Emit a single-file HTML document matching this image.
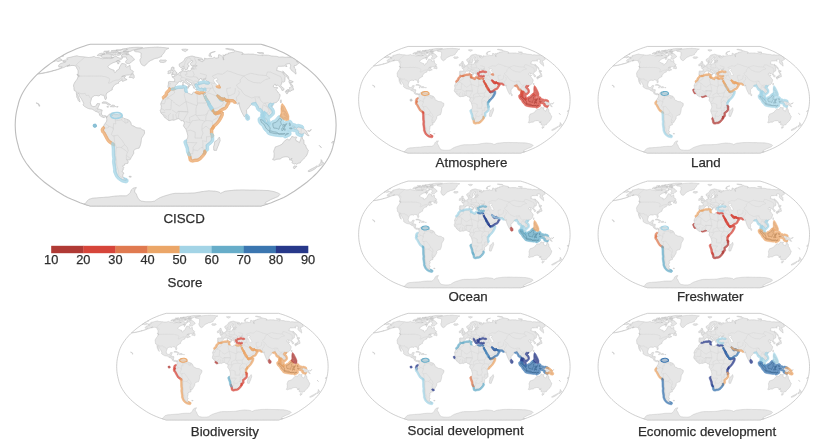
<!DOCTYPE html>
<html><head><meta charset="utf-8"><style>
html,body{margin:0;padding:0;background:#fff;}
body{width:820px;height:448px;overflow:hidden;position:relative;}
svg{position:absolute;left:0;top:0;filter:blur(0.3px);}
.lb{font-family:"Liberation Sans",sans-serif;font-size:13.3px;fill:#2e2e2e;stroke:#2e2e2e;stroke-width:0.25px;}
.tk{font-family:"Liberation Sans",sans-serif;font-size:12.8px;fill:#2e2e2e;stroke:#2e2e2e;stroke-width:0.25px;}
</style></head><body>
<svg width="820" height="448" viewBox="0 0 820 448">
<defs>
<g id="base">
<path d="M90.3,206.0 87.3,205.1 83.8,204.0 80.0,202.7 76.0,201.1 71.7,199.3 67.6,197.4 63.9,195.4 60.3,193.3 57.0,191.2 53.8,189.0 50.6,186.8 47.5,184.5 44.5,182.2 41.7,179.8 38.9,177.4 36.4,175.0 34.0,172.6 31.8,170.1 29.7,167.7 27.8,165.2 26.0,162.7 24.4,160.2 22.9,157.7 21.6,155.2 20.5,152.7 19.5,150.2 18.7,147.7 18.1,145.2 17.4,142.6 16.8,140.1 16.3,137.6 15.9,135.1 15.6,132.6 15.4,130.1 15.3,127.6 15.2,125.1 15.3,122.6 15.4,120.1 15.6,117.6 15.9,115.1 16.3,112.6 16.8,110.1 17.4,107.6 18.1,105.0 18.7,102.5 19.5,100.0 20.5,97.5 21.6,95.0 22.9,92.5 24.4,90.0 26.0,87.5 27.8,85.0 29.7,82.5 31.8,80.1 34.0,77.6 36.4,75.2 38.9,72.8 41.7,70.4 44.5,68.0 47.5,65.7 50.6,63.4 53.8,61.2 57.0,59.0 60.3,56.9 63.9,54.8 67.6,52.8 71.7,50.9 76.0,49.1 80.0,47.5 83.8,46.2 87.3,45.1 90.3,44.2 261.0,44.2 264.0,45.1 267.5,46.2 271.3,47.5 275.3,49.1 279.6,50.9 283.7,52.8 287.4,54.8 291.0,56.9 294.3,59.0 297.5,61.2 300.7,63.4 303.8,65.7 306.8,68.0 309.6,70.4 312.4,72.8 314.9,75.2 317.3,77.6 319.5,80.1 321.6,82.5 323.5,85.0 325.3,87.5 326.9,90.0 328.4,92.5 329.7,95.0 330.8,97.5 331.8,100.0 332.6,102.5 333.2,105.0 333.9,107.6 334.5,110.1 335.0,112.6 335.4,115.1 335.7,117.6 335.9,120.1 336.0,122.6 336.1,125.1 336.0,127.6 335.9,130.1 335.7,132.6 335.4,135.1 335.0,137.6 334.5,140.1 333.9,142.6 333.2,145.2 332.6,147.7 331.8,150.2 330.8,152.7 329.7,155.2 328.4,157.7 326.9,160.2 325.3,162.7 323.5,165.2 321.6,167.7 319.5,170.1 317.3,172.6 314.9,175.0 312.4,177.4 309.6,179.8 306.8,182.2 303.8,184.5 300.7,186.8 297.5,189.0 294.3,191.2 291.0,193.3 287.4,195.4 283.7,197.4 279.6,199.3 275.3,201.1 271.3,202.7 267.5,204.0 264.0,205.1 261.0,206.0Z" fill="#fff" stroke="#bdbdbd" stroke-width="1.1"/>
<path d="M113.5,57.2 112.7,57.3 111.9,57.3 111.1,57.4 110.9,58.1 111.7,58.1 112.6,58.2ZM118.3,51.6 117.3,51.6 116.4,51.7 115.5,51.7 114.6,51.8 114.3,52.5 115.2,52.5 116.0,52.5 116.9,52.5ZM120.2,52.5 119.4,52.6 118.7,52.6 117.9,52.7 117.6,53.2 118.6,53.2 119.5,53.2ZM109.3,50.9 108.3,51.0 107.3,51.1 106.3,51.2 105.3,51.2 104.4,51.3 103.5,52.1 104.5,52.0 105.4,52.0 106.4,52.0 107.3,51.9ZM117.2,50.2 116.2,50.3 115.3,50.3 114.3,50.4 113.4,50.4 112.5,50.5 111.5,50.6 111.1,51.3 111.9,51.3 112.7,51.2 113.6,51.2 114.4,51.1 115.3,51.1 116.1,51.0ZM122.0,49.5 121.1,49.5 120.2,49.6 119.3,49.7 118.4,49.7 117.4,49.8 116.5,49.8 116.5,50.3 116.5,50.7 117.3,50.7 118.1,50.6 119.0,50.6 119.8,50.5 120.6,50.5 121.4,50.4ZM128.6,53.8 127.8,53.9 126.9,54.0 126.0,54.0 126.0,54.8 126.8,54.7 127.6,54.7 128.3,54.6ZM118.9,63.1 117.6,63.4 117.7,63.9 118.9,63.6ZM36.3,102.8 37.0,103.1 37.7,103.4 38.9,103.9 39.3,104.7 39.9,106.1 38.9,106.2 38.8,105.0 38.2,104.0 37.3,103.6 36.3,103.2ZM53.4,70.6 52.2,70.9 51.0,71.2 49.7,71.5 48.4,71.8 47.0,72.1 45.7,72.5 44.3,72.7 42.9,73.0 41.5,73.2 40.3,73.4 39.1,73.6 38.0,73.7 37.6,74.1 38.7,73.9 39.9,73.8 41.1,73.6 42.5,73.4 43.9,73.1 45.3,72.8 46.6,72.6 47.9,72.3 49.2,72.0 50.4,71.7 51.5,71.4 52.6,71.0ZM319.2,145.4 319.8,146.0 320.4,146.7 321.3,147.7 321.2,147.2 320.4,146.5 319.6,145.8ZM332.9,141.3 334.0,141.7 332.9,142.5 332.2,143.3 331.6,142.5ZM62.5,60.7 63.8,60.4 65.2,60.1 66.5,59.8 67.8,59.5 67.4,59.1 67.1,58.7 66.7,58.3 67.8,57.8 68.8,57.6 69.9,57.4 70.9,57.2 72.2,56.8 73.5,56.5 74.8,56.2 75.9,56.0 77.1,55.7 77.7,56.0 78.3,56.2 78.9,56.5 79.6,56.5 80.3,56.6 81.0,56.6 81.7,56.7 82.4,56.7 83.1,56.8 83.8,56.8 84.4,56.9 85.0,57.0 85.6,57.1 86.2,57.2 86.9,57.3 87.7,57.4 88.5,57.5 89.5,57.4 90.4,57.3 91.4,57.2 92.8,56.8 94.2,56.4 94.7,56.7 95.2,57.0 95.7,57.3 96.5,57.4 97.3,57.5 98.1,57.6 98.9,57.7 99.7,57.8 100.3,58.1 100.9,58.3 101.5,58.5 102.1,58.8 103.2,58.6 104.3,58.5 105.4,58.3 106.6,58.2 107.4,58.3 108.3,58.4 109.2,58.5 110.1,58.6 111.2,58.2 112.4,57.7 113.5,57.3 114.8,56.5 116.2,55.7 116.5,56.2 116.7,56.8 117.0,57.3 117.8,57.5 118.6,57.7 119.4,58.0 120.2,58.2 121.5,57.7 122.8,57.3 122.4,58.2 121.9,59.0 120.7,59.6 119.5,60.1 118.4,60.5 117.4,60.8 116.4,61.6 115.3,62.0 114.2,62.4 113.1,62.7 111.9,63.4 110.6,64.1 109.4,64.8 108.6,65.8 107.8,66.8 108.3,67.3 108.7,67.8 109.2,68.3 109.9,68.6 110.6,69.0 111.3,69.3 112.1,69.6 112.7,69.8 113.4,70.0 114.1,70.2 114.2,71.0 114.2,71.8 114.8,72.7 116.2,71.7 116.6,70.6 117.9,69.8 119.2,69.0 119.4,68.0 119.6,67.1 120.1,66.2 120.7,65.2 121.2,64.3 121.8,63.4 122.8,63.6 123.7,63.7 124.7,63.9 125.5,64.3 126.3,64.8 126.0,65.7 125.7,66.6 126.3,66.9 126.9,67.1 128.4,66.2 129.2,65.8 130.0,65.3 130.1,66.4 130.3,67.6 130.3,68.5 130.3,69.4 131.1,69.9 131.9,70.4 132.7,70.8 133.5,71.8 132.8,72.8 132.2,73.7 131.2,74.1 130.3,74.6 129.3,75.0 128.2,75.0 127.2,75.1 126.1,75.2 125.2,75.4 124.2,75.6 123.2,75.8 121.7,76.6 123.0,76.4 124.2,76.1 124.9,76.2 125.5,76.3 124.6,77.3 124.4,78.1 125.2,78.6 126.0,79.1 127.1,79.6 125.9,80.1 124.8,80.5 123.7,81.0 122.6,81.5 122.4,80.7 122.2,79.9 121.2,80.5 120.2,81.0 119.3,81.7 118.5,82.3 118.7,83.2 117.4,83.5 116.3,84.0 115.2,84.4 114.5,85.2 113.8,86.0 113.4,86.7 112.3,88.0 112.3,88.9 112.3,89.8 110.8,90.5 109.8,91.2 108.3,92.1 106.8,93.0 106.4,94.0 106.0,95.0 106.2,95.9 106.3,96.7 106.6,98.0 106.1,98.9 105.6,99.8 104.9,99.0 104.7,98.0 104.5,97.0 104.1,96.1 103.7,95.2 102.8,95.3 101.6,95.0 100.4,94.7 99.1,96.0 97.9,95.8 96.8,95.5 95.6,95.6 94.3,95.7 93.1,96.6 91.8,97.5 91.4,98.8 91.1,100.0 90.7,101.4 90.3,102.8 90.9,104.3 91.4,105.9 92.3,106.2 93.1,106.6 94.2,106.5 95.4,106.4 96.4,105.0 97.0,103.7 98.2,103.6 99.4,103.5 99.8,103.8 99.4,104.7 99.0,105.5 98.5,106.6 98.1,107.6 97.4,109.1 98.4,109.1 99.4,109.2 100.3,109.5 101.3,109.8 102.2,110.1 101.9,111.3 101.6,112.6 101.4,114.1 102.0,115.1 103.3,115.8 104.2,115.7 105.1,115.6 105.8,115.9 106.6,116.3 106.9,116.6 107.0,117.1 106.4,117.8 105.5,116.6 105.0,116.6 104.2,117.8 103.0,117.3 101.9,116.9 101.3,116.6 100.4,115.9 99.5,115.3 99.4,113.9 98.8,113.1 98.2,112.3 96.9,111.8 95.9,111.4 94.8,111.1 94.0,110.3 93.2,109.6 91.9,109.1 90.8,109.0 89.8,108.9 88.7,108.6 87.7,108.3 86.7,107.7 85.6,107.1 84.4,106.3 83.5,105.5 83.2,104.6 83.7,103.5 83.4,102.7 83.0,101.8 82.2,100.4 81.7,99.5 81.2,98.5 80.6,97.8 80.1,97.1 79.6,96.3 79.2,95.5 79.1,94.6 78.9,93.7 78.0,93.3 77.8,94.2 77.7,95.0 78.1,96.0 78.5,97.0 78.9,98.0 79.3,99.0 79.6,99.9 79.8,100.8 79.9,102.1 79.1,101.3 78.3,100.5 77.9,99.5 77.6,98.5 76.8,97.2 76.7,96.4 76.7,95.5 76.4,94.0 76.3,92.5 75.7,91.0 74.9,90.8 74.2,90.5 74.0,89.0 73.9,88.1 73.9,87.2 73.5,86.0 73.7,84.6 74.3,83.3 75.0,82.0 76.1,80.5 77.2,79.1 77.6,77.9 78.1,76.7 79.0,75.6 78.2,75.2 77.4,74.7 78.1,73.2 78.1,72.0 78.1,70.8 77.8,70.1 77.5,69.4 77.2,69.0 76.9,68.5 76.6,67.8 76.4,67.1 76.1,66.6 75.7,66.2 75.2,65.9 74.6,65.7 74.0,65.5 73.0,65.5 72.0,65.4 71.0,65.6 70.0,65.8 68.9,66.0 67.8,66.2 66.8,66.4 68.3,65.6 69.9,64.8 68.1,65.5 66.2,66.2 64.8,67.1 63.5,67.6 62.1,68.0 60.8,68.5 59.3,69.0 57.7,69.6 56.4,70.0 55.1,70.4 53.9,70.6 52.8,70.7 54.4,70.3 55.9,69.9 57.3,69.4 58.7,69.0 60.0,68.5 61.1,67.7 62.2,66.9 61.0,66.9 59.9,67.0 58.8,67.0 58.7,66.3 58.5,65.7 59.5,64.3 61.0,63.4 62.4,63.0 63.9,62.5 65.3,62.3 66.0,61.6 65.0,61.6 64.0,61.6 63.0,61.6 63.2,60.9 62.9,60.8ZM144.3,65.9 145.2,65.3 146.0,64.8 146.7,63.9 147.3,63.0 148.7,61.9 150.1,60.8 151.2,60.3 152.3,59.9 153.5,59.2 154.7,58.6 155.6,58.4 156.5,58.3 157.4,58.2 158.5,57.7 159.5,57.3 160.6,56.9 161.6,56.5 161.9,55.2 162.7,54.4 163.5,53.6 164.1,52.7 164.8,51.7 165.1,50.6 165.9,49.8 166.8,49.1 167.5,48.8 168.2,48.5 168.9,48.2 168.1,48.1 167.3,48.0 166.5,47.9 165.8,47.8 165.0,47.7 164.2,47.6 163.4,47.5 162.7,47.5 161.9,47.4 161.1,47.4 160.3,47.3 159.6,47.3 158.8,47.2 158.1,47.1 157.3,47.1 156.5,47.1 155.8,47.2 155.0,47.2 154.3,47.2 153.5,47.3 152.8,47.3 152.1,47.4 151.3,47.4 150.6,47.4 149.8,47.5 149.1,47.5 148.3,47.6 147.6,47.6 146.8,47.7 146.1,47.7 145.3,47.8 144.6,47.9 143.7,48.1 142.8,48.3 141.9,48.5 140.8,48.7 139.8,49.0 138.7,49.2 137.7,49.5 136.8,49.7 135.8,49.9 134.9,50.2 134.0,50.4 134.2,50.8 134.5,51.2 135.0,51.4 135.5,51.7 136.2,51.8 136.9,51.8 137.6,51.9 138.3,52.0 139.0,52.1 139.5,52.3 139.9,52.5 140.5,52.8 141.2,53.2 141.1,54.4 141.0,55.2 140.8,56.1 141.2,57.3 140.6,58.6 140.0,59.5 139.9,60.8 140.3,61.9 140.6,62.7 140.9,63.4 141.4,64.1 141.8,64.8 142.5,65.2 143.3,65.6 143.8,65.8ZM163.3,62.6 162.5,62.5 161.7,62.4 160.9,62.3 160.1,62.2 159.4,61.0 160.3,59.9 161.3,60.0 162.3,60.1 163.3,60.1 164.1,60.1 164.9,60.0 165.7,59.9 166.5,60.9 165.7,61.7 164.9,62.0 164.1,62.3ZM126.5,53.8 127.3,53.9 128.1,54.1 128.9,54.2 129.4,54.8 129.9,55.2 130.4,55.7 130.9,55.9 131.5,56.2 132.0,56.5 132.5,57.3 133.0,57.7 133.5,58.2 134.0,58.6 134.2,59.2 134.4,59.9 133.6,60.3 132.9,60.8 131.7,61.6 130.4,63.0 129.7,63.6 128.7,63.6 127.7,63.5 126.7,63.4 126.2,63.0 125.8,62.5 125.6,61.6 126.1,60.8 127.2,59.6 126.9,59.1 126.6,58.6 126.5,57.8 126.3,57.1 125.4,57.0 124.5,57.0 123.6,57.0 122.7,56.9 121.8,56.9 121.5,56.5 121.2,56.1 121.9,54.8 123.5,54.1 124.2,54.0 124.9,53.9 125.7,53.8ZM111.3,54.0 110.4,54.0 109.5,54.0 108.7,53.9 107.8,53.9 106.9,53.8 106.1,53.8 105.1,54.0 104.1,54.2 103.0,54.4 102.0,54.6 101.1,55.7 100.9,56.7 101.5,57.0 102.1,57.2 102.7,57.5 103.5,57.6 104.4,57.7 105.3,57.8 106.1,57.9 107.3,57.8 108.4,57.6 109.5,57.5 110.6,57.3 111.6,56.2 111.4,55.7 111.3,55.2 111.3,54.6ZM101.9,53.2 100.8,53.4 99.8,53.5 98.7,54.2 97.7,54.8 97.3,55.7 98.0,55.7 98.7,55.8 99.3,55.8 100.6,55.4 101.9,55.0 103.4,54.5 104.9,54.0 104.7,53.4 104.0,53.4 103.3,53.3 102.6,53.3ZM138.8,47.3 139.4,47.3 140.1,47.4 140.7,47.4 141.4,47.4 142.1,47.5 142.7,47.5 141.9,47.9 141.1,48.2 140.2,48.4 139.4,48.5 138.5,48.7 137.6,48.9 136.7,49.2 135.7,49.4 134.7,49.6 133.7,49.8 132.3,50.4 131.2,51.0 130.0,51.5 129.2,51.6 128.4,51.7 127.6,51.8 126.8,51.8 126.1,51.8 125.3,51.8 124.6,51.7 123.9,51.7 123.2,51.7 124.3,50.9 126.0,50.2 127.6,49.5 127.3,49.1 127.0,48.8 126.6,48.5 127.7,48.2 128.7,48.0 129.7,47.7 130.5,47.7 131.3,47.6 132.1,47.5 132.9,47.5 133.6,47.4 134.4,47.4 135.1,47.4 135.9,47.3 136.6,47.3 137.3,47.3 138.0,47.3ZM128.9,51.5 128.0,51.6 127.1,51.6 126.3,51.6 125.4,51.7 124.5,51.7 123.6,51.7 122.8,51.8 121.7,51.9 120.6,52.1 119.6,52.3 118.5,52.5 119.0,52.8 119.5,53.2 120.3,53.2 121.2,53.2 122.0,53.2 122.8,53.2 123.6,53.2 124.4,53.2 125.3,53.2 126.1,53.2 127.2,52.8 128.3,52.5ZM114.2,52.1 113.3,52.1 112.5,52.1 111.7,52.1 110.9,52.2 110.1,52.2 109.2,52.2 108.4,52.3 107.6,52.3 106.8,52.4 106.0,52.5 106.0,52.8 106.1,53.2 107.0,53.2 107.9,53.2 108.8,53.2 109.6,53.2 110.5,53.2 111.4,53.2 112.3,53.2 113.4,52.7ZM120.9,53.6 120.1,53.7 119.3,53.7 118.5,53.8 117.7,53.8 116.6,54.6 117.0,54.9 117.4,55.2 117.9,55.6 118.7,55.3 119.5,55.1 121.2,54.3ZM116.3,53.6 115.4,53.7 114.5,53.8 113.6,53.8 112.7,53.9 111.8,55.0 112.4,55.2 113.0,55.3 113.5,55.5 114.5,55.1 115.5,54.8ZM125.5,48.5 124.7,48.6 123.8,48.7 123.0,48.9 122.1,49.0 122.1,49.4 122.1,49.8 122.7,50.1 123.2,50.3 124.4,50.1 125.6,49.8 126.8,49.5 126.8,48.8 126.2,48.6ZM118.6,60.5 117.3,60.8 116.1,61.2 116.5,61.8 117.0,62.4 118.1,62.2 119.2,62.1 120.3,62.0 119.9,61.5 119.6,60.9 119.1,60.7ZM133.2,73.6 133.6,74.6 134.1,75.6 134.2,76.6 134.2,77.5 133.5,78.4 132.6,77.9 131.6,77.5 130.8,77.5 129.9,77.4 129.1,77.4 129.8,76.5 130.6,75.6 131.5,74.5 132.4,74.1ZM76.9,74.4 77.3,75.2 77.8,75.9 78.3,76.7 79.3,76.6 79.1,75.9 78.9,75.2 78.2,74.9 77.6,74.6ZM103.8,101.8 104.9,101.9 106.0,101.9 107.0,102.5 108.0,103.0 108.9,103.6 109.8,104.2 110.7,104.8 109.7,104.9 108.8,105.0 107.8,105.1 107.2,104.3 106.7,103.4 105.8,103.3 105.0,103.2 103.9,103.2 102.9,103.2 101.9,103.1 102.7,102.1ZM111.9,105.1 113.1,105.2 114.3,105.3 115.0,106.0 115.6,106.6 114.5,106.7 113.3,106.9 112.3,106.8 111.3,106.7 110.3,106.7 111.1,106.2 111.8,105.6ZM106.9,106.6 107.8,106.6 108.7,106.7 108.2,107.3 107.5,107.1 106.8,106.9ZM116.7,106.6 117.4,106.6 118.1,106.7 117.8,107.1 116.6,107.1ZM106.9,116.6 108.2,115.6 109.3,114.1 110.1,113.9 111.0,113.8 112.2,112.7 112.0,113.6 112.2,114.6 112.1,115.9 112.7,115.0 113.4,114.1 113.6,113.6 114.5,114.1 115.3,114.6 116.2,114.6 117.1,114.6 118.0,114.7 118.9,114.9 119.8,114.6 120.7,114.4 121.1,115.3 121.9,116.5 123.2,117.6 123.9,118.3 124.8,118.6 125.8,118.9 126.7,119.2 127.9,119.7 129.1,120.2 130.2,121.6 131.1,123.1 131.1,124.6 132.4,125.6 133.8,126.1 135.0,126.9 136.2,127.6 137.2,127.8 138.2,127.9 139.3,128.0 140.5,128.1 141.4,128.9 142.3,129.6 143.3,130.0 144.3,130.3 144.5,131.8 144.6,133.2 144.0,134.4 143.3,135.6 142.4,136.9 141.6,138.1 141.4,139.4 141.3,140.6 141.1,141.9 140.9,143.1 140.5,144.7 140.0,146.2 139.5,147.2 139.1,148.2 138.0,148.2 137.2,148.5 136.3,148.8 135.4,149.2 134.5,149.9 133.6,150.7 133.7,151.9 133.8,153.2 133.2,154.2 132.7,155.2 131.9,156.4 131.1,157.7 130.5,159.0 129.5,160.1 128.5,160.0 127.5,159.8 126.5,159.7 127.6,160.7 128.2,161.6 128.1,162.4 128.0,163.2 126.8,163.5 125.6,163.8 124.4,164.1 124.5,165.2 123.5,165.7 122.5,166.2 124.1,167.7 123.6,168.2 123.1,168.7 123.2,170.1 122.6,170.6 122.0,171.1 122.4,172.1 123.2,172.6 124.0,173.1 123.3,174.1 122.7,175.0 122.8,175.8 122.9,176.6 123.7,177.4 124.2,178.2 125.6,179.2 126.4,179.5 127.1,179.7 126.5,179.9 125.9,180.1 125.9,180.7 125.0,180.4 124.0,180.1 123.2,179.9 122.4,179.7 121.3,179.1 120.3,178.4 118.6,177.0 117.9,176.0 117.2,175.0 116.8,174.1 116.4,173.1 116.1,172.1 115.7,171.1 115.7,170.1 115.8,169.2 115.5,167.7 115.3,166.2 115.1,165.2 115.0,164.2 114.8,163.1 114.7,162.0 114.8,161.1 115.0,160.2 115.0,159.2 115.0,158.2 114.8,156.7 114.5,155.2 114.5,153.7 114.5,152.2 114.5,151.0 114.4,149.9 114.4,148.8 114.3,147.7 114.3,146.7 114.2,145.7 114.1,144.7 113.9,143.6 112.9,142.9 111.9,142.1 110.7,141.4 109.5,140.6 108.8,139.6 108.2,138.6 107.4,137.1 106.6,135.6 105.9,134.1 105.3,133.1 104.7,132.1 103.6,131.1 103.3,129.8 104.1,128.6 104.4,127.6 103.6,127.3 103.6,126.1 104.3,124.6 104.7,124.1 105.7,122.6 106.7,121.1 106.8,119.6 106.5,118.1ZM129.2,176.2 130.2,176.3 131.2,176.4 131.1,177.2 130.1,177.1 129.1,177.0ZM170.7,89.2 170.3,90.1 169.9,91.0 169.2,91.5 168.5,92.0 167.3,93.5 167.4,94.6 166.7,95.6 166.0,96.5 165.2,97.0 164.4,97.5 163.1,98.9 162.5,100.0 161.9,101.0 161.5,102.0 161.0,103.0 160.7,104.2 161.0,105.1 161.4,106.1 161.2,107.6 161.1,109.1 160.2,110.4 160.5,111.5 160.8,112.6 161.9,114.1 162.7,114.8 163.5,115.6 163.9,116.6 164.7,117.3 165.4,118.1 166.8,119.1 167.9,119.9 169.0,120.7 170.0,120.5 171.1,120.2 172.1,120.0 173.0,120.1 173.9,120.3 174.8,119.9 175.7,119.6 176.5,119.2 177.4,118.9 178.7,118.7 179.3,119.0 180.0,119.3 181.0,120.8 181.9,120.7 182.8,120.7 183.7,121.1 184.4,122.6 184.2,123.6 183.9,124.6 183.4,125.7 184.0,126.7 184.6,127.6 185.9,129.1 186.2,130.1 186.6,131.1 187.0,132.5 187.4,133.9 187.6,134.9 187.9,135.9 187.7,136.8 187.6,137.6 187.0,138.9 186.3,140.1 186.2,141.1 186.0,142.1 186.6,143.6 187.1,145.2 187.7,146.6 188.3,148.1 188.4,149.3 188.6,150.5 188.7,151.8 189.2,152.8 189.7,153.8 190.2,155.0 190.7,156.2 190.7,157.1 190.8,158.0 191.0,158.8 191.2,159.6 192.5,160.0 193.5,159.7 194.6,159.4 195.5,159.3 196.4,159.3 197.2,159.2 198.3,158.7 199.3,158.2 200.0,157.4 200.8,156.7 201.5,155.9 202.2,155.1 202.9,154.1 203.6,153.2 204.1,152.1 203.9,151.1 204.7,150.2 205.6,149.6 206.5,149.1 206.4,147.6 206.3,146.2 206.2,145.0 207.5,143.9 208.7,143.0 210.0,142.1 210.8,141.1 211.6,140.1 211.6,138.9 211.6,137.6 211.5,136.6 211.5,135.6 211.1,134.6 210.7,133.6 210.6,132.8 210.6,131.9 210.6,130.8 210.6,129.6 211.0,129.1 211.6,128.1 212.2,127.1 212.9,126.1 213.5,125.1 214.8,124.1 216.0,123.1 217.2,121.6 218.4,120.1 219.2,118.6 220.1,117.1 220.7,115.9 221.2,114.7 221.1,113.3 220.1,113.6 219.1,113.9 217.9,114.1 216.7,114.4 215.6,114.7 214.3,113.6 213.9,113.6 214.0,112.5 212.9,111.8 211.9,111.1 211.2,110.3 210.5,109.5 210.0,108.5 209.5,107.6 208.9,106.5 208.2,105.4 208.0,104.2 207.8,103.0 207.0,101.8 206.2,100.5 205.5,99.2 204.8,97.8 204.1,96.5 203.5,95.1 203.2,93.7 202.4,93.6 201.6,93.5 201.1,93.8 200.3,94.0 199.5,94.1 198.2,93.8 196.9,93.5 196.0,92.9 194.7,92.2 193.4,92.2 192.6,92.9 192.3,93.8 191.9,94.7 191.0,94.4 190.2,94.0 188.8,93.5 187.8,92.8 186.8,92.1 186.1,92.1 185.4,92.0 184.9,91.2 184.7,90.3 184.9,89.2 184.8,87.9 183.8,87.7 183.1,87.9 182.3,88.1 181.5,88.1 180.6,88.0 179.4,88.1 178.2,88.2 177.3,88.5 176.5,88.7 175.8,89.0 175.1,89.3 174.2,89.6 173.2,89.8 172.5,89.8 171.9,89.8ZM219.3,137.1 219.9,138.6 220.0,139.6 220.2,140.6 219.6,142.1 219.0,143.6 218.5,145.2 217.8,146.7 217.2,148.2 216.8,149.3 216.5,150.4 215.8,150.4 215.1,150.5 213.8,150.2 213.7,148.7 213.6,147.7 213.6,146.7 214.0,145.4 214.4,144.1 214.4,143.1 214.5,142.1 215.3,141.1 216.6,140.6 217.6,139.6 218.3,138.4ZM203.5,95.1 204.0,96.5 205.1,97.3 205.4,96.5 205.6,95.5 206.0,97.0 206.6,98.0 207.2,99.0 207.9,100.0 208.6,101.0 209.2,102.3 209.9,103.5 210.7,104.8 211.6,106.1 212.3,107.1 213.0,108.1 213.2,109.1 213.4,110.1 213.8,111.6 214.1,112.4 215.5,112.3 216.6,111.9 217.6,111.6 218.9,110.6 219.8,110.1 220.6,109.6 221.9,108.6 223.2,108.1 224.4,107.6 225.5,106.6 225.9,105.5 226.4,104.5 227.1,103.5 227.8,102.5 226.6,101.4 225.9,101.0 225.1,100.5 224.7,99.6 224.3,98.6 223.7,99.5 223.0,100.8 221.9,100.9 220.8,101.0 220.3,100.4 220.4,99.5 220.0,98.9 219.7,100.0 218.9,98.5 217.9,97.5 217.4,96.6 216.8,95.7 217.2,95.0 218.5,95.5 219.7,96.5 220.9,97.5 222.3,98.0 223.2,98.5 224.2,98.0 225.1,98.5 225.9,99.5 227.2,99.6 228.5,99.7 229.6,99.8 230.7,99.8 231.8,99.8 232.9,99.8 233.8,100.2 235.0,101.2 235.8,102.5 236.3,103.5 237.6,104.2 238.3,103.9 239.0,103.5 238.9,102.5 239.1,104.0 239.3,105.0 239.5,106.1 239.8,107.1 240.1,108.1 240.7,109.6 241.2,110.8 241.7,112.1 242.3,113.1 242.8,114.1 243.3,115.1 243.9,116.0 244.5,117.0 245.1,116.1 245.8,115.4 246.4,114.8 246.6,113.4 246.7,112.1 246.5,111.1 246.3,110.1 247.5,109.1 248.2,108.2 248.9,107.4 249.5,106.5 250.1,105.5 251.4,105.0 251.6,103.5 252.5,103.3 253.3,103.0 254.6,103.0 255.3,102.2 255.7,102.7 256.3,104.0 257.1,105.0 258.2,106.6 258.6,108.1 259.4,109.1 260.6,108.6 261.9,110.1 262.5,111.6 263.1,113.1 263.1,114.1 263.1,115.1 263.0,116.1 263.0,117.1 263.8,117.8 264.7,118.6 265.0,120.1 265.5,121.1 265.9,122.1 267.0,122.9 268.2,123.8 268.0,123.1 267.9,122.1 267.7,121.1 267.1,119.8 266.4,118.6 265.1,117.9 264.5,117.0 263.8,116.1 263.6,114.6 263.9,113.6 264.1,112.6 264.1,111.8 264.5,111.6 265.5,112.6 266.4,112.9 267.0,114.1 267.4,114.6 268.7,115.6 268.7,116.5 269.5,115.8 270.3,115.1 271.0,114.6 271.7,113.8 272.4,113.1 272.3,111.6 271.8,110.1 271.0,109.1 270.1,108.3 269.3,107.6 268.4,106.1 268.9,104.5 269.2,104.0 270.4,103.3 271.5,103.5 272.1,104.7 272.2,104.0 273.0,103.5 274.1,103.1 275.2,102.7 276.0,102.5 276.7,102.2 277.4,101.5 278.4,100.5 279.1,99.0 279.6,97.5 280.0,96.2 280.1,95.0 279.6,94.0 278.5,93.0 277.5,91.5 276.7,90.5 275.9,89.5 276.8,88.8 277.8,88.1 277.5,87.6 276.7,87.5 275.8,87.4 275.1,87.5 274.5,87.5 273.4,86.8 273.1,86.0 273.9,85.5 274.3,84.9 274.6,84.2 275.8,84.5 276.0,86.0 276.6,85.6 277.2,85.2 277.9,85.2 279.1,86.5 280.6,87.3 281.0,88.2 281.5,89.0 282.0,90.5 282.9,90.3 284.0,89.9 283.8,88.5 282.3,87.0 280.7,85.5 280.8,85.0 281.2,84.5 281.7,84.0 281.6,82.7 282.2,81.9 283.3,82.2 284.0,81.9 284.7,81.5 284.9,80.1 285.0,79.1 285.0,78.1 285.1,77.4 285.3,76.6 284.4,75.2 283.3,73.7 282.5,72.3 281.4,71.8 280.3,71.5 279.2,71.2 278.0,70.8 276.5,70.4 276.8,69.7 277.1,69.0 277.1,68.3 277.2,67.6 277.5,67.2 277.9,66.7 278.3,66.3 279.2,66.3 280.1,66.3 281.0,66.3 281.8,66.3 282.7,66.2 283.5,66.2 284.0,66.1 284.5,66.0 285.8,66.3 287.0,66.6 286.4,65.5 285.8,64.3 286.6,64.1 287.4,63.9 288.1,63.7 288.9,63.6 289.6,63.4 290.4,64.8 290.8,65.9 290.6,66.4 290.4,67.0 290.2,67.6 290.2,68.5 290.9,69.4 291.5,70.4 293.1,71.6 294.6,72.9 296.0,74.2 296.0,73.5 296.0,72.8 295.6,71.3 295.6,70.6 295.5,69.9 295.8,69.4 294.4,68.0 294.2,66.9 294.0,65.9 294.8,65.7 295.5,65.5 296.2,65.3 296.6,65.0 297.0,64.7 297.4,64.3 297.8,64.0 298.2,63.7 298.6,63.4 297.6,62.5 296.5,61.6 297.1,61.4 297.5,61.2 295.9,60.1 294.2,58.9 292.4,57.8 291.3,57.6 290.2,57.4 289.1,57.3 288.0,57.1 287.3,57.1 286.6,57.2 285.9,57.3 285.2,57.3 284.1,57.2 283.1,57.0 282.0,56.9 281.3,57.0 280.6,57.0 279.9,57.1 279.1,57.2 278.0,56.8 276.8,56.4 275.8,56.3 274.8,56.3 273.8,56.2 272.8,56.1 271.9,56.1 270.7,55.8 269.6,55.5 268.5,55.2 267.4,55.2 266.4,55.1 265.4,55.1 264.4,55.0 263.3,54.9 262.6,54.8 262.8,55.7 261.7,55.5 260.7,55.4 259.6,55.2 258.6,55.1 257.5,54.9 256.5,54.7 255.5,54.6 254.4,54.4 253.3,54.1 252.3,54.1 251.4,54.1 250.5,54.1 249.5,54.1 248.6,54.0 247.7,54.1 246.8,54.1 246.0,54.2 245.1,54.2 244.1,54.1 243.1,54.0 242.4,54.2 241.7,54.4 242.2,54.2 242.7,53.9 243.2,53.6 242.4,52.5 241.2,52.2 240.1,52.0 239.0,51.8 237.9,51.5 236.8,51.3 235.7,50.8 235.2,51.1 234.8,51.4 234.3,51.7 233.9,51.9 233.6,52.1 232.9,52.2 232.3,52.3 231.6,52.5 231.0,52.6 230.3,52.8 229.6,52.9 228.9,53.1 228.2,53.2 228.5,53.8 227.7,54.0 226.9,54.1 226.1,54.3 225.3,54.4 225.8,55.0 225.1,55.1 224.4,55.2 224.8,55.9 223.8,55.4 222.9,54.8 223.1,55.7 223.2,56.7 223.3,57.7 223.2,58.2 223.2,58.9 223.1,59.6 224.0,59.9 223.5,58.6 223.1,57.7 222.7,56.9 221.4,55.7 220.2,55.1 219.0,54.6 218.5,54.8 218.5,55.9 218.4,56.9 218.7,57.7 217.9,57.8 217.1,58.0 216.2,58.1 215.4,58.2 214.5,57.1 213.9,57.4 213.4,57.8 212.8,58.2 211.8,58.2 210.8,58.2 210.1,58.3 209.3,58.4 208.5,58.6 207.7,58.7 206.9,58.8 206.0,58.6 205.2,58.4 204.3,58.2 204.7,59.0 205.0,59.9 204.3,59.9 203.7,60.0 203.3,60.8 202.9,61.6 201.8,61.6 200.8,61.5 200.1,60.3 199.0,60.0 197.9,59.7 198.9,59.8 200.0,59.9 201.0,59.9 202.0,60.0 203.0,60.1 202.7,59.0 201.4,58.2 200.6,58.0 199.8,57.9 199.0,57.7 197.9,57.5 196.9,57.3 196.2,57.2 195.6,57.1 194.8,56.7 193.9,56.5 192.9,56.2 192.0,56.0 191.2,56.2 190.4,56.3 189.7,56.5 188.7,56.7 187.8,56.9 186.9,57.3 186.0,57.7 185.4,58.2 184.8,58.6 184.6,59.5 183.7,60.8 183.1,61.4 182.5,62.1 181.7,62.5 180.8,63.0 180.1,63.4 179.3,63.9 179.2,64.6 179.2,65.3 179.6,66.6 180.7,67.6 181.8,67.4 182.5,67.0 183.2,66.6 183.1,65.9 183.8,66.6 184.1,67.6 184.4,68.5 185.1,69.4 185.3,70.0 186.2,69.6 186.8,69.4 187.4,69.2 187.7,68.0 187.7,67.1 188.5,66.7 189.2,66.3 188.8,65.4 187.8,64.8 187.9,63.4 188.5,63.0 189.1,62.5 189.6,62.1 190.2,61.6 190.8,61.1 191.4,60.5 192.1,60.6 192.8,60.8 192.7,61.6 191.9,62.1 191.1,62.5 190.4,63.4 190.7,64.8 191.3,65.5 192.1,65.9 192.7,65.8 193.4,65.6 194.3,65.4 195.1,65.2 196.1,65.5 197.2,65.8 196.5,66.0 195.8,66.2 195.7,66.3 194.8,66.3 193.8,66.3 192.8,66.3 192.6,66.9 192.6,67.3 193.3,68.5 192.7,68.3 192.0,68.0 191.3,68.2 191.1,69.0 191.2,69.6 190.6,70.6 189.7,70.9 189.1,70.6 188.0,70.8 187.1,71.1 186.2,71.3 185.4,71.2 184.6,71.1 183.9,71.2 183.3,70.9 183.0,70.6 183.4,69.9 183.2,69.0 183.4,67.8 182.6,68.2 181.9,68.5 181.6,69.4 182.1,70.5 182.1,71.4 182.0,71.7 180.9,71.8 180.2,72.0 179.1,72.8 178.7,73.4 178.1,73.9 177.1,74.2 176.8,75.0 175.8,75.5 175.8,75.7 174.9,75.8 174.5,75.5 174.5,76.4 173.3,76.5 172.6,76.5 172.0,76.5 172.3,77.3 173.1,77.6 173.9,77.9 174.2,78.6 174.7,79.6 174.6,81.0 174.4,81.6 173.5,81.6 172.6,81.6 171.7,81.6 170.8,81.5 170.0,81.5 169.2,81.4 168.6,81.7 168.4,83.0 168.4,84.0 168.3,85.0 167.8,86.3 168.4,87.0 168.2,88.0 169.4,87.9 170.4,88.5 171.1,88.9 172.0,88.3 172.9,88.3 173.8,88.3 174.8,87.4 175.3,86.5 175.4,85.6 176.4,84.3 177.4,83.6 178.2,82.6 178.1,82.3 179.3,81.5 180.0,81.7 180.9,81.9 181.5,81.3 182.2,81.0 182.8,80.6 183.7,81.0 184.1,82.0 184.7,82.6 185.7,83.3 186.8,83.8 187.3,84.2 188.4,85.0 188.9,86.0 188.7,87.0 189.3,86.7 189.4,86.1 189.7,85.5 189.8,84.6 190.8,85.2 190.4,84.4 189.1,83.7 188.7,83.1 187.4,82.5 186.5,81.4 185.6,80.3 185.5,79.7 186.1,79.3 186.6,79.5 186.8,80.3 187.2,79.9 187.9,80.8 188.9,81.5 189.6,82.0 190.3,82.4 191.2,83.0 191.6,83.7 191.9,85.0 192.3,85.5 192.8,86.2 193.5,86.7 193.4,87.5 193.7,88.2 194.4,88.6 194.8,87.5 195.3,87.1 195.5,86.5 194.5,85.5 194.4,84.5 195.3,85.0 195.7,84.1 196.9,84.1 197.4,84.4 198.5,84.0 199.2,83.8 198.7,83.5 198.4,83.0 198.1,82.4 198.2,81.7 198.6,80.8 199.3,79.9 199.7,79.1 200.0,78.6 201.0,78.5 202.3,79.1 201.6,79.8 202.7,80.6 203.4,80.4 204.0,80.1 204.8,79.8 203.5,79.5 203.4,78.9 204.3,78.6 205.2,78.4 206.0,78.1 205.7,78.6 205.3,79.8 205.9,80.4 206.8,80.9 207.6,81.4 208.5,82.0 209.3,82.5 209.5,83.4 208.9,83.7 208.3,84.0 207.5,84.0 206.7,83.9 206.0,83.8 205.3,83.7 204.3,83.0 203.4,83.2 202.5,83.4 201.4,83.8 200.4,83.9 199.5,83.9 199.8,84.2 199.4,84.6 198.2,84.6 197.3,85.0 197.7,85.7 197.8,86.6 198.3,87.2 198.5,88.0 199.4,88.3 200.6,88.7 201.2,88.1 202.0,88.5 202.8,88.8 203.9,88.8 204.5,88.2 205.2,88.3 205.9,88.4 205.7,89.0 205.7,89.5 205.9,90.5 205.6,91.1 205.3,92.2 204.9,93.6 204.0,93.9 203.2,93.7ZM171.2,75.1 172.1,74.8 173.0,74.6 173.7,74.5 174.5,74.5 175.3,74.4 176.0,74.4 176.7,74.1 176.4,73.7 176.9,73.2 176.9,72.6 175.9,72.2 175.7,71.7 175.1,70.8 174.5,69.9 173.8,69.4 173.7,69.0 174.1,68.4 174.3,67.8 173.7,67.9 173.1,67.9 173.4,67.0 172.7,67.0 172.0,67.0 171.4,68.0 171.2,69.0 171.4,69.9 171.9,70.4 172.4,70.4 173.0,70.5 173.2,71.3 173.4,71.9 172.8,71.9 172.2,72.0 172.2,72.5 171.8,73.2 171.8,73.5 172.6,73.6 173.2,73.7 172.4,74.0 171.8,74.7ZM170.2,70.1 169.3,70.7 168.2,71.0 168.0,71.8 168.2,72.8 167.8,73.6 168.4,73.7 169.5,73.4 170.2,73.2 170.9,73.0 171.0,72.0 171.1,71.3 171.5,70.7 171.0,70.2ZM185.1,49.1 185.8,49.2 186.5,49.3 187.2,49.4 187.9,49.5 187.6,50.2 186.8,50.6 186.0,50.9 185.3,51.7 184.5,51.3 183.7,50.9 183.0,50.6 182.2,50.2 181.8,49.4 182.6,49.3 183.4,49.2 184.2,49.2ZM215.3,51.5 214.6,51.6 213.8,51.8 213.1,51.9 212.3,52.1 211.7,52.4 211.1,52.7 210.4,52.9 209.8,53.2 209.6,53.8 209.3,54.4 209.1,55.2 208.9,56.1 209.9,56.2 210.9,56.3 211.9,56.5 210.3,55.2 210.6,54.0 210.8,53.4 211.1,52.8 211.7,52.7 212.3,52.5 212.9,52.3 213.5,52.1 214.1,51.9 214.7,51.7ZM227.4,48.5 226.8,48.6 226.2,48.7 225.6,48.8 226.6,49.1 227.7,49.3 228.7,49.6 229.7,49.8 230.7,50.0 231.7,50.1 232.6,50.3 233.6,50.4 234.6,50.6 233.7,49.5 232.7,49.3 231.6,49.1 230.5,49.0 229.5,48.8 228.4,48.6ZM257.3,52.5 258.1,52.5 258.8,52.5 259.6,52.5 260.4,52.5 261.2,52.5 262.0,52.5 263.9,53.2 263.3,53.4 262.7,53.6 262.1,53.8 261.5,54.0 260.3,53.6 259.1,53.2ZM63.7,55.7 64.0,55.7 62.5,56.2 62.0,55.9 62.8,55.8ZM53.8,61.2 55.1,61.0 56.4,60.8 56.9,61.1 57.4,61.3 57.9,61.6 59.2,61.2 60.5,60.8 62.1,60.2 61.8,59.8 61.6,59.5 61.1,59.2 60.6,59.0 60.0,58.8 59.6,58.4 59.2,58.1 58.9,57.8 57.1,58.9 55.4,60.1ZM291.1,83.8 292.2,85.0 292.9,86.0 292.9,87.5 293.5,89.0 293.5,89.8 293.3,90.1 292.6,90.0 292.0,90.4 291.0,90.4 290.4,91.5 289.2,90.8 288.5,90.8 287.7,90.7 287.0,90.9 286.2,91.0 286.2,90.5 286.9,90.0 287.6,89.5 288.4,89.5 289.2,89.4 289.6,88.5 289.4,87.6 289.7,87.5 290.2,88.0 290.7,87.5 291.2,87.0 291.2,86.0 290.4,84.5 290.2,83.8ZM288.7,79.6 289.7,80.1 290.6,80.5 292.0,81.1 293.3,81.7 292.7,81.9 292.1,82.1 292.1,83.0 291.0,82.8 289.9,82.5 289.8,83.5 289.4,82.7 288.9,81.8 289.3,80.7ZM286.1,91.1 285.2,91.5 285.7,92.4 286.6,93.8 287.1,94.0 287.5,93.4 287.4,92.0 286.9,91.4ZM289.1,90.7 289.2,91.7 288.4,92.2 287.6,91.5 288.0,91.0ZM282.6,71.0 284.1,72.3 285.0,73.2 285.9,74.2 287.0,75.2 288.1,76.1 288.5,77.1 288.9,78.1 288.4,79.1 287.4,77.6 286.5,76.4 285.7,75.2 284.7,74.2 283.7,73.2 283.0,71.8ZM281.0,99.7 281.4,101.0 281.2,102.0 281.0,103.0 280.4,102.2 280.4,101.4 280.4,100.5ZM272.5,104.9 273.0,105.8 271.8,106.9 270.9,106.3 271.5,105.1ZM281.7,106.6 282.9,106.7 283.1,107.9 283.3,109.1 283.4,110.6 284.3,110.9 285.2,111.2 285.5,112.5 284.5,111.9 283.5,111.3 282.5,111.6 282.0,110.5 281.2,109.1 281.5,107.6ZM287.0,115.4 287.6,116.2 288.1,117.1 287.9,118.6 287.2,119.4 286.0,118.8 285.3,118.3 284.6,117.8 284.1,118.2 285.4,117.1 286.5,116.6ZM285.7,112.6 287.1,113.8 286.7,115.1 286.1,115.3 285.4,115.5 284.3,115.1 283.7,113.6 284.3,113.3 285.0,113.1ZM281.5,113.6 281.9,114.6 280.8,115.6 279.8,116.7 280.0,116.1 280.8,114.8ZM260.5,119.5 261.4,119.7 262.4,119.9 263.6,121.4 264.5,122.2 265.5,123.1 266.2,123.5 267.0,123.9 268.1,125.1 268.7,126.1 269.8,127.4 270.1,128.6 269.9,129.8 269.8,131.0 268.7,130.6 267.7,129.9 266.8,129.1 265.6,127.6 265.0,126.1 264.4,125.1 263.8,124.1 262.7,123.3 261.6,122.6 261.2,121.6 260.7,120.6ZM270.0,131.0 270.8,131.1 271.6,131.1 272.5,131.4 273.4,131.7 274.4,131.9 275.2,132.0 276.0,132.0 276.7,132.4 277.4,132.7 277.2,133.8 276.2,133.7 275.2,133.6 274.3,133.5 273.2,133.2 272.1,132.9 271.2,132.7 270.2,132.5 269.2,132.0ZM277.8,133.2 279.1,133.9 280.2,133.7 281.4,133.5 282.2,133.7 283.1,133.8 284.0,133.6 284.9,133.4 284.7,133.9 283.5,134.1 282.3,134.2 281.1,134.3 280.2,134.2 279.2,134.1 278.2,134.0ZM286.7,133.4 287.7,133.5 288.6,133.6 287.6,134.1 286.6,134.5 285.2,135.4 285.7,134.7ZM279.7,118.1 281.1,119.1 281.8,120.1 280.7,121.1 280.8,122.1 280.8,123.1 281.7,124.1 280.7,125.1 280.0,126.1 279.4,127.6 279.2,128.5 278.9,129.3 277.7,128.9 277.2,128.4 276.1,128.3 275.0,128.1 273.8,128.1 273.2,126.6 272.9,125.1 272.8,123.6 273.2,123.1 274.1,122.8 275.0,122.6 276.3,122.1 277.0,121.3 277.6,120.5 278.4,120.1 278.9,119.1 279.5,118.2ZM287.1,123.7 286.2,124.1 285.3,124.3 284.4,124.6 283.1,124.3 282.6,125.1 283.1,126.1 283.0,127.6 281.6,128.6 281.8,129.7 281.9,130.7 282.8,130.4 283.4,129.6 283.4,128.1 283.8,129.0 284.2,129.9 285.1,130.4 285.2,129.3 284.6,128.1 284.0,126.6 284.7,126.4 285.5,126.1 285.6,125.6 284.7,125.7 283.8,125.8 284.8,125.3 285.7,124.7 286.6,124.1ZM289.6,122.8 290.0,123.7 290.4,124.6 289.9,125.9 289.4,124.7 289.3,123.6ZM289.7,127.9 290.9,128.0 292.2,128.1 291.7,128.9 290.7,128.8 289.7,128.6ZM292.6,125.8 293.8,126.2 295.1,126.6 295.5,127.6 296.6,128.4 297.4,127.7 298.2,126.9 299.2,127.2 300.2,127.4 301.3,127.7 302.2,128.1 303.0,128.4 303.8,128.9 304.6,129.3 305.4,130.6 306.2,131.0 307.0,131.4 307.0,132.9 307.4,133.4 308.2,134.6 309.1,135.8 308.2,135.6 307.4,135.4 306.6,134.9 305.6,133.6 304.8,133.3 304.1,132.9 302.9,133.9 302.2,134.3 300.9,134.2 300.0,133.8 299.2,133.3 298.3,133.1 298.8,131.6 298.0,130.4 297.2,130.0 296.3,129.6 295.0,129.0 294.1,129.1 293.7,128.4 293.3,127.8 294.6,127.6 294.7,127.4 293.9,127.4 293.1,127.3 292.4,126.6ZM311.2,129.3 310.7,130.6 309.9,131.0 309.1,131.4 308.4,131.0 307.7,130.6 308.6,130.8 309.6,131.0 310.5,130.2ZM246.8,115.3 247.6,116.2 248.3,117.1 248.3,118.0 248.3,118.9 247.3,119.1 246.6,117.6 246.7,116.4ZM302.0,135.8 301.6,136.7 301.1,137.6 300.9,138.6 300.6,139.6 300.0,141.1 299.4,142.6 298.7,142.1 298.1,141.6 297.0,141.1 296.0,140.6 295.7,139.1 296.2,138.2 296.8,137.3 295.7,137.0 294.8,137.2 293.9,137.3 293.1,136.6 291.7,136.6 291.4,137.5 290.4,138.6 289.5,140.1 288.8,139.9 288.1,139.5 287.4,139.1 286.5,139.6 285.5,140.1 284.0,141.6 283.2,142.6 282.2,144.1 280.8,144.8 279.4,145.5 278.5,145.8 277.5,146.2 276.4,146.6 275.2,147.0 275.0,147.8 274.7,148.7 274.2,149.9 273.7,151.2 273.9,152.4 274.2,153.7 274.1,154.7 274.0,155.7 274.0,157.2 273.5,158.0 273.0,158.8 272.6,159.6 273.5,159.9 274.4,160.2 275.6,159.7 276.9,159.2 277.9,159.2 278.9,159.1 280.0,159.1 281.1,158.3 282.2,157.5 283.6,157.1 285.0,156.8 286.1,156.8 287.2,156.8 288.0,157.1 288.8,157.4 289.4,158.2 289.5,159.1 289.6,160.0 290.9,159.1 292.1,158.2 291.4,159.2 290.6,160.2 291.3,160.2 292.0,160.2 292.5,161.2 292.0,162.7 292.4,163.2 293.0,163.4 293.6,163.6 294.7,164.0 295.6,163.6 296.2,163.9 296.5,164.3 297.4,163.7 298.4,163.2 299.3,163.1 300.1,163.0 300.7,162.1 301.3,161.2 302.4,160.1 303.4,159.1 304.3,158.1 305.3,157.2 306.0,156.2 306.8,155.2 307.3,153.8 307.8,152.5 308.1,151.3 308.4,150.2 307.3,149.2 306.4,147.7 305.9,146.2 305.8,145.2 304.9,144.7 304.0,144.1 304.0,143.1 304.0,142.0 303.9,141.1 303.9,140.1 303.2,139.6 302.5,139.1 302.4,137.6 302.2,136.7ZM294.0,166.0 294.7,166.0 295.4,166.1 296.1,166.1 296.9,166.2 295.6,167.7 294.0,168.8 293.7,168.2 293.4,167.7 293.7,166.8ZM321.1,159.6 321.6,160.1 322.0,160.7 322.1,162.2 323.0,162.5 323.9,162.9 323.1,163.7 322.3,164.5 320.4,165.5 318.5,166.6 319.0,165.7 318.8,164.7 320.6,163.2 321.0,162.0 321.1,160.8ZM317.2,165.7 317.8,166.5 316.3,167.7 314.5,169.2 313.0,170.0 311.4,170.9 310.2,171.3 308.9,171.7 308.4,171.4 307.9,171.1 309.4,170.1 310.9,169.2 312.9,168.2 314.9,167.2ZM183.2,83.8 183.7,84.5 183.6,85.9 182.7,86.0 182.5,85.2 182.4,84.4ZM183.2,82.0 183.2,82.8 183.2,83.6 182.6,83.2ZM188.6,86.7 188.4,88.0 188.2,88.3 187.1,87.9 186.0,87.5 186.2,86.9 187.4,86.8ZM195.4,89.5 196.6,89.6 197.7,89.7 196.7,90.1ZM204.7,89.4 204.0,90.4 202.8,89.8 203.7,89.6ZM222.8,112.4 223.9,112.8 222.9,112.7 221.9,112.7ZM90.3,206.0 88.8,205.6 87.3,205.1 85.6,204.6 83.8,204.0 84.2,203.9 84.5,203.7 84.8,203.6 85.1,203.4 85.4,203.3 85.8,203.1 86.1,202.9 86.2,202.7 86.3,202.4 86.5,202.2 86.6,201.9 86.7,201.6 86.9,201.3 87.0,201.1 87.3,200.8 87.6,200.6 87.8,200.3 88.1,200.1 88.4,199.8 88.7,199.5 89.1,199.3 89.6,199.1 90.1,198.9 90.7,198.8 91.2,198.6 91.8,198.5 92.3,198.3 92.9,198.1 93.6,198.1 94.4,198.0 95.2,198.0 95.9,197.9 96.7,197.9 97.4,197.8 98.2,197.7 99.0,197.7 99.8,197.6 100.5,197.6 101.3,197.5 102.1,197.5 102.9,197.4 103.6,197.4 104.4,197.3 105.2,197.2 106.0,197.2 106.8,197.1 107.6,197.1 108.4,197.0 109.2,197.0 109.9,196.8 110.6,196.7 111.4,196.6 112.1,196.5 112.9,196.4 113.6,196.3 114.4,196.2 115.2,196.1 116.0,196.0 116.8,196.0 117.6,195.9 118.5,195.9 119.3,195.8 120.1,195.8 121.0,195.8 121.9,195.8 122.8,195.8 123.6,195.8 124.5,195.8 125.4,195.8 126.3,195.8 126.8,195.5 127.4,195.2 127.9,194.9 128.5,194.5 128.9,194.0 129.3,193.5 129.8,193.0 130.3,192.5 130.6,191.6 131.0,190.7 131.4,189.9 132.0,189.3 132.6,188.7 133.2,188.1 134.0,187.9 134.8,187.8 135.5,187.6 136.3,187.4 135.8,188.6 135.3,189.2 134.8,189.9 134.7,191.0 134.6,192.0 135.5,193.1 136.4,194.1 136.8,195.4 137.3,196.6 137.8,197.6 138.4,198.6 139.0,199.6 140.2,200.4 141.3,201.1 142.2,201.2 143.1,201.3 144.0,201.5 144.8,201.6 145.7,201.7 146.5,201.7 147.3,201.7 148.0,201.7 148.8,201.7 149.6,201.7 150.4,201.7 151.1,201.7 151.8,201.6 152.5,201.5 153.2,201.3 153.9,201.2 154.6,201.1 155.2,200.6 155.9,200.2 156.5,199.7 157.2,199.3 157.8,198.9 158.5,198.5 159.2,198.1 159.9,197.7 160.6,197.4 161.4,197.1 162.1,196.8 162.9,196.6 163.6,196.3 164.4,196.0 165.2,195.8 166.0,195.5 166.8,195.3 167.7,195.0 168.5,194.8 169.4,194.5 170.1,194.3 170.9,194.1 171.7,193.9 172.5,193.7 173.3,193.6 174.1,193.5 174.9,193.4 175.7,193.3 176.6,193.3 177.5,193.3 178.4,193.3 179.3,193.3 180.2,193.3 181.1,193.3 182.1,193.3 183.0,193.3 183.9,193.3 184.8,193.2 185.7,193.2 186.6,193.2 187.6,193.2 188.5,193.1 189.4,193.1 190.3,193.1 191.3,193.0 192.2,193.0 193.1,193.0 194.1,192.9 195.0,192.9 196.0,192.7 196.9,192.5 197.9,192.3 198.9,192.2 199.9,192.0 200.9,191.8 201.9,191.6 202.9,191.5 203.8,191.4 204.8,191.2 205.8,191.1 206.8,191.0 207.8,190.9 208.8,190.7 209.7,190.8 210.6,190.9 211.5,190.9 212.5,191.0 213.4,191.1 214.3,191.1 215.2,191.2 216.0,191.4 216.9,191.5 217.7,191.7 218.5,191.9 219.3,192.0 219.9,192.7 220.5,193.3 221.6,192.8 222.8,192.2 223.9,191.7 225.1,191.2 226.1,191.1 227.1,190.9 228.1,190.8 229.1,190.7 230.1,190.6 231.1,190.5 232.0,190.4 233.0,190.3 233.9,190.2 234.9,190.1 235.8,190.1 236.8,190.0 237.8,190.0 238.7,190.0 239.7,190.0 240.7,189.9 241.7,189.9 242.7,189.9 243.6,189.9 244.5,189.9 245.5,190.0 246.4,190.0 247.3,190.0 248.3,190.0 249.2,190.1 250.1,190.1 251.1,190.1 252.0,190.1 253.0,190.1 253.9,190.1 254.9,190.1 255.8,190.1 256.7,190.2 257.7,190.2 258.6,190.2 259.5,190.2 260.4,190.3 261.4,190.3 262.3,190.3 263.2,190.4 264.1,190.4 265.0,190.4 265.9,190.5 266.8,190.5 267.7,190.5 268.7,190.6 269.4,190.7 270.2,190.9 271.0,191.0 271.7,191.2 272.5,191.3 273.2,191.5 274.0,191.6 274.6,191.8 275.3,192.0 275.9,192.3 276.5,192.5 277.2,192.7 277.8,192.9 278.4,193.1 278.8,193.5 279.3,193.8 279.7,194.2 280.1,194.5 279.0,195.6 277.9,196.6 275.6,197.6 273.2,198.6 270.7,199.6 269.0,200.6 267.3,201.5 265.6,202.3 265.5,202.7 265.3,203.1 265.2,203.4 265.1,203.7 264.9,204.0 265.6,204.0 266.2,204.0 266.8,204.0 267.5,204.0 265.7,204.6 264.0,205.1 262.5,205.6 261.0,206.0 260.3,206.0 259.6,206.0 258.9,206.0 258.2,206.0 257.5,206.0 256.8,206.0 256.1,206.0 255.4,206.0 254.6,206.0 253.9,206.0 253.2,206.0 252.5,206.0 251.8,206.0 251.1,206.0 250.4,206.0 249.7,206.0 248.9,206.0 248.2,206.0 247.5,206.0 246.8,206.0 246.1,206.0 245.4,206.0 244.7,206.0 244.0,206.0 243.3,206.0 242.5,206.0 241.8,206.0 241.1,206.0 240.4,206.0 239.7,206.0 239.0,206.0 238.3,206.0 237.6,206.0 236.8,206.0 236.1,206.0 235.4,206.0 234.7,206.0 234.0,206.0 233.3,206.0 232.6,206.0 231.9,206.0 231.2,206.0 230.4,206.0 229.7,206.0 229.0,206.0 228.3,206.0 227.6,206.0 226.9,206.0 226.2,206.0 225.5,206.0 224.8,206.0 224.0,206.0 223.3,206.0 222.6,206.0 221.9,206.0 221.2,206.0 220.5,206.0 219.8,206.0 219.1,206.0 218.3,206.0 217.6,206.0 216.9,206.0 216.2,206.0 215.5,206.0 214.8,206.0 214.1,206.0 213.4,206.0 212.7,206.0 211.9,206.0 211.2,206.0 210.5,206.0 209.8,206.0 209.1,206.0 208.4,206.0 207.7,206.0 207.0,206.0 206.2,206.0 205.5,206.0 204.8,206.0 204.1,206.0 203.4,206.0 202.7,206.0 202.0,206.0 201.3,206.0 200.6,206.0 199.8,206.0 199.1,206.0 198.4,206.0 197.7,206.0 197.0,206.0 196.3,206.0 195.6,206.0 194.9,206.0 194.2,206.0 193.4,206.0 192.7,206.0 192.0,206.0 191.3,206.0 190.6,206.0 189.9,206.0 189.2,206.0 188.5,206.0 187.7,206.0 187.0,206.0 186.3,206.0 185.6,206.0 184.9,206.0 184.2,206.0 183.5,206.0 182.8,206.0 182.1,206.0 181.3,206.0 180.6,206.0 179.9,206.0 179.2,206.0 178.5,206.0 177.8,206.0 177.1,206.0 176.4,206.0 175.7,206.0 174.9,206.0 174.2,206.0 173.5,206.0 172.8,206.0 172.1,206.0 171.4,206.0 170.7,206.0 170.0,206.0 169.2,206.0 168.5,206.0 167.8,206.0 167.1,206.0 166.4,206.0 165.7,206.0 165.0,206.0 164.3,206.0 163.6,206.0 162.8,206.0 162.1,206.0 161.4,206.0 160.7,206.0 160.0,206.0 159.3,206.0 158.6,206.0 157.9,206.0 157.1,206.0 156.4,206.0 155.7,206.0 155.0,206.0 154.3,206.0 153.6,206.0 152.9,206.0 152.2,206.0 151.5,206.0 150.7,206.0 150.0,206.0 149.3,206.0 148.6,206.0 147.9,206.0 147.2,206.0 146.5,206.0 145.8,206.0 145.1,206.0 144.3,206.0 143.6,206.0 142.9,206.0 142.2,206.0 141.5,206.0 140.8,206.0 140.1,206.0 139.4,206.0 138.6,206.0 137.9,206.0 137.2,206.0 136.5,206.0 135.8,206.0 135.1,206.0 134.4,206.0 133.7,206.0 133.0,206.0 132.2,206.0 131.5,206.0 130.8,206.0 130.1,206.0 129.4,206.0 128.7,206.0 128.0,206.0 127.3,206.0 126.5,206.0 125.8,206.0 125.1,206.0 124.4,206.0 123.7,206.0 123.0,206.0 122.3,206.0 121.6,206.0 120.9,206.0 120.1,206.0 119.4,206.0 118.7,206.0 118.0,206.0 117.3,206.0 116.6,206.0 115.9,206.0 115.2,206.0 114.5,206.0 113.7,206.0 113.0,206.0 112.3,206.0 111.6,206.0 110.9,206.0 110.2,206.0 109.5,206.0 108.8,206.0 108.0,206.0 107.3,206.0 106.6,206.0 105.9,206.0 105.2,206.0 104.5,206.0 103.8,206.0 103.1,206.0 102.4,206.0 101.6,206.0 100.9,206.0 100.2,206.0 99.5,206.0 98.8,206.0 98.1,206.0 97.4,206.0 96.7,206.0 95.9,206.0 95.2,206.0 94.5,206.0 93.8,206.0 93.1,206.0 92.4,206.0 91.7,206.0 91.0,206.0Z" fill="#e6e6e6" stroke="#b8b8b8" stroke-width="0.6" stroke-linejoin="round"/>
<path d="M216.3,78.1 215.6,78.3 214.8,78.6 214.3,79.0 213.7,79.5 213.3,80.5 214.1,81.7 214.8,83.0 215.7,83.8 216.6,84.5 216.3,84.8 216.2,85.7 216.1,86.5 216.6,87.5 217.5,87.8 218.3,88.0 219.0,88.2 219.8,88.1 220.6,88.0 220.2,86.5 219.2,85.0 218.8,83.8 218.4,83.0 217.0,82.0 216.0,80.5 216.8,80.3 217.9,79.8 217.6,78.6 217.1,78.1Z" fill="#fff" stroke="#c2c2c2" stroke-width="0.5"/>
<path d="M79.8,76.1 81.0,76.1 82.1,76.1 83.3,76.1 84.4,76.1 85.6,76.1 86.7,76.1 87.9,76.1 89.0,76.1 90.2,76.1 91.3,76.1 92.5,76.1 93.6,76.1 94.8,76.1 95.9,76.1 97.1,76.1 98.2,76.1 99.3,76.1 100.5,76.1 101.6,76.1 102.6,76.3 103.6,76.5 104.6,76.6 105.6,76.8 106.4,77.1 107.3,77.5 108.1,77.8 109.0,78.1 109.7,79.1 109.4,80.5 109.0,82.0 108.2,83.0 108.9,83.3 110.3,82.8 111.7,82.2 112.0,81.5 113.4,81.0 114.8,80.5 116.0,80.1 116.8,80.1 117.7,80.1 118.5,80.1 119.2,79.8 120.2,78.7 121.2,77.7 122.1,78.1 122.0,79.0 121.9,79.9M84.9,57.2 83.5,58.4 82.1,59.5 80.8,60.7 79.4,61.8 78.1,63.0 76.8,64.2 75.6,65.4 76.2,65.6 76.9,65.7 77.6,65.9 78.1,66.3 78.7,66.7 79.3,67.1 79.4,67.9 79.5,68.6 79.7,69.4M76.3,92.5 77.3,92.4 78.4,92.3 79.3,92.8 80.2,93.3 81.1,93.7 82.3,93.7 83.5,93.7 84.3,93.5 85.1,93.2 85.6,94.4 86.1,95.5 87.4,95.4 88.7,95.3 89.3,96.4 89.9,97.5 90.7,98.3 91.5,99.1M97.3,107.3 96.2,108.4 95.2,109.5 94.2,110.6M97.9,109.4 96.8,110.8 96.1,111.3M102.2,110.1 100.9,110.7 99.6,111.4 98.2,112.1M99.7,114.1 100.5,114.0 101.4,113.9M101.9,116.8 102.3,115.5M111.6,114.1 111.5,115.3 111.3,116.6 112.5,118.1 113.5,118.4 114.6,118.8 115.6,119.1 115.4,120.1 115.3,121.1 115.6,122.5 116.0,123.9M116.0,123.9 114.8,123.7 113.5,123.6 113.5,125.0 113.4,126.5 113.4,127.9 113.4,129.3 112.9,130.6 112.3,132.0 111.8,133.3 111.3,134.6 112.2,135.4 113.1,136.1 114.3,135.9 115.4,135.6 116.6,135.4 117.7,135.1 118.9,136.6 120.1,138.1 121.4,139.6 122.6,141.1 123.3,142.3 124.1,143.5 124.8,144.7 125.9,145.9 127.1,147.2 127.5,148.3 127.9,149.5 128.3,150.7 127.9,151.5 127.5,152.4 126.9,153.9 126.4,155.4 127.8,156.5 129.2,157.7 130.5,158.9M115.3,120.9 116.5,120.7 117.8,120.5 119.1,120.3 120.4,120.1 121.6,119.9 122.8,121.0 124.1,122.0 125.3,123.1 126.2,122.9 127.1,122.8 128.3,121.9 129.6,121.1M122.3,116.6 122.1,117.7 121.9,118.8 121.6,119.9M124.8,119.1 124.9,120.4 125.1,121.8 125.3,123.1M127.6,119.3 127.4,120.5 127.3,121.6 127.1,122.8M108.8,126.1 108.4,127.6 107.3,127.8 106.3,128.1 105.2,128.3 104.1,128.5M113.4,129.3 113.0,127.9 112.0,127.5 110.9,127.0 109.9,126.6 108.8,126.1M108.8,126.1 107.6,125.3 106.5,124.5 105.3,123.7M114.0,135.1 114.1,136.5 114.2,137.9 114.3,139.3 114.5,140.7 114.6,142.1 114.8,143.4M114.8,143.4 115.4,144.9 116.0,146.3 116.5,147.7 116.1,149.2 116.0,150.7 115.9,152.2 115.8,153.7 115.7,155.2 115.9,156.4 116.1,157.7 116.3,158.9 116.6,160.2 116.6,161.4 116.6,162.7 116.7,163.9 116.7,165.2 117.2,166.7 117.7,168.2 118.1,169.7 118.6,171.1 118.7,172.4 118.7,173.7 118.8,175.0 119.8,176.0 120.8,177.0 122.0,177.2 123.2,177.4M116.5,147.7 117.7,147.4 118.9,147.2 120.0,147.3 121.1,147.5 122.4,146.5 123.6,145.6 124.8,144.7M121.1,147.5 122.5,148.4 123.9,149.3 125.3,150.2 126.4,151.3 127.5,152.4M126.4,155.4 126.4,156.6 126.4,157.9 126.4,159.2M123.6,177.6 124.1,178.7 124.6,179.8M197.0,93.4 197.1,94.8 197.2,96.2 197.3,97.5 197.3,98.9 197.4,100.3 197.4,101.7 197.5,103.0 197.5,104.0 197.5,105.0 196.7,105.0 196.7,105.5M197.5,103.0 198.8,103.0 200.1,103.0 201.4,103.0 202.7,103.0 204.0,103.0 205.3,103.0 206.5,103.0 207.8,103.0M185.4,91.8 185.0,92.8 184.6,93.8 184.2,94.8 184.5,96.1 184.8,97.3 185.2,98.5 185.6,100.0 186.0,101.5 187.2,102.0 188.4,102.4 189.5,102.9 190.7,103.3 191.9,103.8 193.1,104.2 194.3,104.7 195.5,105.1 196.7,105.5M186.0,101.5 184.9,102.3 183.8,103.0 182.7,103.8 181.6,104.5 180.5,105.3 179.3,106.1 178.1,105.4 176.9,104.7 175.7,104.0 174.6,103.0 173.6,102.0 172.5,101.0 171.5,100.0 170.4,99.3 169.3,98.5 168.1,97.7M174.0,89.9 174.2,90.9 174.4,92.0 174.6,93.0 173.4,93.9 172.2,94.7 170.9,95.5 170.0,96.1 169.1,96.7 168.2,97.3M168.2,97.3 166.9,97.3 165.6,97.3 164.3,97.3M160.8,103.7 162.0,103.7 163.1,103.7 164.3,103.7 164.8,102.6 165.2,101.5 165.2,100.3 165.3,99.0 166.2,99.0 167.2,99.0 168.1,99.0 168.1,97.7M171.5,100.0 171.4,101.4 171.3,102.8 171.2,104.1 171.1,105.5 171.1,106.8 171.0,108.2 170.9,109.6 169.8,109.6 168.7,109.6 167.7,109.6 166.6,109.6 165.5,109.6 164.8,110.4 163.6,109.7 162.5,109.1 161.3,108.5M186.0,101.5 186.3,103.0 186.6,104.4 186.9,105.8 187.2,107.3 187.5,108.7 187.7,110.1 188.0,111.6 186.8,111.5 185.5,111.5 184.2,111.5 182.9,111.5 181.7,111.4 180.4,111.4 179.1,111.4 177.9,111.4 177.4,112.4 177.0,113.4 175.8,112.5 174.5,111.7 173.3,110.9 172.1,110.1M196.7,105.5 196.4,106.8 196.2,108.1 195.9,109.4 196.0,110.8 196.0,112.2 196.0,113.6 196.1,115.1 197.1,116.4 198.1,117.6 199.1,118.9 200.1,120.1 201.1,120.3 202.1,120.4 203.1,120.6 204.1,121.1 205.0,121.6M207.5,113.1 206.2,114.1 204.9,115.1 203.7,115.1 202.5,115.2 201.3,115.3 200.1,115.4 198.9,115.4 197.7,115.5 196.5,115.6M210.5,109.5 209.4,110.1 208.3,110.8 207.9,111.9 207.5,113.1 207.0,114.2 206.4,115.4 205.9,116.6 205.8,117.9 205.8,119.3 205.7,120.6 206.6,120.6 207.5,120.6 208.7,120.7 209.8,120.8 211.0,121.0 212.2,121.1M213.9,113.6 215.0,114.4 216.1,115.3 217.2,116.2 218.3,117.1 217.2,117.8 216.0,118.5 214.9,119.2 213.7,119.9 212.6,120.6M212.2,121.1 212.3,122.5 212.4,123.9 212.5,125.4 212.6,126.8M205.7,120.6 204.6,121.8 203.5,122.9 202.4,124.1 202.2,125.4 202.0,126.6 201.9,128.1 201.8,129.6 202.2,130.8 202.6,132.0 203.0,133.1 202.5,134.5 201.9,135.8 201.3,137.1 201.8,138.4M201.8,129.6 202.9,128.7 203.9,127.9 204.9,127.0 206.0,126.1 207.1,127.0 208.3,128.0 209.4,128.9 210.5,129.8M211.5,135.6 210.2,136.1 208.9,136.6 207.7,136.7 206.5,136.7 206.5,138.0 206.5,139.2 206.5,140.4 206.5,141.6 205.5,141.4 204.5,141.1 203.5,140.9 202.5,140.6 202.7,141.8 202.9,143.0 202.9,144.5 202.9,146.0 202.9,147.5 203.1,148.5 203.2,149.6 203.4,150.7M196.8,142.6 195.6,142.6 194.4,142.6 193.2,142.6 192.0,142.6 190.8,142.5 189.6,142.5 188.4,142.5 187.2,142.5 186.0,142.4M196.8,142.6 195.5,144.1 194.3,145.7 193.1,147.2 193.1,148.5 193.0,149.8 193.0,151.1 192.9,152.4 192.8,153.7 191.8,153.7 190.8,153.7 189.8,153.8M202.9,147.5 201.9,147.6 200.9,147.7 199.9,148.7 198.8,149.7 197.7,150.7 196.6,150.4 195.4,150.2 194.2,150.0 193.0,149.8M195.1,138.1 195.1,136.6 195.2,135.1 195.2,133.6 195.2,132.1 194.0,131.6 192.8,131.1 191.6,130.6 190.3,130.1 189.1,130.4 187.8,130.8 186.6,131.1M195.1,138.1 196.3,138.1 197.4,138.1 198.6,138.1 199.7,138.1 200.9,138.1 202.0,138.1M184.4,122.8 183.8,121.7 183.2,120.6 184.1,119.2 184.9,117.7 185.7,116.3 186.6,114.9 187.4,113.5 188.2,112.1 186.9,112.0 185.6,111.9 184.3,111.8 183.0,111.7 181.7,111.6 180.4,111.5 179.2,111.5 177.9,111.4M185.9,129.6 187.0,128.5 188.1,127.4 188.9,126.1 189.7,124.8 190.5,123.4 191.3,122.1 192.1,120.8 193.4,120.6 194.7,120.5 196.0,120.3 197.3,120.2 198.6,120.0 199.9,119.9M185.7,121.6 186.8,121.9 187.9,122.2 189.0,122.5 190.1,122.8 189.9,121.5 189.8,120.2 189.6,118.9 189.4,117.6 190.7,116.9 192.0,116.3 193.3,115.7 194.6,115.0 195.9,114.4M179.2,111.6 179.0,113.0 178.7,114.5 178.5,116.0 178.3,117.4 178.1,118.9M176.7,119.0 176.5,117.8 176.2,116.5 175.9,115.3 175.7,114.1M173.2,120.1 173.2,118.6 173.1,117.1 173.1,115.6 173.0,114.1M168.3,117.6 168.4,116.3 168.6,115.1 169.7,114.2 170.8,113.3M165.2,112.4 164.1,112.4 163.0,112.5 162.0,112.6 160.9,112.7M168.3,117.6 168.5,118.6 168.7,119.7 169.0,120.7M165.4,118.1 165.9,117.1 166.3,116.1 165.1,115.5 163.8,114.9 162.6,114.4M214.6,78.6 213.4,77.4 212.3,76.1 213.2,75.7 214.1,75.3 215.0,74.9 215.9,74.5 216.8,74.1 217.7,73.7 218.9,73.8 220.1,74.0 221.3,74.1 222.5,74.2 223.3,73.6 224.1,73.1 224.9,72.5 225.7,72.0 226.5,71.4 227.2,70.8 228.5,71.2 229.8,71.5 231.0,71.8 232.2,72.3 233.4,72.8 234.7,73.2 235.9,73.7 237.1,74.2 238.4,74.5 239.7,74.9 241.0,75.2 242.3,75.6 243.6,75.9M243.6,75.9 244.5,75.6 245.4,75.3 246.3,74.9 247.2,74.6 248.1,74.2 249.0,73.9 249.9,73.6 250.7,73.2 252.0,73.5 253.2,73.8 254.5,74.1 255.7,74.3 257.0,74.6 258.3,74.9 259.4,75.0 260.5,75.1 261.6,75.2 262.8,75.3 263.9,75.4 265.1,75.5 266.2,75.6 266.5,74.7 266.8,73.8 267.1,72.9 267.4,72.0 268.4,72.0 269.4,72.1 270.4,72.1 272.2,72.9 273.9,73.7 275.7,74.4 277.4,75.2 279.2,76.0 280.9,76.8 281.3,77.9 281.6,79.0 281.9,80.1 281.8,81.3 281.6,82.5M243.6,75.9 245.1,77.3 246.6,78.7 248.1,80.1 249.5,80.7 250.9,81.3 252.3,81.9 253.7,82.5 254.9,82.6 256.0,82.7 257.1,82.8 258.3,82.9 259.4,82.9 260.6,83.0 261.5,82.4 262.3,81.8 263.2,81.1 264.0,80.5 264.9,79.9 265.7,79.6 266.6,79.3 267.5,79.1 268.4,78.8 269.2,78.5 270.1,78.3 268.1,76.9 266.2,75.6M243.6,75.9 242.9,76.8 242.2,77.6 241.5,78.4 240.7,79.2 240.0,80.1 240.3,81.1 240.5,82.2 239.7,82.8 238.9,83.3 238.1,83.9 237.3,84.5 236.4,85.0 237.3,86.5 238.1,88.0 239.5,88.8 240.9,89.5M240.9,89.5 241.8,91.0 242.7,92.5 243.8,93.8 245.0,95.0 246.3,95.6 247.6,96.2 249.0,96.8 250.3,97.4 251.6,98.0 252.7,97.7 253.8,97.4 254.9,97.0 256.0,97.0 257.1,96.9 258.2,96.9 259.4,96.8 259.8,98.1 260.2,99.3 260.6,100.5 261.7,101.5 262.8,102.5 263.9,103.5 265.0,103.2 266.1,102.9 267.2,102.6 268.6,103.0 269.9,103.4M238.2,90.5 238.8,91.5 239.3,92.5 239.1,93.8 238.8,95.0 238.0,95.7 237.2,96.4 236.3,97.0 236.5,98.3 236.7,99.6 236.9,100.8 235.9,101.0 235.0,101.2M235.2,88.0 235.3,89.0 235.3,90.0 235.1,91.2 234.8,92.3 234.6,93.5 233.5,94.0 232.3,94.5 231.2,95.0 230.1,95.5 229.0,95.6 227.9,95.6 228.3,97.0 228.7,98.4 229.1,99.8M231.0,87.8 229.9,88.0 228.9,88.1 227.8,88.3 226.7,88.4 226.7,89.7 226.7,91.0 227.0,92.2 227.3,93.3 227.7,94.5 227.9,95.6M212.3,85.5 212.6,86.8 213.0,88.0 213.6,89.5 214.3,91.0 215.3,92.3 216.2,93.7 217.2,95.0M205.9,88.3 206.9,88.3 207.9,88.3 208.9,88.2 210.0,88.2 211.0,88.2 211.9,88.0 212.9,87.8M205.6,95.5 206.7,94.7 207.7,93.9 208.8,93.0 210.1,93.5 211.3,94.0 212.6,94.5 213.9,95.0 215.1,95.5 216.4,96.0M220.4,100.7 221.6,101.3 222.8,101.9 224.0,102.5 223.1,103.7 222.2,104.9 221.3,106.1 220.2,106.6 219.1,107.1 218.1,107.6 217.0,108.1 215.8,108.3 214.6,108.5 213.3,108.7M208.5,92.0 209.3,90.7 210.1,89.3 210.9,88.0M206.0,92.5 207.2,92.1 208.5,91.6M174.2,81.6 175.2,81.9 176.2,82.1 177.2,82.3 178.2,82.5M169.5,87.8 169.7,86.6 169.9,85.4 170.1,84.2 170.4,83.0 169.4,83.1 168.5,83.1M177.6,74.1 178.7,74.9 179.9,75.6 181.0,75.9 182.0,76.1 181.6,77.5 180.5,78.9 181.1,80.0 181.8,81.0M181.6,77.5 182.6,77.6 183.5,77.6 184.5,77.9 185.4,78.3 186.3,78.6M186.3,71.3 186.7,72.8 187.2,74.2 186.1,74.4 185.1,74.7 185.7,75.5 186.3,76.3 187.2,76.4 188.1,76.5 189.1,76.6M192.7,70.9 193.2,72.1 193.6,73.2 194.2,74.7 193.6,75.6 193.1,76.6 194.2,76.8 195.3,76.9 196.4,77.1 197.4,78.0 198.4,78.9 199.3,79.9M199.9,73.2 201.0,73.6 202.1,73.9 203.2,74.2 204.3,74.5 205.5,74.8 206.6,75.2 206.2,76.6 205.9,78.1M196.3,69.4 196.0,68.5 195.6,67.6 195.7,66.3M195.3,65.2 195.6,64.2 195.9,63.1 196.2,62.1 195.7,61.0 195.2,59.9 194.8,58.8 194.3,57.7 193.6,56.9M183.9,66.6 184.1,65.7 184.3,64.8 184.8,63.4 185.2,62.1 186.0,60.8 186.7,59.5 187.4,58.2 188.2,58.0 188.9,57.7M191.8,60.5 190.9,59.3 190.0,58.2 188.9,57.7M180.9,71.8 180.6,73.0 180.3,74.2 180.5,75.6M191.2,69.5 192.2,69.4 193.2,69.4 194.2,69.3 195.2,69.2M191.4,68.0 192.4,68.0 193.5,68.0 194.6,68.0 195.6,68.0M186.5,78.6 187.6,78.9 188.8,79.3 190.0,79.7 191.2,80.1 192.5,81.0 193.8,82.0 194.0,82.9 194.3,83.7 195.2,83.6 196.2,83.5 197.1,83.3M189.0,76.9 189.9,76.9 190.9,76.9 191.9,76.9 192.9,76.9M193.8,81.0 195.0,81.1 196.2,81.2 197.5,81.3 198.7,81.4M191.2,83.0 192.4,82.7 193.2,83.4 194.0,84.0M199.3,79.9 198.0,78.6 196.6,77.4M211.1,83.6 211.7,84.6 212.3,85.5M207.9,81.5 209.1,82.0 210.3,82.4 211.5,82.8 212.8,83.2 214.0,83.6 214.6,83.4 215.2,83.2M263.1,104.5 262.9,105.9 262.6,107.2 262.4,108.6 262.6,109.9 262.7,111.2 262.8,112.5 262.9,113.8 263.1,115.1M263.6,105.0 265.1,105.9 266.5,106.7 268.0,107.6 268.3,108.6 268.6,109.6 268.8,110.7 267.8,112.0 266.8,113.4M264.7,102.5 265.5,103.7 266.2,104.9 266.9,106.1 268.1,107.6 269.4,109.1 270.6,110.6 269.9,111.9 269.1,113.2 268.3,114.6M264.8,118.7 265.6,118.8 266.5,118.9M259.4,96.8 258.6,97.7 257.8,98.5M256.2,103.4 256.0,102.1 255.7,100.7 255.4,99.4 255.1,98.0M273.3,123.9 274.6,123.2 275.9,122.5 277.2,121.8 278.5,121.1 279.5,121.0 280.5,120.9M301.3,127.7 301.2,129.0 301.2,130.3 301.1,131.6 301.0,132.9 300.9,134.2" fill="none" stroke="#cbcbcb" stroke-width="0.45" stroke-linejoin="round"/>
</g>
</defs>
<g transform="translate(0.00,0.00) scale(1.0)"><use href="#base"/>
<path d="M122.2,115.5 121.7,114.2 120.1,113.1 117.8,112.5 116.5,112.5 114.0,112.8 111.9,113.6 110.7,114.8 110.5,115.5 110.6,116.1 111.7,117.4 113.7,118.2 116.2,118.5 117.5,118.4 119.9,117.8 121.6,116.8Z" fill="#a3d4e6" fill-opacity="0.35" stroke="#a3d4e6" stroke-width="1.6" stroke-linejoin="round"/>
<path d="M103.9,126.3 102.5,126.9 101.1,129.1 101.0,130.1 101.6,132.3 102.9,133.6 106.2,139.7 107.9,142.3 112.8,145.6 113.6,145.9 114.5,145.9 114.2,143.5 109.7,140.4 108.4,138.5 104.9,132.0 103.9,131.0 103.6,129.9 104.4,128.7 104.7,127.6 103.9,127.1Z" fill="#eba668" fill-opacity="0.75" stroke="#eba668" stroke-width="0.6" stroke-linejoin="round"/>
<path d="M127.0,178.6 123.5,177.6 124.0,178.4 126.2,179.7 125.7,179.9 125.6,180.3 122.5,179.5 120.4,178.2 118.8,176.8 117.5,174.9 116.0,171.1 116.1,169.1 115.0,162.0 115.3,158.2 114.8,155.2 114.5,145.6 114.2,143.5 112.3,142.1 111.8,142.9 111.6,143.8 112.1,148.9 112.2,155.2 112.7,158.3 112.4,162.1 113.5,169.3 113.5,171.9 115.4,176.4 116.9,178.5 118.8,180.1 121.6,181.9 125.5,182.9 126.8,182.8 127.6,182.3 128.1,181.6 128.2,180.7 128.1,179.8Z" fill="#a3d4e6" fill-opacity="0.75" stroke="#a3d4e6" stroke-width="0.6" stroke-linejoin="round"/>
<path d="M93.1,125.7 93.5,126.9 94.4,127.4 96.1,127.1 96.7,126.1 96.2,124.6 95.3,124.0 93.6,124.3 93.1,125.0Z" fill="#67adc9" fill-opacity="0.75" stroke="#67adc9" stroke-width="0.6" stroke-linejoin="round"/>
<path d="M169.0,87.7 168.1,89.5 166.8,90.4 165.3,92.3 164.9,94.2 164.4,94.8 162.9,95.9 162.3,96.6 162.2,98.1 163.2,99.4 164.6,97.8 166.3,96.7 167.7,94.8 167.6,93.6 168.7,92.2 170.1,91.2 170.9,89.6 171.8,90.1 173.2,90.1 175.5,89.5 175.0,88.3 174.1,87.7 173.7,88.0 171.9,88.0 171.1,88.6 169.5,87.6Z" fill="#eba668" fill-opacity="0.75" stroke="#eba668" stroke-width="0.6" stroke-linejoin="round"/>
<path d="M187.5,92.8 187.6,91.5 187.1,90.2 187.1,87.6 186.4,87.3 187.0,87.1 186.2,86.1 185.3,85.7 183.6,85.4 182.1,85.8 180.5,85.7 177.5,86.0 174.7,87.0 173.7,88.0 171.8,88.0 171.4,88.5 171.0,89.3 170.9,89.7 171.8,90.1 173.2,90.1 178.2,88.5 182.3,88.4 183.8,88.0 184.5,88.2 184.4,90.3 185.1,92.2 186.7,92.4Z" fill="#a3d4e6" fill-opacity="0.75" stroke="#a3d4e6" stroke-width="0.6" stroke-linejoin="round"/>
<path d="M208.0,105.3 209.5,104.7 210.1,103.4 208.8,100.9 206.2,96.9 205.8,95.4 205.5,95.2 205.0,96.8 204.3,96.4 204.0,96.8 205.9,100.7 207.6,103.2ZM205.4,93.0 204.8,92.1 204.1,91.6 201.7,91.2 199.6,91.8 196.6,91.2 195.5,91.7 194.8,92.6 196.8,93.8 199.5,94.4 201.7,93.8 204.0,94.2 205.1,93.8Z" fill="#eba668" fill-opacity="0.75" stroke="#eba668" stroke-width="0.6" stroke-linejoin="round"/>
<path d="M215.8,114.9 216.2,113.9 216.2,111.7 214.3,112.1 213.6,109.5 212.4,108.2 210.4,104.6 210.3,103.6 208.9,101.0 207.7,100.7 206.6,101.1 206.4,101.3 207.6,103.2 208.0,105.6 210.2,109.6 211.7,111.3 213.7,112.6 213.7,113.8 214.2,113.9 215.4,114.9Z" fill="#a3d4e6" fill-opacity="0.75" stroke="#a3d4e6" stroke-width="0.6" stroke-linejoin="round"/>
<path d="M210.8,128.9 212.4,129.4 213.6,128.9 215.3,126.7 217.8,124.5 220.4,121.2 222.2,118.1 223.5,115.1 223.3,112.6 222.4,111.4 220.9,111.0 216.2,112.2 215.8,111.8 214.3,112.1 214.1,111.3 213.3,111.4 212.5,111.8 213.7,112.6 213.7,113.8 214.2,113.9 215.5,115.0 220.8,113.7 220.9,114.6 218.1,119.9 215.8,122.9 213.3,124.9Z" fill="#eba668" fill-opacity="0.75" stroke="#eba668" stroke-width="0.6" stroke-linejoin="round"/>
<path d="M213.0,130.3 214.3,128.1 214.5,127.2 214.1,125.9 213.2,125.0 210.3,129.6 210.4,133.7 211.2,135.7 211.3,137.9 212.1,137.8 212.9,137.4 213.7,136.1 213.7,135.0 212.9,133.1Z" fill="#eba668" fill-opacity="0.75" stroke="#eba668" stroke-width="0.6" stroke-linejoin="round"/>
<path d="M202.8,154.0 203.6,154.3 204.5,154.3 205.8,153.5 206.3,152.8 206.3,151.9 208.1,150.8 208.7,149.8 208.6,146.0 211.6,143.7 213.6,141.2 213.9,140.2 213.8,135.3 213.3,134.2 212.5,133.5 211.4,133.3 210.4,133.6 211.2,135.7 211.3,140.0 209.8,141.9 206.0,144.8 206.2,148.9 204.5,149.9 203.6,150.9 203.7,152.0Z" fill="#a3d4e6" fill-opacity="0.75" stroke="#a3d4e6" stroke-width="0.6" stroke-linejoin="round"/>
<path d="M188.4,156.7 189.1,160.4 189.6,161.2 190.3,161.7 192.6,162.3 195.0,161.7 197.9,161.4 200.7,160.0 203.9,156.6 205.7,154.2 206.3,152.5 206.2,151.4 205.6,150.4 204.6,149.8 203.6,151.0 203.7,152.0 203.4,153.0 202.0,154.9 199.1,157.9 197.2,158.9 194.6,159.1 192.5,159.7 191.5,159.4 191.0,156.1 189.0,151.6 188.0,152.3 187.5,153.5 187.5,154.4Z" fill="#eba668" fill-opacity="0.75" stroke="#eba668" stroke-width="0.6" stroke-linejoin="round"/>
<path d="M183.8,142.7 186.0,148.6 186.5,152.4 187.8,155.0 188.4,155.7 189.3,156.0 190.8,155.8 189.0,151.7 188.6,148.0 186.3,142.1 186.8,140.0 186.6,139.9 185.7,139.9 184.8,140.2 184.2,140.8 183.8,141.6Z" fill="#a3d4e6" fill-opacity="0.75" stroke="#a3d4e6" stroke-width="0.6" stroke-linejoin="round"/>
<path d="M207.9,81.7 206.1,81.5 205.2,80.9 204.2,80.7 198.3,82.0 197.8,82.5 198.5,83.7 197.5,84.1 196.9,83.8 195.6,83.8 195.0,84.5 195.1,85.8 196.6,89.3 197.6,90.1 200.2,91.0 201.6,90.8 202.6,91.1 204.1,91.1 205.3,90.6 206.1,90.7 206.0,88.2 204.5,87.9 203.8,88.5 202.9,88.5 201.3,87.8 200.5,88.4 198.7,87.8 197.7,85.2 198.3,84.9 199.5,84.9 200.1,84.2 201.4,84.1 204.2,83.3 205.2,84.0 208.3,84.3 209.7,83.6 209.5,82.3 208.3,81.5ZM203.8,89.9 204.0,89.9 203.9,90.0Z" fill="#a3d4e6" fill-opacity="0.75" stroke="#a3d4e6" stroke-width="0.6" stroke-linejoin="round"/>
<path d="M207.8,104.6 210.9,109.0 211.2,110.8 213.7,112.6 213.7,113.8 214.5,113.8 215.3,113.4 215.9,112.7 216.1,111.7 214.3,112.1 213.3,107.9 210.1,103.4 208.8,100.9 206.2,96.9 205.8,95.4 205.5,95.2 205.0,96.8 204.3,96.4 204.0,96.8 205.9,100.7 207.6,103.2ZM205.2,93.3 204.4,93.6 203.7,94.2 205.0,93.9Z" fill="#a3d4e6" fill-opacity="0.75" stroke="#a3d4e6" stroke-width="0.6" stroke-linejoin="round"/>
<path d="M215.0,114.6 218.7,113.6 223.0,110.6 225.7,109.5 227.2,108.1 228.4,105.7 229.8,103.7 230.1,102.8 229.7,101.2 228.0,99.6 227.6,99.4 226.1,99.2 225.3,98.3 224.3,97.7 223.2,98.2 222.2,97.7 222.1,99.1 222.9,101.1 223.2,101.0 224.3,99.3 224.9,100.7 226.4,101.7 227.4,102.6 226.1,104.4 225.3,106.4 224.3,107.3 221.7,108.3 217.5,111.3 215.4,112.0 214.3,112.1 213.6,109.3 212.3,109.9 211.6,111.2 213.7,112.6 213.7,113.8 214.2,113.9Z" fill="#eba668" fill-opacity="0.75" stroke="#eba668" stroke-width="0.6" stroke-linejoin="round"/>
<path d="M225.5,101.1 226.5,99.3 226.1,99.2 225.3,98.3 224.2,97.7 223.2,98.2 222.2,97.7 222.1,97.9 218.7,95.3 217.2,94.7 216.9,94.9 216.6,95.9 219.5,100.2 219.7,100.3 220.0,100.1 220.0,100.6 220.7,101.3 223.1,101.1 224.3,99.3 224.9,100.8Z" fill="#a3d4e6" fill-opacity="0.75" stroke="#a3d4e6" stroke-width="0.6" stroke-linejoin="round"/>
<path d="M218.2,98.3 219.9,99.6 222.7,100.8 223.4,100.8 224.3,99.3 224.9,100.7 226.7,101.9 232.4,102.1 233.8,103.2 234.7,103.5 235.6,103.5 236.4,103.0 235.2,101.0 234.0,100.0 233.0,99.6 226.1,99.2 225.3,98.3 224.3,97.8 223.2,98.2 221.1,97.3 218.6,95.3 217.1,94.7 216.5,95.8Z" fill="#eba668" fill-opacity="0.75" stroke="#eba668" stroke-width="0.6" stroke-linejoin="round"/>
<path d="M219.0,84.6 218.1,85.7 217.0,85.7 216.2,86.1 216.1,86.5 216.6,87.5 219.0,88.2 220.6,88.0 220.2,86.5Z" fill="#eba668" fill-opacity="0.75" stroke="#eba668" stroke-width="0.6" stroke-linejoin="round"/>
<path d="M245.5,115.1 245.3,117.7 246.2,119.8 247.3,120.4 249.1,119.9 249.6,118.9 249.6,117.0 249.3,116.2 247.7,114.3 247.2,114.0 246.1,114.2Z" fill="#a3d4e6" fill-opacity="0.75" stroke="#a3d4e6" stroke-width="0.6" stroke-linejoin="round"/>
<path d="M251.3,104.1 252.4,105.2 254.4,105.3 256.1,107.6 256.6,109.2 257.7,110.6 258.6,111.2 259.9,111.3 260.8,113.5 260.8,115.7 261.4,116.7 262.4,117.3 263.7,117.3 263.3,116.9 263.4,114.7 263.6,116.2 264.2,117.1 264.7,116.7 265.2,116.0 265.4,115.1 265.4,112.9 265.0,111.6 264.5,111.3 263.8,111.6 263.4,114.4 263.4,113.0 262.1,109.9 260.7,108.3 259.5,108.7 258.9,107.9 258.4,106.4 255.5,102.0 255.1,102.0 254.5,102.7 253.2,102.7 251.5,103.3Z" fill="#a3d4e6" fill-opacity="0.75" stroke="#a3d4e6" stroke-width="0.6" stroke-linejoin="round"/>
<path d="M260.7,117.0 261.0,118.3 262.6,119.8 262.9,121.0 263.4,121.6 265.3,123.3 266.8,124.1 268.3,126.1 269.2,125.9 269.9,125.3 270.4,124.3 270.4,123.4 269.9,120.4 269.1,118.8 270.1,118.3 272.5,116.3 274.2,114.4 274.6,113.4 274.6,111.2 273.8,109.1 272.7,107.5 270.9,105.8 271.5,105.8 271.7,105.4 272.3,105.3 272.5,105.6 273.2,105.1 273.8,104.2 273.8,103.0 272.0,103.8 271.6,103.3 270.2,103.1 268.9,103.9 268.1,106.0 269.0,107.7 270.8,109.3 271.5,110.2 272.0,111.6 272.1,113.0 270.8,114.3 269.0,115.9 268.9,115.4 267.2,113.9 266.6,112.7 265.7,112.3 264.5,111.3 263.8,111.7 263.4,114.4 263.4,113.0 262.3,110.3 261.8,111.3 261.6,113.3 260.8,114.6ZM263.5,116.1 264.9,118.1 266.2,118.8 267.4,121.2 267.7,123.0 266.1,121.9 265.3,120.0 264.9,118.4 263.3,116.9 263.4,114.7Z" fill="#a3d4e6" fill-opacity="0.75" stroke="#a3d4e6" stroke-width="0.6" stroke-linejoin="round"/>
<path d="M259.6,124.2 261.9,125.9 263.5,129.2 265.0,131.0 266.6,132.3 266.8,133.1 267.4,133.9 269.4,135.0 273.6,136.0 280.9,136.9 283.0,136.7 284.1,137.8 284.9,138.0 285.9,137.9 289.9,135.9 291.0,134.8 291.2,133.8 291.1,132.8 290.7,132.0 289.7,131.2 291.6,131.5 292.7,131.3 293.6,131.7 294.6,131.7 295.8,132.3 295.8,133.7 296.4,134.9 297.2,135.5 300.1,136.7 301.6,136.7 302.0,135.8 302.2,136.5 303.0,135.7 303.4,134.7 303.4,133.5 302.2,134.3 300.9,134.2 299.2,133.3 298.3,133.1 298.8,131.6 298.0,130.4 295.0,129.0 294.1,129.1 293.3,127.8 294.6,127.6 294.7,127.4 293.1,127.3 292.4,126.6 292.6,125.8 295.1,126.6 295.5,127.6 296.6,128.4 298.2,126.9 301.3,127.7 303.6,128.8 303.8,127.1 302.8,125.6 301.9,125.2 298.6,124.3 297.8,124.3 296.8,124.7 295.9,124.1 292.6,123.2 291.6,121.1 290.1,120.2 288.6,120.4 287.6,121.2 286.5,121.2 284.3,121.9 283.7,121.8 284.3,120.4 284.0,118.9 283.0,117.3 280.8,115.7 279.8,116.7 280.3,115.6 279.3,115.5 278.2,115.9 274.7,119.9 271.6,121.0 270.5,122.3 270.2,123.6 268.8,122.0 267.8,121.4 268.2,123.8 265.9,122.1 265.0,120.1 264.7,118.6 263.5,117.5 260.7,116.9 259.5,117.1 258.3,118.0 257.9,119.5 258.2,121.5ZM287.7,130.9 287.7,130.4 288.7,131.0 287.9,130.9Z" fill="#a3d4e6" fill-opacity="0.75" stroke="#a3d4e6" stroke-width="0.6" stroke-linejoin="round"/>
<path d="M260.5,119.5 261.4,119.7 262.4,119.9 263.6,121.4 264.5,122.2 265.5,123.1 266.2,123.5 267.0,123.9 268.1,125.1 268.7,126.1 269.8,127.4 270.1,128.6 269.9,129.8 269.8,131.0 268.7,130.6 267.7,129.9 266.8,129.1 265.6,127.6 265.0,126.1 264.4,125.1 263.8,124.1 262.7,123.3 261.6,122.6 261.2,121.6 260.7,120.6ZM270.0,131.0 270.8,131.1 271.6,131.1 272.5,131.4 273.4,131.7 274.4,131.9 275.2,132.0 276.0,132.0 276.7,132.4 277.4,132.7 277.2,133.8 276.2,133.7 275.2,133.6 274.3,133.5 273.2,133.2 272.1,132.9 271.2,132.7 270.2,132.5 269.2,132.0ZM279.7,118.1 281.1,119.1 281.8,120.1 280.7,121.1 280.8,122.1 280.8,123.1 281.7,124.1 280.7,125.1 280.0,126.1 279.4,127.6 279.2,128.5 278.9,129.3 277.7,128.9 277.2,128.4 276.1,128.3 275.0,128.1 273.8,128.1 273.2,126.6 272.9,125.1 272.8,123.6 273.2,123.1 274.1,122.8 275.0,122.6 276.3,122.1 277.0,121.3 277.6,120.5 278.4,120.1 278.9,119.1 279.5,118.2ZM287.1,123.7 286.2,124.1 285.3,124.3 284.4,124.6 283.1,124.3 282.6,125.1 283.1,126.1 283.0,127.6 281.6,128.6 281.8,129.7 281.9,130.7 282.8,130.4 283.4,129.6 283.4,128.1 283.8,129.0 284.2,129.9 285.1,130.4 285.2,129.3 284.6,128.1 284.0,126.6 284.7,126.4 285.5,126.1 285.6,125.6 284.7,125.7 283.8,125.8 284.8,125.3 285.7,124.7 286.6,124.1ZM277.8,133.2 279.1,133.9 280.2,133.7 281.4,133.5 282.2,133.7 283.1,133.8 284.0,133.6 284.9,133.4 284.7,133.9 283.5,134.1 282.3,134.2 281.1,134.3 280.2,134.2 279.2,134.1 278.2,134.0ZM286.7,133.4 287.7,133.5 288.6,133.6 287.6,134.1 286.6,134.5 285.2,135.4 285.7,134.7ZM289.6,122.8 290.0,123.7 290.4,124.6 289.9,125.9 289.4,124.7 289.3,123.6ZM289.7,127.9 290.9,128.0 292.2,128.1 291.7,128.9 290.7,128.8 289.7,128.6Z" fill="none" stroke="#7fa5b3" stroke-opacity="0.7" stroke-width="0.9" stroke-linejoin="round"/>
<path d="M282.2,103.5 281.2,105.5 281.0,109.1 281.0,113.1 280.0,116.6 282.9,119.1 286.1,120.6 288.7,120.1 288.9,116.1 287.5,112.3 284.4,106.1Z" fill="#eba668" fill-opacity="0.75" stroke="#eba668" stroke-width="0.6" stroke-linejoin="round"/></g>
<text x="163.4" y="222.9" class="lb">CISCD</text>
<g transform="translate(348.60,17.31) scale(0.659)"><use href="#base"/>
<path d="M122.2,115.5 121.7,114.2 120.1,113.1 117.8,112.5 116.5,112.5 114.0,112.8 111.9,113.6 110.7,114.8 110.5,115.5 110.6,116.1 111.7,117.4 113.7,118.2 116.2,118.5 117.5,118.4 119.9,117.8 121.6,116.8Z" fill="#eba668" fill-opacity="0.35" stroke="#eba668" stroke-width="1.6" stroke-linejoin="round"/>
<path d="M101.3,127.6 102.6,130.3 103.8,130.9 103.6,129.9 104.4,128.7 104.7,127.6 103.9,127.1 103.9,126.2 104.5,124.8 106.2,122.4 105.9,122.1 104.8,121.8 103.9,121.9 103.2,122.4 102.2,123.5 101.3,126.0Z" fill="#e07a50" fill-opacity="0.75" stroke="#e07a50" stroke-width="0.6" stroke-linejoin="round"/>
<path d="M103.9,126.3 102.5,126.9 101.1,129.1 101.0,130.1 101.6,132.3 102.9,133.6 106.2,139.7 107.9,142.3 112.8,145.6 113.6,145.9 114.5,145.9 114.2,143.5 109.7,140.4 108.4,138.5 104.9,132.0 103.9,131.0 103.6,129.9 104.4,128.7 104.7,127.6 103.9,127.1Z" fill="#e07a50" fill-opacity="0.75" stroke="#e07a50" stroke-width="0.6" stroke-linejoin="round"/>
<path d="M127.0,178.6 123.5,177.6 124.0,178.4 126.2,179.7 125.7,179.9 125.6,180.3 122.5,179.5 120.4,178.2 118.8,176.8 117.5,174.9 116.0,171.1 116.1,169.1 115.0,162.0 115.3,158.2 114.8,155.2 114.5,145.6 114.2,143.5 112.3,142.1 111.8,142.9 111.6,143.8 112.1,148.9 112.2,155.2 112.7,158.3 112.4,162.1 113.5,169.3 113.5,171.9 115.4,176.4 116.9,178.5 118.8,180.1 121.6,181.9 125.5,182.9 126.8,182.8 127.6,182.3 128.1,181.6 128.2,180.7 128.1,179.8Z" fill="#d6453a" fill-opacity="0.75" stroke="#d6453a" stroke-width="0.6" stroke-linejoin="round"/>
<path d="M93.1,125.7 93.5,126.9 94.4,127.4 96.1,127.1 96.7,126.1 96.2,124.6 95.3,124.0 93.6,124.3 93.1,125.0Z" fill="#b8b8b8" fill-opacity="0.75" stroke="#b8b8b8" stroke-width="0.6" stroke-linejoin="round"/>
<path d="M169.0,87.7 168.1,89.5 166.8,90.4 165.3,92.3 164.9,94.2 164.4,94.8 162.9,95.9 162.3,96.6 162.2,98.1 163.2,99.4 164.6,97.8 166.3,96.7 167.7,94.8 167.6,93.6 168.7,92.2 170.1,91.2 170.9,89.6 171.8,90.1 173.2,90.1 175.5,89.5 175.0,88.3 174.1,87.7 173.7,88.0 171.9,88.0 171.1,88.6 169.5,87.6Z" fill="#e07a50" fill-opacity="0.75" stroke="#e07a50" stroke-width="0.6" stroke-linejoin="round"/>
<path d="M187.5,92.8 187.6,91.5 187.1,90.2 187.1,87.6 186.4,87.3 187.0,87.1 186.2,86.1 185.3,85.7 183.6,85.4 182.1,85.8 180.5,85.7 177.5,86.0 174.7,87.0 173.7,88.0 171.8,88.0 171.4,88.5 171.0,89.3 170.9,89.7 171.8,90.1 173.2,90.1 178.2,88.5 182.3,88.4 183.8,88.0 184.5,88.2 184.4,90.3 185.1,92.2 186.7,92.4Z" fill="#e07a50" fill-opacity="0.75" stroke="#e07a50" stroke-width="0.6" stroke-linejoin="round"/>
<path d="M190.7,91.8 187.4,89.9 185.3,89.7 184.5,89.9 184.7,91.3 185.2,92.3 186.7,92.4 188.7,93.8 191.8,95.0 192.2,94.9 192.9,93.1 193.6,92.5 194.6,92.5 196.8,93.8 199.1,94.2 199.2,93.1 198.7,92.1 197.3,91.0 195.4,90.0 192.8,90.0 191.9,90.5Z" fill="#e07a50" fill-opacity="0.75" stroke="#e07a50" stroke-width="0.6" stroke-linejoin="round"/>
<path d="M208.0,105.3 209.5,104.7 210.1,103.4 208.8,100.9 206.2,96.9 205.8,95.4 205.5,95.2 205.0,96.8 204.3,96.4 204.0,96.8 205.9,100.7 207.6,103.2ZM205.4,93.0 204.8,92.1 204.1,91.6 201.7,91.2 199.6,91.8 196.6,91.2 195.5,91.7 194.8,92.6 196.8,93.8 199.5,94.4 201.7,93.8 204.0,94.2 205.1,93.8Z" fill="#e07a50" fill-opacity="0.75" stroke="#e07a50" stroke-width="0.6" stroke-linejoin="round"/>
<path d="M215.8,114.9 216.2,113.9 216.2,111.7 214.3,112.1 213.6,109.5 212.4,108.2 210.4,104.6 210.3,103.6 208.9,101.0 207.7,100.7 206.6,101.1 206.4,101.3 207.6,103.2 208.0,105.6 210.2,109.6 211.7,111.3 213.7,112.6 213.7,113.8 214.2,113.9 215.4,114.9Z" fill="#e07a50" fill-opacity="0.75" stroke="#e07a50" stroke-width="0.6" stroke-linejoin="round"/>
<path d="M210.8,128.9 212.4,129.4 213.6,128.9 215.3,126.7 217.8,124.5 220.4,121.2 222.2,118.1 223.5,115.1 223.3,112.6 222.4,111.4 220.9,111.0 216.2,112.2 215.8,111.8 214.3,112.1 214.1,111.3 213.3,111.4 212.5,111.8 213.7,112.6 213.7,113.8 214.2,113.9 215.5,115.0 220.8,113.7 220.9,114.6 218.1,119.9 215.8,122.9 213.3,124.9Z" fill="#3b76b0" fill-opacity="0.75" stroke="#3b76b0" stroke-width="0.6" stroke-linejoin="round"/>
<path d="M213.0,130.3 214.3,128.1 214.5,127.2 214.1,125.9 213.2,125.0 210.3,129.6 210.4,133.7 211.2,135.7 211.3,137.9 212.1,137.8 212.9,137.4 213.7,136.1 213.7,135.0 212.9,133.1Z" fill="#67adc9" fill-opacity="0.75" stroke="#67adc9" stroke-width="0.6" stroke-linejoin="round"/>
<path d="M202.8,154.0 203.6,154.3 204.5,154.3 205.8,153.5 206.3,152.8 206.3,151.9 208.1,150.8 208.7,149.8 208.6,146.0 211.6,143.7 213.6,141.2 213.9,140.2 213.8,135.3 213.3,134.2 212.5,133.5 211.4,133.3 210.4,133.6 211.2,135.7 211.3,140.0 209.8,141.9 206.0,144.8 206.2,148.9 204.5,149.9 203.6,150.9 203.7,152.0Z" fill="#a3d4e6" fill-opacity="0.75" stroke="#a3d4e6" stroke-width="0.6" stroke-linejoin="round"/>
<path d="M188.4,156.7 189.1,160.4 189.6,161.2 190.3,161.7 192.6,162.3 195.0,161.7 197.9,161.4 200.7,160.0 203.9,156.6 205.7,154.2 206.3,152.5 206.2,151.4 205.6,150.4 204.6,149.8 203.6,151.0 203.7,152.0 203.4,153.0 202.0,154.9 199.1,157.9 197.2,158.9 194.6,159.1 192.5,159.7 191.5,159.4 191.0,156.1 189.0,151.6 188.0,152.3 187.5,153.5 187.5,154.4Z" fill="#eba668" fill-opacity="0.75" stroke="#eba668" stroke-width="0.6" stroke-linejoin="round"/>
<path d="M183.8,142.7 186.0,148.6 186.5,152.4 187.8,155.0 188.4,155.7 189.3,156.0 190.8,155.8 189.0,151.7 188.6,148.0 186.3,142.1 186.8,140.0 186.6,139.9 185.7,139.9 184.8,140.2 184.2,140.8 183.8,141.6Z" fill="#a3d4e6" fill-opacity="0.75" stroke="#a3d4e6" stroke-width="0.6" stroke-linejoin="round"/>
<path d="M207.9,81.7 206.1,81.5 205.2,80.9 204.2,80.7 198.3,82.0 197.8,82.5 198.5,83.7 197.5,84.1 196.9,83.8 195.6,83.8 195.0,84.5 195.1,85.8 196.6,89.3 197.6,90.1 200.2,91.0 201.6,90.8 202.6,91.1 204.1,91.1 205.3,90.6 206.1,90.7 206.0,88.2 204.5,87.9 203.8,88.5 202.9,88.5 201.3,87.8 200.5,88.4 198.7,87.8 197.7,85.2 198.3,84.9 199.5,84.9 200.1,84.2 201.4,84.1 204.2,83.3 205.2,84.0 208.3,84.3 209.7,83.6 209.5,82.3 208.3,81.5ZM203.8,89.9 204.0,89.9 203.9,90.0Z" fill="#d6453a" fill-opacity="0.75" stroke="#d6453a" stroke-width="0.6" stroke-linejoin="round"/>
<path d="M207.8,104.6 210.9,109.0 211.2,110.8 213.7,112.6 213.7,113.8 214.5,113.8 215.3,113.4 215.9,112.7 216.1,111.7 214.3,112.1 213.3,107.9 210.1,103.4 208.8,100.9 206.2,96.9 205.8,95.4 205.5,95.2 205.0,96.8 204.3,96.4 204.0,96.8 205.9,100.7 207.6,103.2ZM205.2,93.3 204.4,93.6 203.7,94.2 205.0,93.9Z" fill="#d6453a" fill-opacity="0.75" stroke="#d6453a" stroke-width="0.6" stroke-linejoin="round"/>
<path d="M215.0,114.6 218.7,113.6 223.0,110.6 225.7,109.5 227.2,108.1 228.4,105.7 229.8,103.7 230.1,102.8 229.7,101.2 228.0,99.6 227.6,99.4 226.1,99.2 225.3,98.3 224.3,97.7 223.2,98.2 222.2,97.7 222.1,99.1 222.9,101.1 223.2,101.0 224.3,99.3 224.9,100.7 226.4,101.7 227.4,102.6 226.1,104.4 225.3,106.4 224.3,107.3 221.7,108.3 217.5,111.3 215.4,112.0 214.3,112.1 213.6,109.3 212.3,109.9 211.6,111.2 213.7,112.6 213.7,113.8 214.2,113.9Z" fill="#d6453a" fill-opacity="0.75" stroke="#d6453a" stroke-width="0.6" stroke-linejoin="round"/>
<path d="M225.5,101.1 226.5,99.3 226.1,99.2 225.3,98.3 224.2,97.7 223.2,98.2 222.2,97.7 222.1,97.9 218.7,95.3 217.2,94.7 216.9,94.9 216.6,95.9 219.5,100.2 219.7,100.3 220.0,100.1 220.0,100.6 220.7,101.3 223.1,101.1 224.3,99.3 224.9,100.8Z" fill="#d6453a" fill-opacity="0.75" stroke="#d6453a" stroke-width="0.6" stroke-linejoin="round"/>
<path d="M218.2,98.3 219.9,99.6 222.7,100.8 223.4,100.8 224.3,99.3 224.9,100.7 226.7,101.9 232.4,102.1 233.8,103.2 234.7,103.5 235.6,103.5 236.4,103.0 235.2,101.0 234.0,100.0 233.0,99.6 226.1,99.2 225.3,98.3 224.3,97.8 223.2,98.2 221.1,97.3 218.6,95.3 217.1,94.7 216.5,95.8Z" fill="#d6453a" fill-opacity="0.75" stroke="#d6453a" stroke-width="0.6" stroke-linejoin="round"/>
<path d="M219.0,84.6 218.1,85.7 217.0,85.7 216.2,86.1 216.1,86.5 216.6,87.5 219.0,88.2 220.6,88.0 220.2,86.5Z" fill="#e07a50" fill-opacity="0.75" stroke="#e07a50" stroke-width="0.6" stroke-linejoin="round"/>
<path d="M251.3,104.1 252.4,105.2 254.4,105.3 256.1,107.6 256.6,109.2 257.7,110.6 258.6,111.2 259.9,111.3 260.8,113.5 260.8,115.7 261.4,116.7 262.4,117.3 263.7,117.3 263.3,116.9 263.4,114.7 263.6,116.2 264.2,117.1 264.7,116.7 265.2,116.0 265.4,115.1 265.4,112.9 265.0,111.6 264.5,111.3 263.8,111.6 263.4,114.4 263.4,113.0 262.1,109.9 260.7,108.3 259.5,108.7 258.9,107.9 258.4,106.4 255.5,102.0 255.1,102.0 254.5,102.7 253.2,102.7 251.5,103.3Z" fill="#e07a50" fill-opacity="0.75" stroke="#e07a50" stroke-width="0.6" stroke-linejoin="round"/>
<path d="M260.7,117.0 261.0,118.3 262.6,119.8 262.9,121.0 263.4,121.6 265.3,123.3 266.8,124.1 268.3,126.1 269.2,125.9 269.9,125.3 270.4,124.3 270.4,123.4 269.9,120.4 269.1,118.8 270.1,118.3 272.5,116.3 274.2,114.4 274.6,113.4 274.6,111.2 273.8,109.1 272.7,107.5 270.9,105.8 271.5,105.8 271.7,105.4 272.3,105.3 272.5,105.6 273.2,105.1 273.8,104.2 273.8,103.0 272.0,103.8 271.6,103.3 270.2,103.1 268.9,103.9 268.1,106.0 269.0,107.7 270.8,109.3 271.5,110.2 272.0,111.6 272.1,113.0 270.8,114.3 269.0,115.9 268.9,115.4 267.2,113.9 266.6,112.7 265.7,112.3 264.5,111.3 263.8,111.7 263.4,114.4 263.4,113.0 262.3,110.3 261.8,111.3 261.6,113.3 260.8,114.6ZM263.5,116.1 264.9,118.1 266.2,118.8 267.4,121.2 267.7,123.0 266.1,121.9 265.3,120.0 264.9,118.4 263.3,116.9 263.4,114.7Z" fill="#d6453a" fill-opacity="0.75" stroke="#d6453a" stroke-width="0.6" stroke-linejoin="round"/>
<path d="M259.6,124.2 261.9,125.9 263.5,129.2 265.0,131.0 266.6,132.3 266.8,133.1 267.4,133.9 269.4,135.0 273.6,136.0 280.9,136.9 283.0,136.7 284.1,137.8 284.9,138.0 285.9,137.9 289.9,135.9 291.0,134.8 291.2,133.8 291.1,132.8 290.7,132.0 289.7,131.2 291.6,131.5 292.7,131.3 293.6,131.7 294.6,131.7 295.8,132.3 295.8,133.7 296.4,134.9 297.2,135.5 300.1,136.7 301.6,136.7 302.0,135.8 302.2,136.5 303.0,135.7 303.4,134.7 303.4,133.5 302.2,134.3 300.9,134.2 299.2,133.3 298.3,133.1 298.8,131.6 298.0,130.4 295.0,129.0 294.1,129.1 293.3,127.8 294.6,127.6 294.7,127.4 293.1,127.3 292.4,126.6 292.6,125.8 295.1,126.6 295.5,127.6 296.6,128.4 298.2,126.9 301.3,127.7 303.6,128.8 303.8,127.1 302.8,125.6 301.9,125.2 298.6,124.3 297.8,124.3 296.8,124.7 295.9,124.1 292.6,123.2 291.6,121.1 290.1,120.2 288.6,120.4 287.6,121.2 286.5,121.2 284.3,121.9 283.7,121.8 284.3,120.4 284.0,118.9 283.0,117.3 280.8,115.7 279.8,116.7 280.3,115.6 279.3,115.5 278.2,115.9 274.7,119.9 271.6,121.0 270.5,122.3 270.2,123.6 268.8,122.0 267.8,121.4 268.2,123.8 265.9,122.1 265.0,120.1 264.7,118.6 263.5,117.5 260.7,116.9 259.5,117.1 258.3,118.0 257.9,119.5 258.2,121.5ZM287.7,130.9 287.7,130.4 288.7,131.0 287.9,130.9Z" fill="#d6453a" fill-opacity="0.75" stroke="#d6453a" stroke-width="0.6" stroke-linejoin="round"/>
<path d="M260.5,119.5 261.4,119.7 262.4,119.9 263.6,121.4 264.5,122.2 265.5,123.1 266.2,123.5 267.0,123.9 268.1,125.1 268.7,126.1 269.8,127.4 270.1,128.6 269.9,129.8 269.8,131.0 268.7,130.6 267.7,129.9 266.8,129.1 265.6,127.6 265.0,126.1 264.4,125.1 263.8,124.1 262.7,123.3 261.6,122.6 261.2,121.6 260.7,120.6ZM270.0,131.0 270.8,131.1 271.6,131.1 272.5,131.4 273.4,131.7 274.4,131.9 275.2,132.0 276.0,132.0 276.7,132.4 277.4,132.7 277.2,133.8 276.2,133.7 275.2,133.6 274.3,133.5 273.2,133.2 272.1,132.9 271.2,132.7 270.2,132.5 269.2,132.0ZM279.7,118.1 281.1,119.1 281.8,120.1 280.7,121.1 280.8,122.1 280.8,123.1 281.7,124.1 280.7,125.1 280.0,126.1 279.4,127.6 279.2,128.5 278.9,129.3 277.7,128.9 277.2,128.4 276.1,128.3 275.0,128.1 273.8,128.1 273.2,126.6 272.9,125.1 272.8,123.6 273.2,123.1 274.1,122.8 275.0,122.6 276.3,122.1 277.0,121.3 277.6,120.5 278.4,120.1 278.9,119.1 279.5,118.2ZM287.1,123.7 286.2,124.1 285.3,124.3 284.4,124.6 283.1,124.3 282.6,125.1 283.1,126.1 283.0,127.6 281.6,128.6 281.8,129.7 281.9,130.7 282.8,130.4 283.4,129.6 283.4,128.1 283.8,129.0 284.2,129.9 285.1,130.4 285.2,129.3 284.6,128.1 284.0,126.6 284.7,126.4 285.5,126.1 285.6,125.6 284.7,125.7 283.8,125.8 284.8,125.3 285.7,124.7 286.6,124.1ZM277.8,133.2 279.1,133.9 280.2,133.7 281.4,133.5 282.2,133.7 283.1,133.8 284.0,133.6 284.9,133.4 284.7,133.9 283.5,134.1 282.3,134.2 281.1,134.3 280.2,134.2 279.2,134.1 278.2,134.0ZM286.7,133.4 287.7,133.5 288.6,133.6 287.6,134.1 286.6,134.5 285.2,135.4 285.7,134.7ZM289.6,122.8 290.0,123.7 290.4,124.6 289.9,125.9 289.4,124.7 289.3,123.6ZM289.7,127.9 290.9,128.0 292.2,128.1 291.7,128.9 290.7,128.8 289.7,128.6Z" fill="none" stroke="#a6352d" stroke-opacity="0.7" stroke-width="0.9" stroke-linejoin="round"/>
<path d="M282.2,103.5 281.2,105.5 281.0,109.1 281.0,113.1 280.0,116.6 282.9,119.1 286.1,120.6 288.7,120.1 288.9,116.1 287.5,112.3 284.4,106.1Z" fill="#d6453a" fill-opacity="0.75" stroke="#d6453a" stroke-width="0.6" stroke-linejoin="round"/></g>
<text x="435.6" y="166.7" class="lb">Atmosphere</text>
<g transform="translate(588.05,17.31) scale(0.659)"><use href="#base"/>
<path d="M122.2,115.5 121.7,114.2 120.1,113.1 117.8,112.5 116.5,112.5 114.0,112.8 111.9,113.6 110.7,114.8 110.5,115.5 110.6,116.1 111.7,117.4 113.7,118.2 116.2,118.5 117.5,118.4 119.9,117.8 121.6,116.8Z" fill="#67adc9" fill-opacity="0.35" stroke="#67adc9" stroke-width="1.6" stroke-linejoin="round"/>
<path d="M103.9,126.3 102.5,126.9 101.1,129.1 101.0,130.1 101.6,132.3 102.9,133.6 106.2,139.7 107.9,142.3 112.8,145.6 113.6,145.9 114.5,145.9 114.2,143.5 109.7,140.4 108.4,138.5 104.9,132.0 103.9,131.0 103.6,129.9 104.4,128.7 104.7,127.6 103.9,127.1Z" fill="#eba668" fill-opacity="0.75" stroke="#eba668" stroke-width="0.6" stroke-linejoin="round"/>
<path d="M127.0,178.6 123.5,177.6 124.0,178.4 126.2,179.7 125.7,179.9 125.6,180.3 122.5,179.5 120.4,178.2 118.8,176.8 117.5,174.9 116.0,171.1 116.1,169.1 115.0,162.0 115.3,158.2 114.8,155.2 114.5,145.6 114.2,143.5 112.3,142.1 111.8,142.9 111.6,143.8 112.1,148.9 112.2,155.2 112.7,158.3 112.4,162.1 113.5,169.3 113.5,171.9 115.4,176.4 116.9,178.5 118.8,180.1 121.6,181.9 125.5,182.9 126.8,182.8 127.6,182.3 128.1,181.6 128.2,180.7 128.1,179.8Z" fill="#a3d4e6" fill-opacity="0.75" stroke="#a3d4e6" stroke-width="0.6" stroke-linejoin="round"/>
<path d="M169.0,87.7 168.1,89.5 166.8,90.4 165.3,92.3 164.9,94.2 164.4,94.8 162.9,95.9 162.3,96.6 162.2,98.1 163.2,99.4 164.6,97.8 166.3,96.7 167.7,94.8 167.6,93.6 168.7,92.2 170.1,91.2 170.9,89.6 171.8,90.1 173.2,90.1 175.5,89.5 175.0,88.3 174.1,87.7 173.7,88.0 171.9,88.0 171.1,88.6 169.5,87.6Z" fill="#eba668" fill-opacity="0.75" stroke="#eba668" stroke-width="0.6" stroke-linejoin="round"/>
<path d="M187.5,92.8 187.6,91.5 187.1,90.2 187.1,87.6 186.4,87.3 187.0,87.1 186.2,86.1 185.3,85.7 183.6,85.4 182.1,85.8 180.5,85.7 177.5,86.0 174.7,87.0 173.7,88.0 171.8,88.0 171.4,88.5 171.0,89.3 170.9,89.7 171.8,90.1 173.2,90.1 178.2,88.5 182.3,88.4 183.8,88.0 184.5,88.2 184.4,90.3 185.1,92.2 186.7,92.4Z" fill="#eba668" fill-opacity="0.75" stroke="#eba668" stroke-width="0.6" stroke-linejoin="round"/>
<path d="M190.7,91.8 187.4,89.9 185.3,89.7 184.5,89.9 184.7,91.3 185.2,92.3 186.7,92.4 188.7,93.8 191.8,95.0 192.2,94.9 192.9,93.1 193.6,92.5 194.6,92.5 196.8,93.8 199.1,94.2 199.2,93.1 198.7,92.1 197.3,91.0 195.4,90.0 192.8,90.0 191.9,90.5Z" fill="#eba668" fill-opacity="0.75" stroke="#eba668" stroke-width="0.6" stroke-linejoin="round"/>
<path d="M208.0,105.3 209.5,104.7 210.1,103.4 208.8,100.9 206.2,96.9 205.8,95.4 205.5,95.2 205.0,96.8 204.3,96.4 204.0,96.8 205.9,100.7 207.6,103.2ZM205.4,93.0 204.8,92.1 204.1,91.6 201.7,91.2 199.6,91.8 196.6,91.2 195.5,91.7 194.8,92.6 196.8,93.8 199.5,94.4 201.7,93.8 204.0,94.2 205.1,93.8Z" fill="#eba668" fill-opacity="0.75" stroke="#eba668" stroke-width="0.6" stroke-linejoin="round"/>
<path d="M159.3,112.6 159.7,113.0 159.9,114.1 161.2,116.0 162.3,116.4 163.6,115.9 160.8,112.6 160.2,110.4 161.1,109.1 161.0,108.6 159.7,108.6 158.7,109.6 158.6,110.6ZM179.4,120.4 180.3,119.7 180.0,119.3 178.7,118.7 177.4,118.9 173.9,120.3 171.6,120.1 172.1,121.3 173.3,121.9 176.7,121.2 177.5,120.6Z" fill="#b03a35" fill-opacity="0.75" stroke="#b03a35" stroke-width="0.6" stroke-linejoin="round"/>
<path d="M215.8,114.9 216.2,113.9 216.2,111.7 214.3,112.1 213.6,109.5 212.4,108.2 210.4,104.6 210.3,103.6 208.9,101.0 207.7,100.7 206.6,101.1 206.4,101.3 207.6,103.2 208.0,105.6 210.2,109.6 211.7,111.3 213.7,112.6 213.7,113.8 214.2,113.9 215.4,114.9Z" fill="#a3d4e6" fill-opacity="0.75" stroke="#a3d4e6" stroke-width="0.6" stroke-linejoin="round"/>
<path d="M210.8,128.9 212.4,129.4 213.6,128.9 215.3,126.7 217.8,124.5 220.4,121.2 222.2,118.1 223.5,115.1 223.3,112.6 222.4,111.4 220.9,111.0 216.2,112.2 215.8,111.8 214.3,112.1 214.1,111.3 213.3,111.4 212.5,111.8 213.7,112.6 213.7,113.8 214.2,113.9 215.5,115.0 220.8,113.7 220.9,114.6 218.1,119.9 215.8,122.9 213.3,124.9Z" fill="#a3d4e6" fill-opacity="0.75" stroke="#a3d4e6" stroke-width="0.6" stroke-linejoin="round"/>
<path d="M213.0,130.3 214.3,128.1 214.5,127.2 214.1,125.9 213.2,125.0 210.3,129.6 210.4,133.7 211.2,135.7 211.3,137.9 212.1,137.8 212.9,137.4 213.7,136.1 213.7,135.0 212.9,133.1Z" fill="#a3d4e6" fill-opacity="0.75" stroke="#a3d4e6" stroke-width="0.6" stroke-linejoin="round"/>
<path d="M202.8,154.0 203.6,154.3 204.5,154.3 205.8,153.5 206.3,152.8 206.3,151.9 208.1,150.8 208.7,149.8 208.6,146.0 211.6,143.7 213.6,141.2 213.9,140.2 213.8,135.3 213.3,134.2 212.5,133.5 211.4,133.3 210.4,133.6 211.2,135.7 211.3,140.0 209.8,141.9 206.0,144.8 206.2,148.9 204.5,149.9 203.6,150.9 203.7,152.0Z" fill="#b03a35" fill-opacity="0.75" stroke="#b03a35" stroke-width="0.6" stroke-linejoin="round"/>
<path d="M188.4,156.7 189.1,160.4 189.6,161.2 190.3,161.7 192.6,162.3 195.0,161.7 197.9,161.4 200.7,160.0 203.9,156.6 205.7,154.2 206.3,152.5 206.2,151.4 205.6,150.4 204.6,149.8 203.6,151.0 203.7,152.0 203.4,153.0 202.0,154.9 199.1,157.9 197.2,158.9 194.6,159.1 192.5,159.7 191.5,159.4 191.0,156.1 189.0,151.6 188.0,152.3 187.5,153.5 187.5,154.4Z" fill="#b03a35" fill-opacity="0.75" stroke="#b03a35" stroke-width="0.6" stroke-linejoin="round"/>
<path d="M207.9,81.7 206.1,81.5 205.2,80.9 204.2,80.7 198.3,82.0 197.8,82.5 198.5,83.7 197.5,84.1 196.9,83.8 195.6,83.8 195.0,84.5 195.1,85.8 196.6,89.3 197.6,90.1 200.2,91.0 201.6,90.8 202.6,91.1 204.1,91.1 205.3,90.6 206.1,90.7 206.0,88.2 204.5,87.9 203.8,88.5 202.9,88.5 201.3,87.8 200.5,88.4 198.7,87.8 197.7,85.2 198.3,84.9 199.5,84.9 200.1,84.2 201.4,84.1 204.2,83.3 205.2,84.0 208.3,84.3 209.7,83.6 209.5,82.3 208.3,81.5ZM203.8,89.9 204.0,89.9 203.9,90.0Z" fill="#eba668" fill-opacity="0.75" stroke="#eba668" stroke-width="0.6" stroke-linejoin="round"/>
<path d="M207.8,104.6 210.9,109.0 211.2,110.8 213.7,112.6 213.7,113.8 214.5,113.8 215.3,113.4 215.9,112.7 216.1,111.7 214.3,112.1 213.3,107.9 210.1,103.4 208.8,100.9 206.2,96.9 205.8,95.4 205.5,95.2 205.0,96.8 204.3,96.4 204.0,96.8 205.9,100.7 207.6,103.2ZM205.2,93.3 204.4,93.6 203.7,94.2 205.0,93.9Z" fill="#eba668" fill-opacity="0.75" stroke="#eba668" stroke-width="0.6" stroke-linejoin="round"/>
<path d="M215.0,114.6 218.7,113.6 223.0,110.6 225.7,109.5 227.2,108.1 228.4,105.7 229.8,103.7 230.1,102.8 229.7,101.2 228.0,99.6 227.6,99.4 226.1,99.2 225.3,98.3 224.3,97.7 223.2,98.2 222.2,97.7 222.1,99.1 222.9,101.1 223.2,101.0 224.3,99.3 224.9,100.7 226.4,101.7 227.4,102.6 226.1,104.4 225.3,106.4 224.3,107.3 221.7,108.3 217.5,111.3 215.4,112.0 214.3,112.1 213.6,109.3 212.3,109.9 211.6,111.2 213.7,112.6 213.7,113.8 214.2,113.9Z" fill="#eba668" fill-opacity="0.75" stroke="#eba668" stroke-width="0.6" stroke-linejoin="round"/>
<path d="M225.5,101.1 226.5,99.3 226.1,99.2 225.3,98.3 224.2,97.7 223.2,98.2 222.2,97.7 222.1,97.9 218.7,95.3 217.2,94.7 216.9,94.9 216.6,95.9 219.5,100.2 219.7,100.3 220.0,100.1 220.0,100.6 220.7,101.3 223.1,101.1 224.3,99.3 224.9,100.8Z" fill="#eba668" fill-opacity="0.75" stroke="#eba668" stroke-width="0.6" stroke-linejoin="round"/>
<path d="M218.2,98.3 219.9,99.6 222.7,100.8 223.4,100.8 224.3,99.3 224.9,100.7 226.7,101.9 232.4,102.1 233.8,103.2 234.7,103.5 235.6,103.5 236.4,103.0 235.2,101.0 234.0,100.0 233.0,99.6 226.1,99.2 225.3,98.3 224.3,97.8 223.2,98.2 221.1,97.3 218.6,95.3 217.1,94.7 216.5,95.8Z" fill="#eba668" fill-opacity="0.75" stroke="#eba668" stroke-width="0.6" stroke-linejoin="round"/>
<path d="M251.3,104.1 252.4,105.2 254.4,105.3 256.1,107.6 256.6,109.2 257.7,110.6 258.6,111.2 259.9,111.3 260.8,113.5 260.8,115.7 261.4,116.7 262.4,117.3 263.7,117.3 263.3,116.9 263.4,114.7 263.6,116.2 264.2,117.1 264.7,116.7 265.2,116.0 265.4,115.1 265.4,112.9 265.0,111.6 264.5,111.3 263.8,111.6 263.4,114.4 263.4,113.0 262.1,109.9 260.7,108.3 259.5,108.7 258.9,107.9 258.4,106.4 255.5,102.0 255.1,102.0 254.5,102.7 253.2,102.7 251.5,103.3Z" fill="#a3d4e6" fill-opacity="0.75" stroke="#a3d4e6" stroke-width="0.6" stroke-linejoin="round"/>
<path d="M260.7,117.0 261.0,118.3 262.6,119.8 262.9,121.0 263.4,121.6 265.3,123.3 266.8,124.1 268.3,126.1 269.2,125.9 269.9,125.3 270.4,124.3 270.4,123.4 269.9,120.4 269.1,118.8 270.1,118.3 272.5,116.3 274.2,114.4 274.6,113.4 274.6,111.2 273.8,109.1 272.7,107.5 270.9,105.8 271.5,105.8 271.7,105.4 272.3,105.3 272.5,105.6 273.2,105.1 273.8,104.2 273.8,103.0 272.0,103.8 271.6,103.3 270.2,103.1 268.9,103.9 268.1,106.0 269.0,107.7 270.8,109.3 271.5,110.2 272.0,111.6 272.1,113.0 270.8,114.3 269.0,115.9 268.9,115.4 267.2,113.9 266.6,112.7 265.7,112.3 264.5,111.3 263.8,111.7 263.4,114.4 263.4,113.0 262.3,110.3 261.8,111.3 261.6,113.3 260.8,114.6ZM263.5,116.1 264.9,118.1 266.2,118.8 267.4,121.2 267.7,123.0 266.1,121.9 265.3,120.0 264.9,118.4 263.3,116.9 263.4,114.7Z" fill="#a3d4e6" fill-opacity="0.75" stroke="#a3d4e6" stroke-width="0.6" stroke-linejoin="round"/>
<path d="M259.6,124.2 261.9,125.9 263.5,129.2 265.0,131.0 266.6,132.3 266.8,133.1 267.4,133.9 269.4,135.0 273.6,136.0 280.9,136.9 283.0,136.7 284.1,137.8 284.9,138.0 285.9,137.9 289.9,135.9 291.0,134.8 291.2,133.8 291.1,132.8 290.7,132.0 289.7,131.2 291.6,131.5 292.7,131.3 293.6,131.7 294.6,131.7 295.8,132.3 295.8,133.7 296.4,134.9 297.2,135.5 300.1,136.7 301.6,136.7 302.0,135.8 302.2,136.5 303.0,135.7 303.4,134.7 303.4,133.5 302.2,134.3 300.9,134.2 299.2,133.3 298.3,133.1 298.8,131.6 298.0,130.4 295.0,129.0 294.1,129.1 293.3,127.8 294.6,127.6 294.7,127.4 293.1,127.3 292.4,126.6 292.6,125.8 295.1,126.6 295.5,127.6 296.6,128.4 298.2,126.9 301.3,127.7 303.6,128.8 303.8,127.1 302.8,125.6 301.9,125.2 298.6,124.3 297.8,124.3 296.8,124.7 295.9,124.1 292.6,123.2 291.6,121.1 290.1,120.2 288.6,120.4 287.6,121.2 286.5,121.2 284.3,121.9 283.7,121.8 284.3,120.4 284.0,118.9 283.0,117.3 280.8,115.7 279.8,116.7 280.3,115.6 279.3,115.5 278.2,115.9 274.7,119.9 271.6,121.0 270.5,122.3 270.2,123.6 268.8,122.0 267.8,121.4 268.2,123.8 265.9,122.1 265.0,120.1 264.7,118.6 263.5,117.5 260.7,116.9 259.5,117.1 258.3,118.0 257.9,119.5 258.2,121.5ZM287.7,130.9 287.7,130.4 288.7,131.0 287.9,130.9Z" fill="#a3d4e6" fill-opacity="0.75" stroke="#a3d4e6" stroke-width="0.6" stroke-linejoin="round"/>
<path d="M260.5,119.5 261.4,119.7 262.4,119.9 263.6,121.4 264.5,122.2 265.5,123.1 266.2,123.5 267.0,123.9 268.1,125.1 268.7,126.1 269.8,127.4 270.1,128.6 269.9,129.8 269.8,131.0 268.7,130.6 267.7,129.9 266.8,129.1 265.6,127.6 265.0,126.1 264.4,125.1 263.8,124.1 262.7,123.3 261.6,122.6 261.2,121.6 260.7,120.6ZM270.0,131.0 270.8,131.1 271.6,131.1 272.5,131.4 273.4,131.7 274.4,131.9 275.2,132.0 276.0,132.0 276.7,132.4 277.4,132.7 277.2,133.8 276.2,133.7 275.2,133.6 274.3,133.5 273.2,133.2 272.1,132.9 271.2,132.7 270.2,132.5 269.2,132.0ZM279.7,118.1 281.1,119.1 281.8,120.1 280.7,121.1 280.8,122.1 280.8,123.1 281.7,124.1 280.7,125.1 280.0,126.1 279.4,127.6 279.2,128.5 278.9,129.3 277.7,128.9 277.2,128.4 276.1,128.3 275.0,128.1 273.8,128.1 273.2,126.6 272.9,125.1 272.8,123.6 273.2,123.1 274.1,122.8 275.0,122.6 276.3,122.1 277.0,121.3 277.6,120.5 278.4,120.1 278.9,119.1 279.5,118.2ZM287.1,123.7 286.2,124.1 285.3,124.3 284.4,124.6 283.1,124.3 282.6,125.1 283.1,126.1 283.0,127.6 281.6,128.6 281.8,129.7 281.9,130.7 282.8,130.4 283.4,129.6 283.4,128.1 283.8,129.0 284.2,129.9 285.1,130.4 285.2,129.3 284.6,128.1 284.0,126.6 284.7,126.4 285.5,126.1 285.6,125.6 284.7,125.7 283.8,125.8 284.8,125.3 285.7,124.7 286.6,124.1ZM277.8,133.2 279.1,133.9 280.2,133.7 281.4,133.5 282.2,133.7 283.1,133.8 284.0,133.6 284.9,133.4 284.7,133.9 283.5,134.1 282.3,134.2 281.1,134.3 280.2,134.2 279.2,134.1 278.2,134.0ZM286.7,133.4 287.7,133.5 288.6,133.6 287.6,134.1 286.6,134.5 285.2,135.4 285.7,134.7ZM289.6,122.8 290.0,123.7 290.4,124.6 289.9,125.9 289.4,124.7 289.3,123.6ZM289.7,127.9 290.9,128.0 292.2,128.1 291.7,128.9 290.7,128.8 289.7,128.6Z" fill="none" stroke="#7fa5b3" stroke-opacity="0.7" stroke-width="0.9" stroke-linejoin="round"/>
<path d="M282.2,103.5 281.2,105.5 281.0,109.1 281.0,113.1 280.0,116.6 282.9,119.1 286.1,120.6 288.7,120.1 288.9,116.1 287.5,112.3 284.4,106.1Z" fill="#a3d4e6" fill-opacity="0.75" stroke="#a3d4e6" stroke-width="0.6" stroke-linejoin="round"/></g>
<text x="691.0" y="166.7" class="lb">Land</text>
<g transform="translate(348.60,151.96) scale(0.659)"><use href="#base"/>
<path d="M122.2,115.5 121.7,114.2 120.1,113.1 117.8,112.5 116.5,112.5 114.0,112.8 111.9,113.6 110.7,114.8 110.5,115.5 110.6,116.1 111.7,117.4 113.7,118.2 116.2,118.5 117.5,118.4 119.9,117.8 121.6,116.8Z" fill="#67adc9" fill-opacity="0.35" stroke="#67adc9" stroke-width="1.6" stroke-linejoin="round"/>
<path d="M101.3,127.6 102.6,130.3 103.8,130.9 103.6,129.9 104.4,128.7 104.7,127.6 103.9,127.1 103.9,126.2 104.5,124.8 106.2,122.4 105.9,122.1 104.8,121.8 103.9,121.9 103.2,122.4 102.2,123.5 101.3,126.0Z" fill="#a3d4e6" fill-opacity="0.75" stroke="#a3d4e6" stroke-width="0.6" stroke-linejoin="round"/>
<path d="M103.9,126.3 102.5,126.9 101.1,129.1 101.0,130.1 101.6,132.3 102.9,133.6 106.2,139.7 107.9,142.3 112.8,145.6 113.6,145.9 114.5,145.9 114.2,143.5 109.7,140.4 108.4,138.5 104.9,132.0 103.9,131.0 103.6,129.9 104.4,128.7 104.7,127.6 103.9,127.1Z" fill="#a3d4e6" fill-opacity="0.75" stroke="#a3d4e6" stroke-width="0.6" stroke-linejoin="round"/>
<path d="M127.0,178.6 123.5,177.6 124.0,178.4 126.2,179.7 125.7,179.9 125.6,180.3 122.5,179.5 120.4,178.2 118.8,176.8 117.5,174.9 116.0,171.1 116.1,169.1 115.0,162.0 115.3,158.2 114.8,155.2 114.5,145.6 114.2,143.5 112.3,142.1 111.8,142.9 111.6,143.8 112.1,148.9 112.2,155.2 112.7,158.3 112.4,162.1 113.5,169.3 113.5,171.9 115.4,176.4 116.9,178.5 118.8,180.1 121.6,181.9 125.5,182.9 126.8,182.8 127.6,182.3 128.1,181.6 128.2,180.7 128.1,179.8Z" fill="#67adc9" fill-opacity="0.75" stroke="#67adc9" stroke-width="0.6" stroke-linejoin="round"/>
<path d="M169.0,87.7 168.1,89.5 166.8,90.4 165.3,92.3 164.9,94.2 164.4,94.8 162.9,95.9 162.3,96.6 162.2,98.1 163.2,99.4 164.6,97.8 166.3,96.7 167.7,94.8 167.6,93.6 168.7,92.2 170.1,91.2 170.9,89.6 171.8,90.1 173.2,90.1 175.5,89.5 175.0,88.3 174.1,87.7 173.7,88.0 171.9,88.0 171.1,88.6 169.5,87.6Z" fill="#a3d4e6" fill-opacity="0.75" stroke="#a3d4e6" stroke-width="0.6" stroke-linejoin="round"/>
<path d="M187.5,92.8 187.6,91.5 187.1,90.2 187.1,87.6 186.4,87.3 187.0,87.1 186.2,86.1 185.3,85.7 183.6,85.4 182.1,85.8 180.5,85.7 177.5,86.0 174.7,87.0 173.7,88.0 171.8,88.0 171.4,88.5 171.0,89.3 170.9,89.7 171.8,90.1 173.2,90.1 178.2,88.5 182.3,88.4 183.8,88.0 184.5,88.2 184.4,90.3 185.1,92.2 186.7,92.4Z" fill="#a3d4e6" fill-opacity="0.75" stroke="#a3d4e6" stroke-width="0.6" stroke-linejoin="round"/>
<path d="M190.7,91.8 187.4,89.9 185.3,89.7 184.5,89.9 184.7,91.3 185.2,92.3 186.7,92.4 188.7,93.8 191.8,95.0 192.2,94.9 192.9,93.1 193.6,92.5 194.6,92.5 196.8,93.8 199.1,94.2 199.2,93.1 198.7,92.1 197.3,91.0 195.4,90.0 192.8,90.0 191.9,90.5Z" fill="#a3d4e6" fill-opacity="0.75" stroke="#a3d4e6" stroke-width="0.6" stroke-linejoin="round"/>
<path d="M208.0,105.3 209.5,104.7 210.1,103.4 208.8,100.9 206.2,96.9 205.8,95.4 205.5,95.2 205.0,96.8 204.3,96.4 204.0,96.8 205.9,100.7 207.6,103.2ZM205.4,93.0 204.8,92.1 204.1,91.6 201.7,91.2 199.6,91.8 196.6,91.2 195.5,91.7 194.8,92.6 196.8,93.8 199.5,94.4 201.7,93.8 204.0,94.2 205.1,93.8Z" fill="#3b76b0" fill-opacity="0.75" stroke="#3b76b0" stroke-width="0.6" stroke-linejoin="round"/>
<path d="M215.8,114.9 216.2,113.9 216.2,111.7 214.3,112.1 213.6,109.5 212.4,108.2 210.4,104.6 210.3,103.6 208.9,101.0 207.7,100.7 206.6,101.1 206.4,101.3 207.6,103.2 208.0,105.6 210.2,109.6 211.7,111.3 213.7,112.6 213.7,113.8 214.2,113.9 215.4,114.9Z" fill="#3b76b0" fill-opacity="0.75" stroke="#3b76b0" stroke-width="0.6" stroke-linejoin="round"/>
<path d="M210.8,128.9 212.4,129.4 213.6,128.9 215.3,126.7 217.8,124.5 220.4,121.2 222.2,118.1 223.5,115.1 223.3,112.6 222.4,111.4 220.9,111.0 216.2,112.2 215.8,111.8 214.3,112.1 214.1,111.3 213.3,111.4 212.5,111.8 213.7,112.6 213.7,113.8 214.2,113.9 215.5,115.0 220.8,113.7 220.9,114.6 218.1,119.9 215.8,122.9 213.3,124.9Z" fill="#a3d4e6" fill-opacity="0.75" stroke="#a3d4e6" stroke-width="0.6" stroke-linejoin="round"/>
<path d="M213.0,130.3 214.3,128.1 214.5,127.2 214.1,125.9 213.2,125.0 210.3,129.6 210.4,133.7 211.2,135.7 211.3,137.9 212.1,137.8 212.9,137.4 213.7,136.1 213.7,135.0 212.9,133.1Z" fill="#a3d4e6" fill-opacity="0.75" stroke="#a3d4e6" stroke-width="0.6" stroke-linejoin="round"/>
<path d="M188.4,156.7 189.1,160.4 189.6,161.2 190.3,161.7 192.6,162.3 195.0,161.7 197.9,161.4 200.7,160.0 203.9,156.6 205.7,154.2 206.3,152.5 206.2,151.4 205.6,150.4 204.6,149.8 203.6,151.0 203.7,152.0 203.4,153.0 202.0,154.9 199.1,157.9 197.2,158.9 194.6,159.1 192.5,159.7 191.5,159.4 191.0,156.1 189.0,151.6 188.0,152.3 187.5,153.5 187.5,154.4Z" fill="#67adc9" fill-opacity="0.75" stroke="#67adc9" stroke-width="0.6" stroke-linejoin="round"/>
<path d="M183.8,142.7 186.0,148.6 186.5,152.4 187.8,155.0 188.4,155.7 189.3,156.0 190.8,155.8 189.0,151.7 188.6,148.0 186.3,142.1 186.8,140.0 186.6,139.9 185.7,139.9 184.8,140.2 184.2,140.8 183.8,141.6Z" fill="#67adc9" fill-opacity="0.75" stroke="#67adc9" stroke-width="0.6" stroke-linejoin="round"/>
<path d="M207.9,81.7 206.1,81.5 205.2,80.9 204.2,80.7 198.3,82.0 197.8,82.5 198.5,83.7 197.5,84.1 196.9,83.8 195.6,83.8 195.0,84.5 195.1,85.8 196.6,89.3 197.6,90.1 200.2,91.0 201.6,90.8 202.6,91.1 204.1,91.1 205.3,90.6 206.1,90.7 206.0,88.2 204.5,87.9 203.8,88.5 202.9,88.5 201.3,87.8 200.5,88.4 198.7,87.8 197.7,85.2 198.3,84.9 199.5,84.9 200.1,84.2 201.4,84.1 204.2,83.3 205.2,84.0 208.3,84.3 209.7,83.6 209.5,82.3 208.3,81.5ZM203.8,89.9 204.0,89.9 203.9,90.0Z" fill="#67adc9" fill-opacity="0.75" stroke="#67adc9" stroke-width="0.6" stroke-linejoin="round"/>
<path d="M207.8,104.6 210.9,109.0 211.2,110.8 213.7,112.6 213.7,113.8 214.5,113.8 215.3,113.4 215.9,112.7 216.1,111.7 214.3,112.1 213.3,107.9 210.1,103.4 208.8,100.9 206.2,96.9 205.8,95.4 205.5,95.2 205.0,96.8 204.3,96.4 204.0,96.8 205.9,100.7 207.6,103.2ZM205.2,93.3 204.4,93.6 203.7,94.2 205.0,93.9Z" fill="#27388a" fill-opacity="0.75" stroke="#27388a" stroke-width="0.6" stroke-linejoin="round"/>
<path d="M215.0,114.6 218.7,113.6 223.0,110.6 225.7,109.5 227.2,108.1 228.4,105.7 229.8,103.7 230.1,102.8 229.7,101.2 228.0,99.6 227.6,99.4 226.1,99.2 225.3,98.3 224.3,97.7 223.2,98.2 222.2,97.7 222.1,99.1 222.9,101.1 223.2,101.0 224.3,99.3 224.9,100.7 226.4,101.7 227.4,102.6 226.1,104.4 225.3,106.4 224.3,107.3 221.7,108.3 217.5,111.3 215.4,112.0 214.3,112.1 213.6,109.3 212.3,109.9 211.6,111.2 213.7,112.6 213.7,113.8 214.2,113.9Z" fill="#27388a" fill-opacity="0.75" stroke="#27388a" stroke-width="0.6" stroke-linejoin="round"/>
<path d="M225.5,101.1 226.5,99.3 226.1,99.2 225.3,98.3 224.2,97.7 223.2,98.2 222.2,97.7 222.1,97.9 218.7,95.3 217.2,94.7 216.9,94.9 216.6,95.9 219.5,100.2 219.7,100.3 220.0,100.1 220.0,100.6 220.7,101.3 223.1,101.1 224.3,99.3 224.9,100.8Z" fill="#27388a" fill-opacity="0.75" stroke="#27388a" stroke-width="0.6" stroke-linejoin="round"/>
<path d="M218.2,98.3 219.9,99.6 222.7,100.8 223.4,100.8 224.3,99.3 224.9,100.7 226.7,101.9 232.4,102.1 233.8,103.2 234.7,103.5 235.6,103.5 236.4,103.0 235.2,101.0 234.0,100.0 233.0,99.6 226.1,99.2 225.3,98.3 224.3,97.8 223.2,98.2 221.1,97.3 218.6,95.3 217.1,94.7 216.5,95.8Z" fill="#a3d4e6" fill-opacity="0.75" stroke="#a3d4e6" stroke-width="0.6" stroke-linejoin="round"/>
<path d="M245.5,115.1 245.3,117.7 246.2,119.8 247.3,120.4 249.1,119.9 249.6,118.9 249.6,117.0 249.3,116.2 247.7,114.3 247.2,114.0 246.1,114.2Z" fill="#b03a35" fill-opacity="0.75" stroke="#b03a35" stroke-width="0.6" stroke-linejoin="round"/>
<path d="M251.3,104.1 252.4,105.2 254.4,105.3 256.1,107.6 256.6,109.2 257.7,110.6 258.6,111.2 259.9,111.3 260.8,113.5 260.8,115.7 261.4,116.7 262.4,117.3 263.7,117.3 263.3,116.9 263.4,114.7 263.6,116.2 264.2,117.1 264.7,116.7 265.2,116.0 265.4,115.1 265.4,112.9 265.0,111.6 264.5,111.3 263.8,111.6 263.4,114.4 263.4,113.0 262.1,109.9 260.7,108.3 259.5,108.7 258.9,107.9 258.4,106.4 255.5,102.0 255.1,102.0 254.5,102.7 253.2,102.7 251.5,103.3Z" fill="#a3d4e6" fill-opacity="0.75" stroke="#a3d4e6" stroke-width="0.6" stroke-linejoin="round"/>
<path d="M260.7,117.0 261.0,118.3 262.6,119.8 262.9,121.0 263.4,121.6 265.3,123.3 266.8,124.1 268.3,126.1 269.2,125.9 269.9,125.3 270.4,124.3 270.4,123.4 269.9,120.4 269.1,118.8 270.1,118.3 272.5,116.3 274.2,114.4 274.6,113.4 274.6,111.2 273.8,109.1 272.7,107.5 270.9,105.8 271.5,105.8 271.7,105.4 272.3,105.3 272.5,105.6 273.2,105.1 273.8,104.2 273.8,103.0 272.0,103.8 271.6,103.3 270.2,103.1 268.9,103.9 268.1,106.0 269.0,107.7 270.8,109.3 271.5,110.2 272.0,111.6 272.1,113.0 270.8,114.3 269.0,115.9 268.9,115.4 267.2,113.9 266.6,112.7 265.7,112.3 264.5,111.3 263.8,111.7 263.4,114.4 263.4,113.0 262.3,110.3 261.8,111.3 261.6,113.3 260.8,114.6ZM263.5,116.1 264.9,118.1 266.2,118.8 267.4,121.2 267.7,123.0 266.1,121.9 265.3,120.0 264.9,118.4 263.3,116.9 263.4,114.7Z" fill="#a3d4e6" fill-opacity="0.75" stroke="#a3d4e6" stroke-width="0.6" stroke-linejoin="round"/>
<path d="M259.6,124.2 261.9,125.9 263.5,129.2 265.0,131.0 266.6,132.3 266.8,133.1 267.4,133.9 269.4,135.0 273.6,136.0 280.9,136.9 283.0,136.7 284.1,137.8 284.9,138.0 285.9,137.9 289.9,135.9 291.0,134.8 291.2,133.8 291.1,132.8 290.7,132.0 289.7,131.2 291.6,131.5 292.7,131.3 293.6,131.7 294.6,131.7 295.8,132.3 295.8,133.7 296.4,134.9 297.2,135.5 300.1,136.7 301.6,136.7 302.0,135.8 302.2,136.5 303.0,135.7 303.4,134.7 303.4,133.5 302.2,134.3 300.9,134.2 299.2,133.3 298.3,133.1 298.8,131.6 298.0,130.4 295.0,129.0 294.1,129.1 293.3,127.8 294.6,127.6 294.7,127.4 293.1,127.3 292.4,126.6 292.6,125.8 295.1,126.6 295.5,127.6 296.6,128.4 298.2,126.9 301.3,127.7 303.6,128.8 303.8,127.1 302.8,125.6 301.9,125.2 298.6,124.3 297.8,124.3 296.8,124.7 295.9,124.1 292.6,123.2 291.6,121.1 290.1,120.2 288.6,120.4 287.6,121.2 286.5,121.2 284.3,121.9 283.7,121.8 284.3,120.4 284.0,118.9 283.0,117.3 280.8,115.7 279.8,116.7 280.3,115.6 279.3,115.5 278.2,115.9 274.7,119.9 271.6,121.0 270.5,122.3 270.2,123.6 268.8,122.0 267.8,121.4 268.2,123.8 265.9,122.1 265.0,120.1 264.7,118.6 263.5,117.5 260.7,116.9 259.5,117.1 258.3,118.0 257.9,119.5 258.2,121.5ZM287.7,130.9 287.7,130.4 288.7,131.0 287.9,130.9Z" fill="#67adc9" fill-opacity="0.75" stroke="#67adc9" stroke-width="0.6" stroke-linejoin="round"/>
<path d="M260.5,119.5 261.4,119.7 262.4,119.9 263.6,121.4 264.5,122.2 265.5,123.1 266.2,123.5 267.0,123.9 268.1,125.1 268.7,126.1 269.8,127.4 270.1,128.6 269.9,129.8 269.8,131.0 268.7,130.6 267.7,129.9 266.8,129.1 265.6,127.6 265.0,126.1 264.4,125.1 263.8,124.1 262.7,123.3 261.6,122.6 261.2,121.6 260.7,120.6ZM270.0,131.0 270.8,131.1 271.6,131.1 272.5,131.4 273.4,131.7 274.4,131.9 275.2,132.0 276.0,132.0 276.7,132.4 277.4,132.7 277.2,133.8 276.2,133.7 275.2,133.6 274.3,133.5 273.2,133.2 272.1,132.9 271.2,132.7 270.2,132.5 269.2,132.0ZM279.7,118.1 281.1,119.1 281.8,120.1 280.7,121.1 280.8,122.1 280.8,123.1 281.7,124.1 280.7,125.1 280.0,126.1 279.4,127.6 279.2,128.5 278.9,129.3 277.7,128.9 277.2,128.4 276.1,128.3 275.0,128.1 273.8,128.1 273.2,126.6 272.9,125.1 272.8,123.6 273.2,123.1 274.1,122.8 275.0,122.6 276.3,122.1 277.0,121.3 277.6,120.5 278.4,120.1 278.9,119.1 279.5,118.2ZM287.1,123.7 286.2,124.1 285.3,124.3 284.4,124.6 283.1,124.3 282.6,125.1 283.1,126.1 283.0,127.6 281.6,128.6 281.8,129.7 281.9,130.7 282.8,130.4 283.4,129.6 283.4,128.1 283.8,129.0 284.2,129.9 285.1,130.4 285.2,129.3 284.6,128.1 284.0,126.6 284.7,126.4 285.5,126.1 285.6,125.6 284.7,125.7 283.8,125.8 284.8,125.3 285.7,124.7 286.6,124.1ZM277.8,133.2 279.1,133.9 280.2,133.7 281.4,133.5 282.2,133.7 283.1,133.8 284.0,133.6 284.9,133.4 284.7,133.9 283.5,134.1 282.3,134.2 281.1,134.3 280.2,134.2 279.2,134.1 278.2,134.0ZM286.7,133.4 287.7,133.5 288.6,133.6 287.6,134.1 286.6,134.5 285.2,135.4 285.7,134.7ZM289.6,122.8 290.0,123.7 290.4,124.6 289.9,125.9 289.4,124.7 289.3,123.6ZM289.7,127.9 290.9,128.0 292.2,128.1 291.7,128.9 290.7,128.8 289.7,128.6Z" fill="none" stroke="#50869c" stroke-opacity="0.7" stroke-width="0.9" stroke-linejoin="round"/>
<path d="M282.2,103.5 281.2,105.5 281.0,109.1 281.0,113.1 280.0,116.6 282.9,119.1 286.1,120.6 288.7,120.1 288.9,116.1 287.5,112.3 284.4,106.1Z" fill="#eba668" fill-opacity="0.75" stroke="#eba668" stroke-width="0.6" stroke-linejoin="round"/></g>
<text x="448.5" y="300.6" class="lb">Ocean</text>
<g transform="translate(588.05,151.96) scale(0.659)"><use href="#base"/>
<path d="M122.2,115.5 121.7,114.2 120.1,113.1 117.8,112.5 116.5,112.5 114.0,112.8 111.9,113.6 110.7,114.8 110.5,115.5 110.6,116.1 111.7,117.4 113.7,118.2 116.2,118.5 117.5,118.4 119.9,117.8 121.6,116.8Z" fill="#a3d4e6" fill-opacity="0.35" stroke="#a3d4e6" stroke-width="1.6" stroke-linejoin="round"/>
<path d="M101.3,127.6 102.6,130.3 103.8,130.9 103.6,129.9 104.4,128.7 104.7,127.6 103.9,127.1 103.9,126.2 104.5,124.8 106.2,122.4 105.9,122.1 104.8,121.8 103.9,121.9 103.2,122.4 102.2,123.5 101.3,126.0Z" fill="#e07a50" fill-opacity="0.75" stroke="#e07a50" stroke-width="0.6" stroke-linejoin="round"/>
<path d="M103.9,126.3 102.5,126.9 101.1,129.1 101.0,130.1 101.6,132.3 102.9,133.6 106.2,139.7 107.9,142.3 112.8,145.6 113.6,145.9 114.5,145.9 114.2,143.5 109.7,140.4 108.4,138.5 104.9,132.0 103.9,131.0 103.6,129.9 104.4,128.7 104.7,127.6 103.9,127.1Z" fill="#e07a50" fill-opacity="0.75" stroke="#e07a50" stroke-width="0.6" stroke-linejoin="round"/>
<path d="M127.0,178.6 123.5,177.6 124.0,178.4 126.2,179.7 125.7,179.9 125.6,180.3 122.5,179.5 120.4,178.2 118.8,176.8 117.5,174.9 116.0,171.1 116.1,169.1 115.0,162.0 115.3,158.2 114.8,155.2 114.5,145.6 114.2,143.5 112.3,142.1 111.8,142.9 111.6,143.8 112.1,148.9 112.2,155.2 112.7,158.3 112.4,162.1 113.5,169.3 113.5,171.9 115.4,176.4 116.9,178.5 118.8,180.1 121.6,181.9 125.5,182.9 126.8,182.8 127.6,182.3 128.1,181.6 128.2,180.7 128.1,179.8Z" fill="#67adc9" fill-opacity="0.75" stroke="#67adc9" stroke-width="0.6" stroke-linejoin="round"/>
<path d="M169.0,87.7 168.1,89.5 166.8,90.4 165.3,92.3 164.9,94.2 164.4,94.8 162.9,95.9 162.3,96.6 162.2,98.1 163.2,99.4 164.6,97.8 166.3,96.7 167.7,94.8 167.6,93.6 168.7,92.2 170.1,91.2 170.9,89.6 171.8,90.1 173.2,90.1 175.5,89.5 175.0,88.3 174.1,87.7 173.7,88.0 171.9,88.0 171.1,88.6 169.5,87.6Z" fill="#eba668" fill-opacity="0.75" stroke="#eba668" stroke-width="0.6" stroke-linejoin="round"/>
<path d="M187.5,92.8 187.6,91.5 187.1,90.2 187.1,87.6 186.4,87.3 187.0,87.1 186.2,86.1 185.3,85.7 183.6,85.4 182.1,85.8 180.5,85.7 177.5,86.0 174.7,87.0 173.7,88.0 171.8,88.0 171.4,88.5 171.0,89.3 170.9,89.7 171.8,90.1 173.2,90.1 178.2,88.5 182.3,88.4 183.8,88.0 184.5,88.2 184.4,90.3 185.1,92.2 186.7,92.4Z" fill="#eba668" fill-opacity="0.75" stroke="#eba668" stroke-width="0.6" stroke-linejoin="round"/>
<path d="M159.3,112.6 159.7,113.0 159.9,114.1 161.2,116.0 162.3,116.4 163.6,115.9 160.8,112.6 160.2,110.4 161.1,109.1 161.0,108.6 159.7,108.6 158.7,109.6 158.6,110.6ZM179.4,120.4 180.3,119.7 180.0,119.3 178.7,118.7 177.4,118.9 173.9,120.3 171.6,120.1 172.1,121.3 173.3,121.9 176.7,121.2 177.5,120.6Z" fill="#b03a35" fill-opacity="0.75" stroke="#b03a35" stroke-width="0.6" stroke-linejoin="round"/>
<path d="M208.0,105.3 209.5,104.7 210.1,103.4 208.8,100.9 206.2,96.9 205.8,95.4 205.5,95.2 205.0,96.8 204.3,96.4 204.0,96.8 205.9,100.7 207.6,103.2ZM205.4,93.0 204.8,92.1 204.1,91.6 201.7,91.2 199.6,91.8 196.6,91.2 195.5,91.7 194.8,92.6 196.8,93.8 199.5,94.4 201.7,93.8 204.0,94.2 205.1,93.8Z" fill="#d6453a" fill-opacity="0.75" stroke="#d6453a" stroke-width="0.6" stroke-linejoin="round"/>
<path d="M215.8,114.9 216.2,113.9 216.2,111.7 214.3,112.1 213.6,109.5 212.4,108.2 210.4,104.6 210.3,103.6 208.9,101.0 207.7,100.7 206.6,101.1 206.4,101.3 207.6,103.2 208.0,105.6 210.2,109.6 211.7,111.3 213.7,112.6 213.7,113.8 214.2,113.9 215.4,114.9Z" fill="#d6453a" fill-opacity="0.75" stroke="#d6453a" stroke-width="0.6" stroke-linejoin="round"/>
<path d="M210.8,128.9 212.4,129.4 213.6,128.9 215.3,126.7 217.8,124.5 220.4,121.2 222.2,118.1 223.5,115.1 223.3,112.6 222.4,111.4 220.9,111.0 216.2,112.2 215.8,111.8 214.3,112.1 214.1,111.3 213.3,111.4 212.5,111.8 213.7,112.6 213.7,113.8 214.2,113.9 215.5,115.0 220.8,113.7 220.9,114.6 218.1,119.9 215.8,122.9 213.3,124.9Z" fill="#d6453a" fill-opacity="0.75" stroke="#d6453a" stroke-width="0.6" stroke-linejoin="round"/>
<path d="M213.0,130.3 214.3,128.1 214.5,127.2 214.1,125.9 213.2,125.0 210.3,129.6 210.4,133.7 211.2,135.7 211.3,137.9 212.1,137.8 212.9,137.4 213.7,136.1 213.7,135.0 212.9,133.1Z" fill="#d6453a" fill-opacity="0.75" stroke="#d6453a" stroke-width="0.6" stroke-linejoin="round"/>
<path d="M202.8,154.0 203.6,154.3 204.5,154.3 205.8,153.5 206.3,152.8 206.3,151.9 208.1,150.8 208.7,149.8 208.6,146.0 211.6,143.7 213.6,141.2 213.9,140.2 213.8,135.3 213.3,134.2 212.5,133.5 211.4,133.3 210.4,133.6 211.2,135.7 211.3,140.0 209.8,141.9 206.0,144.8 206.2,148.9 204.5,149.9 203.6,150.9 203.7,152.0Z" fill="#b03a35" fill-opacity="0.75" stroke="#b03a35" stroke-width="0.6" stroke-linejoin="round"/>
<path d="M188.4,156.7 189.1,160.4 189.6,161.2 190.3,161.7 192.6,162.3 195.0,161.7 197.9,161.4 200.7,160.0 203.9,156.6 205.7,154.2 206.3,152.5 206.2,151.4 205.6,150.4 204.6,149.8 203.6,151.0 203.7,152.0 203.4,153.0 202.0,154.9 199.1,157.9 197.2,158.9 194.6,159.1 192.5,159.7 191.5,159.4 191.0,156.1 189.0,151.6 188.0,152.3 187.5,153.5 187.5,154.4Z" fill="#b03a35" fill-opacity="0.75" stroke="#b03a35" stroke-width="0.6" stroke-linejoin="round"/>
<path d="M183.8,142.7 186.0,148.6 186.5,152.4 187.8,155.0 188.4,155.7 189.3,156.0 190.8,155.8 189.0,151.7 188.6,148.0 186.3,142.1 186.8,140.0 186.6,139.9 185.7,139.9 184.8,140.2 184.2,140.8 183.8,141.6Z" fill="#d6453a" fill-opacity="0.75" stroke="#d6453a" stroke-width="0.6" stroke-linejoin="round"/>
<path d="M207.9,81.7 206.1,81.5 205.2,80.9 204.2,80.7 198.3,82.0 197.8,82.5 198.5,83.7 197.5,84.1 196.9,83.8 195.6,83.8 195.0,84.5 195.1,85.8 196.6,89.3 197.6,90.1 200.2,91.0 201.6,90.8 202.6,91.1 204.1,91.1 205.3,90.6 206.1,90.7 206.0,88.2 204.5,87.9 203.8,88.5 202.9,88.5 201.3,87.8 200.5,88.4 198.7,87.8 197.7,85.2 198.3,84.9 199.5,84.9 200.1,84.2 201.4,84.1 204.2,83.3 205.2,84.0 208.3,84.3 209.7,83.6 209.5,82.3 208.3,81.5ZM203.8,89.9 204.0,89.9 203.9,90.0Z" fill="#a3d4e6" fill-opacity="0.75" stroke="#a3d4e6" stroke-width="0.6" stroke-linejoin="round"/>
<path d="M207.8,104.6 210.9,109.0 211.2,110.8 213.7,112.6 213.7,113.8 214.5,113.8 215.3,113.4 215.9,112.7 216.1,111.7 214.3,112.1 213.3,107.9 210.1,103.4 208.8,100.9 206.2,96.9 205.8,95.4 205.5,95.2 205.0,96.8 204.3,96.4 204.0,96.8 205.9,100.7 207.6,103.2ZM205.2,93.3 204.4,93.6 203.7,94.2 205.0,93.9Z" fill="#d6453a" fill-opacity="0.75" stroke="#d6453a" stroke-width="0.6" stroke-linejoin="round"/>
<path d="M215.0,114.6 218.7,113.6 223.0,110.6 225.7,109.5 227.2,108.1 228.4,105.7 229.8,103.7 230.1,102.8 229.7,101.2 228.0,99.6 227.6,99.4 226.1,99.2 225.3,98.3 224.3,97.7 223.2,98.2 222.2,97.7 222.1,99.1 222.9,101.1 223.2,101.0 224.3,99.3 224.9,100.7 226.4,101.7 227.4,102.6 226.1,104.4 225.3,106.4 224.3,107.3 221.7,108.3 217.5,111.3 215.4,112.0 214.3,112.1 213.6,109.3 212.3,109.9 211.6,111.2 213.7,112.6 213.7,113.8 214.2,113.9Z" fill="#d6453a" fill-opacity="0.75" stroke="#d6453a" stroke-width="0.6" stroke-linejoin="round"/>
<path d="M225.5,101.1 226.5,99.3 226.1,99.2 225.3,98.3 224.2,97.7 223.2,98.2 222.2,97.7 222.1,97.9 218.7,95.3 217.2,94.7 216.9,94.9 216.6,95.9 219.5,100.2 219.7,100.3 220.0,100.1 220.0,100.6 220.7,101.3 223.1,101.1 224.3,99.3 224.9,100.8Z" fill="#d6453a" fill-opacity="0.75" stroke="#d6453a" stroke-width="0.6" stroke-linejoin="round"/>
<path d="M218.2,98.3 219.9,99.6 222.7,100.8 223.4,100.8 224.3,99.3 224.9,100.7 226.7,101.9 232.4,102.1 233.8,103.2 234.7,103.5 235.6,103.5 236.4,103.0 235.2,101.0 234.0,100.0 233.0,99.6 226.1,99.2 225.3,98.3 224.3,97.8 223.2,98.2 221.1,97.3 218.6,95.3 217.1,94.7 216.5,95.8Z" fill="#d6453a" fill-opacity="0.75" stroke="#d6453a" stroke-width="0.6" stroke-linejoin="round"/>
<path d="M251.3,104.1 252.4,105.2 254.4,105.3 256.1,107.6 256.6,109.2 257.7,110.6 258.6,111.2 259.9,111.3 260.8,113.5 260.8,115.7 261.4,116.7 262.4,117.3 263.7,117.3 263.3,116.9 263.4,114.7 263.6,116.2 264.2,117.1 264.7,116.7 265.2,116.0 265.4,115.1 265.4,112.9 265.0,111.6 264.5,111.3 263.8,111.6 263.4,114.4 263.4,113.0 262.1,109.9 260.7,108.3 259.5,108.7 258.9,107.9 258.4,106.4 255.5,102.0 255.1,102.0 254.5,102.7 253.2,102.7 251.5,103.3Z" fill="#a3d4e6" fill-opacity="0.75" stroke="#a3d4e6" stroke-width="0.6" stroke-linejoin="round"/>
<path d="M260.7,117.0 261.0,118.3 262.6,119.8 262.9,121.0 263.4,121.6 265.3,123.3 266.8,124.1 268.3,126.1 269.2,125.9 269.9,125.3 270.4,124.3 270.4,123.4 269.9,120.4 269.1,118.8 270.1,118.3 272.5,116.3 274.2,114.4 274.6,113.4 274.6,111.2 273.8,109.1 272.7,107.5 270.9,105.8 271.5,105.8 271.7,105.4 272.3,105.3 272.5,105.6 273.2,105.1 273.8,104.2 273.8,103.0 272.0,103.8 271.6,103.3 270.2,103.1 268.9,103.9 268.1,106.0 269.0,107.7 270.8,109.3 271.5,110.2 272.0,111.6 272.1,113.0 270.8,114.3 269.0,115.9 268.9,115.4 267.2,113.9 266.6,112.7 265.7,112.3 264.5,111.3 263.8,111.7 263.4,114.4 263.4,113.0 262.3,110.3 261.8,111.3 261.6,113.3 260.8,114.6ZM263.5,116.1 264.9,118.1 266.2,118.8 267.4,121.2 267.7,123.0 266.1,121.9 265.3,120.0 264.9,118.4 263.3,116.9 263.4,114.7Z" fill="#a3d4e6" fill-opacity="0.75" stroke="#a3d4e6" stroke-width="0.6" stroke-linejoin="round"/>
<path d="M259.6,124.2 261.9,125.9 263.5,129.2 265.0,131.0 266.6,132.3 266.8,133.1 267.4,133.9 269.4,135.0 273.6,136.0 280.9,136.9 283.0,136.7 284.1,137.8 284.9,138.0 285.9,137.9 289.9,135.9 291.0,134.8 291.2,133.8 291.1,132.8 290.7,132.0 289.7,131.2 291.6,131.5 292.7,131.3 293.6,131.7 294.6,131.7 295.8,132.3 295.8,133.7 296.4,134.9 297.2,135.5 300.1,136.7 301.6,136.7 302.0,135.8 302.2,136.5 303.0,135.7 303.4,134.7 303.4,133.5 302.2,134.3 300.9,134.2 299.2,133.3 298.3,133.1 298.8,131.6 298.0,130.4 295.0,129.0 294.1,129.1 293.3,127.8 294.6,127.6 294.7,127.4 293.1,127.3 292.4,126.6 292.6,125.8 295.1,126.6 295.5,127.6 296.6,128.4 298.2,126.9 301.3,127.7 303.6,128.8 303.8,127.1 302.8,125.6 301.9,125.2 298.6,124.3 297.8,124.3 296.8,124.7 295.9,124.1 292.6,123.2 291.6,121.1 290.1,120.2 288.6,120.4 287.6,121.2 286.5,121.2 284.3,121.9 283.7,121.8 284.3,120.4 284.0,118.9 283.0,117.3 280.8,115.7 279.8,116.7 280.3,115.6 279.3,115.5 278.2,115.9 274.7,119.9 271.6,121.0 270.5,122.3 270.2,123.6 268.8,122.0 267.8,121.4 268.2,123.8 265.9,122.1 265.0,120.1 264.7,118.6 263.5,117.5 260.7,116.9 259.5,117.1 258.3,118.0 257.9,119.5 258.2,121.5ZM287.7,130.9 287.7,130.4 288.7,131.0 287.9,130.9Z" fill="#eba668" fill-opacity="0.75" stroke="#eba668" stroke-width="0.6" stroke-linejoin="round"/>
<path d="M260.5,119.5 261.4,119.7 262.4,119.9 263.6,121.4 264.5,122.2 265.5,123.1 266.2,123.5 267.0,123.9 268.1,125.1 268.7,126.1 269.8,127.4 270.1,128.6 269.9,129.8 269.8,131.0 268.7,130.6 267.7,129.9 266.8,129.1 265.6,127.6 265.0,126.1 264.4,125.1 263.8,124.1 262.7,123.3 261.6,122.6 261.2,121.6 260.7,120.6ZM270.0,131.0 270.8,131.1 271.6,131.1 272.5,131.4 273.4,131.7 274.4,131.9 275.2,132.0 276.0,132.0 276.7,132.4 277.4,132.7 277.2,133.8 276.2,133.7 275.2,133.6 274.3,133.5 273.2,133.2 272.1,132.9 271.2,132.7 270.2,132.5 269.2,132.0ZM279.7,118.1 281.1,119.1 281.8,120.1 280.7,121.1 280.8,122.1 280.8,123.1 281.7,124.1 280.7,125.1 280.0,126.1 279.4,127.6 279.2,128.5 278.9,129.3 277.7,128.9 277.2,128.4 276.1,128.3 275.0,128.1 273.8,128.1 273.2,126.6 272.9,125.1 272.8,123.6 273.2,123.1 274.1,122.8 275.0,122.6 276.3,122.1 277.0,121.3 277.6,120.5 278.4,120.1 278.9,119.1 279.5,118.2ZM287.1,123.7 286.2,124.1 285.3,124.3 284.4,124.6 283.1,124.3 282.6,125.1 283.1,126.1 283.0,127.6 281.6,128.6 281.8,129.7 281.9,130.7 282.8,130.4 283.4,129.6 283.4,128.1 283.8,129.0 284.2,129.9 285.1,130.4 285.2,129.3 284.6,128.1 284.0,126.6 284.7,126.4 285.5,126.1 285.6,125.6 284.7,125.7 283.8,125.8 284.8,125.3 285.7,124.7 286.6,124.1ZM277.8,133.2 279.1,133.9 280.2,133.7 281.4,133.5 282.2,133.7 283.1,133.8 284.0,133.6 284.9,133.4 284.7,133.9 283.5,134.1 282.3,134.2 281.1,134.3 280.2,134.2 279.2,134.1 278.2,134.0ZM286.7,133.4 287.7,133.5 288.6,133.6 287.6,134.1 286.6,134.5 285.2,135.4 285.7,134.7ZM289.6,122.8 290.0,123.7 290.4,124.6 289.9,125.9 289.4,124.7 289.3,123.6ZM289.7,127.9 290.9,128.0 292.2,128.1 291.7,128.9 290.7,128.8 289.7,128.6Z" fill="none" stroke="#b78151" stroke-opacity="0.7" stroke-width="0.9" stroke-linejoin="round"/>
<path d="M282.2,103.5 281.2,105.5 281.0,109.1 281.0,113.1 280.0,116.6 282.9,119.1 286.1,120.6 288.7,120.1 288.9,116.1 287.5,112.3 284.4,106.1Z" fill="#eba668" fill-opacity="0.75" stroke="#eba668" stroke-width="0.6" stroke-linejoin="round"/></g>
<text x="676.9" y="300.5" class="lb">Freshwater</text>
<g transform="translate(106.65,284.21) scale(0.659)"><use href="#base"/>
<path d="M122.2,115.5 121.7,114.2 120.1,113.1 117.8,112.5 116.5,112.5 114.0,112.8 111.9,113.6 110.7,114.8 110.5,115.5 110.6,116.1 111.7,117.4 113.7,118.2 116.2,118.5 117.5,118.4 119.9,117.8 121.6,116.8Z" fill="#eba668" fill-opacity="0.35" stroke="#eba668" stroke-width="1.6" stroke-linejoin="round"/>
<path d="M101.3,127.6 102.6,130.3 103.8,130.9 103.6,129.9 104.4,128.7 104.7,127.6 103.9,127.1 103.9,126.2 104.5,124.8 106.2,122.4 105.9,122.1 104.8,121.8 103.9,121.9 103.2,122.4 102.2,123.5 101.3,126.0Z" fill="#d6453a" fill-opacity="0.75" stroke="#d6453a" stroke-width="0.6" stroke-linejoin="round"/>
<path d="M103.9,126.3 102.5,126.9 101.1,129.1 101.0,130.1 101.6,132.3 102.9,133.6 106.2,139.7 107.9,142.3 112.8,145.6 113.6,145.9 114.5,145.9 114.2,143.5 109.7,140.4 108.4,138.5 104.9,132.0 103.9,131.0 103.6,129.9 104.4,128.7 104.7,127.6 103.9,127.1Z" fill="#d6453a" fill-opacity="0.75" stroke="#d6453a" stroke-width="0.6" stroke-linejoin="round"/>
<path d="M127.0,178.6 123.5,177.6 124.0,178.4 126.2,179.7 125.7,179.9 125.6,180.3 122.5,179.5 120.4,178.2 118.8,176.8 117.5,174.9 116.0,171.1 116.1,169.1 115.0,162.0 115.3,158.2 114.8,155.2 114.5,145.6 114.2,143.5 112.3,142.1 111.8,142.9 111.6,143.8 112.1,148.9 112.2,155.2 112.7,158.3 112.4,162.1 113.5,169.3 113.5,171.9 115.4,176.4 116.9,178.5 118.8,180.1 121.6,181.9 125.5,182.9 126.8,182.8 127.6,182.3 128.1,181.6 128.2,180.7 128.1,179.8Z" fill="#eba668" fill-opacity="0.75" stroke="#eba668" stroke-width="0.6" stroke-linejoin="round"/>
<path d="M93.1,125.7 93.5,126.9 94.4,127.4 96.1,127.1 96.7,126.1 96.2,124.6 95.3,124.0 93.6,124.3 93.1,125.0Z" fill="#b03a35" fill-opacity="0.75" stroke="#b03a35" stroke-width="0.6" stroke-linejoin="round"/>
<path d="M169.0,87.7 168.1,89.5 166.8,90.4 165.3,92.3 164.9,94.2 164.4,94.8 162.9,95.9 162.3,96.6 162.2,98.1 163.2,99.4 164.6,97.8 166.3,96.7 167.7,94.8 167.6,93.6 168.7,92.2 170.1,91.2 170.9,89.6 171.8,90.1 173.2,90.1 175.5,89.5 175.0,88.3 174.1,87.7 173.7,88.0 171.9,88.0 171.1,88.6 169.5,87.6Z" fill="#eba668" fill-opacity="0.75" stroke="#eba668" stroke-width="0.6" stroke-linejoin="round"/>
<path d="M187.5,92.8 187.6,91.5 187.1,90.2 187.1,87.6 186.4,87.3 187.0,87.1 186.2,86.1 185.3,85.7 183.6,85.4 182.1,85.8 180.5,85.7 177.5,86.0 174.7,87.0 173.7,88.0 171.8,88.0 171.4,88.5 171.0,89.3 170.9,89.7 171.8,90.1 173.2,90.1 178.2,88.5 182.3,88.4 183.8,88.0 184.5,88.2 184.4,90.3 185.1,92.2 186.7,92.4Z" fill="#eba668" fill-opacity="0.75" stroke="#eba668" stroke-width="0.6" stroke-linejoin="round"/>
<path d="M208.0,105.3 209.5,104.7 210.1,103.4 208.8,100.9 206.2,96.9 205.8,95.4 205.5,95.2 205.0,96.8 204.3,96.4 204.0,96.8 205.9,100.7 207.6,103.2ZM205.4,93.0 204.8,92.1 204.1,91.6 201.7,91.2 199.6,91.8 196.6,91.2 195.5,91.7 194.8,92.6 196.8,93.8 199.5,94.4 201.7,93.8 204.0,94.2 205.1,93.8Z" fill="#eba668" fill-opacity="0.75" stroke="#eba668" stroke-width="0.6" stroke-linejoin="round"/>
<path d="M215.8,114.9 216.2,113.9 216.2,111.7 214.3,112.1 213.6,109.5 212.4,108.2 210.4,104.6 210.3,103.6 208.9,101.0 207.7,100.7 206.6,101.1 206.4,101.3 207.6,103.2 208.0,105.6 210.2,109.6 211.7,111.3 213.7,112.6 213.7,113.8 214.2,113.9 215.4,114.9Z" fill="#eba668" fill-opacity="0.75" stroke="#eba668" stroke-width="0.6" stroke-linejoin="round"/>
<path d="M210.8,128.9 212.4,129.4 213.6,128.9 215.3,126.7 217.8,124.5 220.4,121.2 222.2,118.1 223.5,115.1 223.3,112.6 222.4,111.4 220.9,111.0 216.2,112.2 215.8,111.8 214.3,112.1 214.1,111.3 213.3,111.4 212.5,111.8 213.7,112.6 213.7,113.8 214.2,113.9 215.5,115.0 220.8,113.7 220.9,114.6 218.1,119.9 215.8,122.9 213.3,124.9Z" fill="#eba668" fill-opacity="0.75" stroke="#eba668" stroke-width="0.6" stroke-linejoin="round"/>
<path d="M213.0,130.3 214.3,128.1 214.5,127.2 214.1,125.9 213.2,125.0 210.3,129.6 210.4,133.7 211.2,135.7 211.3,137.9 212.1,137.8 212.9,137.4 213.7,136.1 213.7,135.0 212.9,133.1Z" fill="#eba668" fill-opacity="0.75" stroke="#eba668" stroke-width="0.6" stroke-linejoin="round"/>
<path d="M202.8,154.0 203.6,154.3 204.5,154.3 205.8,153.5 206.3,152.8 206.3,151.9 208.1,150.8 208.7,149.8 208.6,146.0 211.6,143.7 213.6,141.2 213.9,140.2 213.8,135.3 213.3,134.2 212.5,133.5 211.4,133.3 210.4,133.6 211.2,135.7 211.3,140.0 209.8,141.9 206.0,144.8 206.2,148.9 204.5,149.9 203.6,150.9 203.7,152.0Z" fill="#d6453a" fill-opacity="0.75" stroke="#d6453a" stroke-width="0.6" stroke-linejoin="round"/>
<path d="M188.4,156.7 189.1,160.4 189.6,161.2 190.3,161.7 192.6,162.3 195.0,161.7 197.9,161.4 200.7,160.0 203.9,156.6 205.7,154.2 206.3,152.5 206.2,151.4 205.6,150.4 204.6,149.8 203.6,151.0 203.7,152.0 203.4,153.0 202.0,154.9 199.1,157.9 197.2,158.9 194.6,159.1 192.5,159.7 191.5,159.4 191.0,156.1 189.0,151.6 188.0,152.3 187.5,153.5 187.5,154.4Z" fill="#d6453a" fill-opacity="0.75" stroke="#d6453a" stroke-width="0.6" stroke-linejoin="round"/>
<path d="M183.8,142.7 186.0,148.6 186.5,152.4 187.8,155.0 188.4,155.7 189.3,156.0 190.8,155.8 189.0,151.7 188.6,148.0 186.3,142.1 186.8,140.0 186.6,139.9 185.7,139.9 184.8,140.2 184.2,140.8 183.8,141.6Z" fill="#67adc9" fill-opacity="0.75" stroke="#67adc9" stroke-width="0.6" stroke-linejoin="round"/>
<path d="M164.4,119.1 166.9,121.1 167.6,121.2 168.5,120.7 168.7,119.7 168.2,118.8 166.0,117.2 165.2,117.0 164.3,117.5 164.0,118.5Z" fill="#b03a35" fill-opacity="0.75" stroke="#b03a35" stroke-width="0.6" stroke-linejoin="round"/>
<path d="M207.9,81.7 206.1,81.5 205.2,80.9 204.2,80.7 198.3,82.0 197.8,82.5 198.5,83.7 197.5,84.1 196.9,83.8 195.6,83.8 195.0,84.5 195.1,85.8 196.6,89.3 197.6,90.1 200.2,91.0 201.6,90.8 202.6,91.1 204.1,91.1 205.3,90.6 206.1,90.7 206.0,88.2 204.5,87.9 203.8,88.5 202.9,88.5 201.3,87.8 200.5,88.4 198.7,87.8 197.7,85.2 198.3,84.9 199.5,84.9 200.1,84.2 201.4,84.1 204.2,83.3 205.2,84.0 208.3,84.3 209.7,83.6 209.5,82.3 208.3,81.5ZM203.8,89.9 204.0,89.9 203.9,90.0Z" fill="#d6453a" fill-opacity="0.75" stroke="#d6453a" stroke-width="0.6" stroke-linejoin="round"/>
<path d="M207.8,104.6 210.9,109.0 211.2,110.8 213.7,112.6 213.7,113.8 214.5,113.8 215.3,113.4 215.9,112.7 216.1,111.7 214.3,112.1 213.3,107.9 210.1,103.4 208.8,100.9 206.2,96.9 205.8,95.4 205.5,95.2 205.0,96.8 204.3,96.4 204.0,96.8 205.9,100.7 207.6,103.2ZM205.2,93.3 204.4,93.6 203.7,94.2 205.0,93.9Z" fill="#eba668" fill-opacity="0.75" stroke="#eba668" stroke-width="0.6" stroke-linejoin="round"/>
<path d="M215.0,114.6 218.7,113.6 223.0,110.6 225.7,109.5 227.2,108.1 228.4,105.7 229.8,103.7 230.1,102.8 229.7,101.2 228.0,99.6 227.6,99.4 226.1,99.2 225.3,98.3 224.3,97.7 223.2,98.2 222.2,97.7 222.1,99.1 222.9,101.1 223.2,101.0 224.3,99.3 224.9,100.7 226.4,101.7 227.4,102.6 226.1,104.4 225.3,106.4 224.3,107.3 221.7,108.3 217.5,111.3 215.4,112.0 214.3,112.1 213.6,109.3 212.3,109.9 211.6,111.2 213.7,112.6 213.7,113.8 214.2,113.9Z" fill="#eba668" fill-opacity="0.75" stroke="#eba668" stroke-width="0.6" stroke-linejoin="round"/>
<path d="M225.5,101.1 226.5,99.3 226.1,99.2 225.3,98.3 224.2,97.7 223.2,98.2 222.2,97.7 222.1,97.9 218.7,95.3 217.2,94.7 216.9,94.9 216.6,95.9 219.5,100.2 219.7,100.3 220.0,100.1 220.0,100.6 220.7,101.3 223.1,101.1 224.3,99.3 224.9,100.8Z" fill="#eba668" fill-opacity="0.75" stroke="#eba668" stroke-width="0.6" stroke-linejoin="round"/>
<path d="M218.2,98.3 219.9,99.6 222.7,100.8 223.4,100.8 224.3,99.3 224.9,100.7 226.7,101.9 232.4,102.1 233.8,103.2 234.7,103.5 235.6,103.5 236.4,103.0 235.2,101.0 234.0,100.0 233.0,99.6 226.1,99.2 225.3,98.3 224.3,97.8 223.2,98.2 221.1,97.3 218.6,95.3 217.1,94.7 216.5,95.8Z" fill="#eba668" fill-opacity="0.75" stroke="#eba668" stroke-width="0.6" stroke-linejoin="round"/>
<path d="M245.5,115.1 245.3,117.7 246.2,119.8 247.3,120.4 249.1,119.9 249.6,118.9 249.6,117.0 249.3,116.2 247.7,114.3 247.2,114.0 246.1,114.2Z" fill="#b03a35" fill-opacity="0.75" stroke="#b03a35" stroke-width="0.6" stroke-linejoin="round"/>
<path d="M251.3,104.1 252.4,105.2 254.4,105.3 256.1,107.6 256.6,109.2 257.7,110.6 258.6,111.2 259.9,111.3 260.8,113.5 260.8,115.7 261.4,116.7 262.4,117.3 263.7,117.3 263.3,116.9 263.4,114.7 263.6,116.2 264.2,117.1 264.7,116.7 265.2,116.0 265.4,115.1 265.4,112.9 265.0,111.6 264.5,111.3 263.8,111.6 263.4,114.4 263.4,113.0 262.1,109.9 260.7,108.3 259.5,108.7 258.9,107.9 258.4,106.4 255.5,102.0 255.1,102.0 254.5,102.7 253.2,102.7 251.5,103.3Z" fill="#eba668" fill-opacity="0.75" stroke="#eba668" stroke-width="0.6" stroke-linejoin="round"/>
<path d="M260.7,117.0 261.0,118.3 262.6,119.8 262.9,121.0 263.4,121.6 265.3,123.3 266.8,124.1 268.3,126.1 269.2,125.9 269.9,125.3 270.4,124.3 270.4,123.4 269.9,120.4 269.1,118.8 270.1,118.3 272.5,116.3 274.2,114.4 274.6,113.4 274.6,111.2 273.8,109.1 272.7,107.5 270.9,105.8 271.5,105.8 271.7,105.4 272.3,105.3 272.5,105.6 273.2,105.1 273.8,104.2 273.8,103.0 272.0,103.8 271.6,103.3 270.2,103.1 268.9,103.9 268.1,106.0 269.0,107.7 270.8,109.3 271.5,110.2 272.0,111.6 272.1,113.0 270.8,114.3 269.0,115.9 268.9,115.4 267.2,113.9 266.6,112.7 265.7,112.3 264.5,111.3 263.8,111.7 263.4,114.4 263.4,113.0 262.3,110.3 261.8,111.3 261.6,113.3 260.8,114.6ZM263.5,116.1 264.9,118.1 266.2,118.8 267.4,121.2 267.7,123.0 266.1,121.9 265.3,120.0 264.9,118.4 263.3,116.9 263.4,114.7Z" fill="#eba668" fill-opacity="0.75" stroke="#eba668" stroke-width="0.6" stroke-linejoin="round"/>
<path d="M259.6,124.2 261.9,125.9 263.5,129.2 265.0,131.0 266.6,132.3 266.8,133.1 267.4,133.9 269.4,135.0 273.6,136.0 280.9,136.9 283.0,136.7 284.1,137.8 284.9,138.0 285.9,137.9 289.9,135.9 291.0,134.8 291.2,133.8 291.1,132.8 290.7,132.0 289.7,131.2 291.6,131.5 292.7,131.3 293.6,131.7 294.6,131.7 295.8,132.3 295.8,133.7 296.4,134.9 297.2,135.5 300.1,136.7 301.6,136.7 302.0,135.8 302.2,136.5 303.0,135.7 303.4,134.7 303.4,133.5 302.2,134.3 300.9,134.2 299.2,133.3 298.3,133.1 298.8,131.6 298.0,130.4 295.0,129.0 294.1,129.1 293.3,127.8 294.6,127.6 294.7,127.4 293.1,127.3 292.4,126.6 292.6,125.8 295.1,126.6 295.5,127.6 296.6,128.4 298.2,126.9 301.3,127.7 303.6,128.8 303.8,127.1 302.8,125.6 301.9,125.2 298.6,124.3 297.8,124.3 296.8,124.7 295.9,124.1 292.6,123.2 291.6,121.1 290.1,120.2 288.6,120.4 287.6,121.2 286.5,121.2 284.3,121.9 283.7,121.8 284.3,120.4 284.0,118.9 283.0,117.3 280.8,115.7 279.8,116.7 280.3,115.6 279.3,115.5 278.2,115.9 274.7,119.9 271.6,121.0 270.5,122.3 270.2,123.6 268.8,122.0 267.8,121.4 268.2,123.8 265.9,122.1 265.0,120.1 264.7,118.6 263.5,117.5 260.7,116.9 259.5,117.1 258.3,118.0 257.9,119.5 258.2,121.5ZM287.7,130.9 287.7,130.4 288.7,131.0 287.9,130.9Z" fill="#eba668" fill-opacity="0.75" stroke="#eba668" stroke-width="0.6" stroke-linejoin="round"/>
<path d="M260.5,119.5 261.4,119.7 262.4,119.9 263.6,121.4 264.5,122.2 265.5,123.1 266.2,123.5 267.0,123.9 268.1,125.1 268.7,126.1 269.8,127.4 270.1,128.6 269.9,129.8 269.8,131.0 268.7,130.6 267.7,129.9 266.8,129.1 265.6,127.6 265.0,126.1 264.4,125.1 263.8,124.1 262.7,123.3 261.6,122.6 261.2,121.6 260.7,120.6ZM270.0,131.0 270.8,131.1 271.6,131.1 272.5,131.4 273.4,131.7 274.4,131.9 275.2,132.0 276.0,132.0 276.7,132.4 277.4,132.7 277.2,133.8 276.2,133.7 275.2,133.6 274.3,133.5 273.2,133.2 272.1,132.9 271.2,132.7 270.2,132.5 269.2,132.0ZM279.7,118.1 281.1,119.1 281.8,120.1 280.7,121.1 280.8,122.1 280.8,123.1 281.7,124.1 280.7,125.1 280.0,126.1 279.4,127.6 279.2,128.5 278.9,129.3 277.7,128.9 277.2,128.4 276.1,128.3 275.0,128.1 273.8,128.1 273.2,126.6 272.9,125.1 272.8,123.6 273.2,123.1 274.1,122.8 275.0,122.6 276.3,122.1 277.0,121.3 277.6,120.5 278.4,120.1 278.9,119.1 279.5,118.2ZM287.1,123.7 286.2,124.1 285.3,124.3 284.4,124.6 283.1,124.3 282.6,125.1 283.1,126.1 283.0,127.6 281.6,128.6 281.8,129.7 281.9,130.7 282.8,130.4 283.4,129.6 283.4,128.1 283.8,129.0 284.2,129.9 285.1,130.4 285.2,129.3 284.6,128.1 284.0,126.6 284.7,126.4 285.5,126.1 285.6,125.6 284.7,125.7 283.8,125.8 284.8,125.3 285.7,124.7 286.6,124.1ZM277.8,133.2 279.1,133.9 280.2,133.7 281.4,133.5 282.2,133.7 283.1,133.8 284.0,133.6 284.9,133.4 284.7,133.9 283.5,134.1 282.3,134.2 281.1,134.3 280.2,134.2 279.2,134.1 278.2,134.0ZM286.7,133.4 287.7,133.5 288.6,133.6 287.6,134.1 286.6,134.5 285.2,135.4 285.7,134.7ZM289.6,122.8 290.0,123.7 290.4,124.6 289.9,125.9 289.4,124.7 289.3,123.6ZM289.7,127.9 290.9,128.0 292.2,128.1 291.7,128.9 290.7,128.8 289.7,128.6Z" fill="none" stroke="#b78151" stroke-opacity="0.7" stroke-width="0.9" stroke-linejoin="round"/>
<path d="M282.2,103.5 281.2,105.5 281.0,109.1 281.0,113.1 280.0,116.6 282.9,119.1 286.1,120.6 288.7,120.1 288.9,116.1 287.5,112.3 284.4,106.1Z" fill="#b03a35" fill-opacity="0.75" stroke="#b03a35" stroke-width="0.6" stroke-linejoin="round"/></g>
<text x="190.8" y="435.5" class="lb">Biodiversity</text>
<g transform="translate(348.60,284.21) scale(0.659)"><use href="#base"/>
<path d="M122.2,115.5 121.7,114.2 120.1,113.1 117.8,112.5 116.5,112.5 114.0,112.8 111.9,113.6 110.7,114.8 110.5,115.5 110.6,116.1 111.7,117.4 113.7,118.2 116.2,118.5 117.5,118.4 119.9,117.8 121.6,116.8Z" fill="#67adc9" fill-opacity="0.35" stroke="#67adc9" stroke-width="1.6" stroke-linejoin="round"/>
<path d="M101.3,127.6 102.6,130.3 103.8,130.9 103.6,129.9 104.4,128.7 104.7,127.6 103.9,127.1 103.9,126.2 104.5,124.8 106.2,122.4 105.9,122.1 104.8,121.8 103.9,121.9 103.2,122.4 102.2,123.5 101.3,126.0Z" fill="#27388a" fill-opacity="0.75" stroke="#27388a" stroke-width="0.6" stroke-linejoin="round"/>
<path d="M103.9,126.3 102.5,126.9 101.1,129.1 101.0,130.1 101.6,132.3 102.9,133.6 106.2,139.7 107.9,142.3 112.8,145.6 113.6,145.9 114.5,145.9 114.2,143.5 109.7,140.4 108.4,138.5 104.9,132.0 103.9,131.0 103.6,129.9 104.4,128.7 104.7,127.6 103.9,127.1Z" fill="#a3d4e6" fill-opacity="0.75" stroke="#a3d4e6" stroke-width="0.6" stroke-linejoin="round"/>
<path d="M127.0,178.6 123.5,177.6 124.0,178.4 126.2,179.7 125.7,179.9 125.6,180.3 122.5,179.5 120.4,178.2 118.8,176.8 117.5,174.9 116.0,171.1 116.1,169.1 115.0,162.0 115.3,158.2 114.8,155.2 114.5,145.6 114.2,143.5 112.3,142.1 111.8,142.9 111.6,143.8 112.1,148.9 112.2,155.2 112.7,158.3 112.4,162.1 113.5,169.3 113.5,171.9 115.4,176.4 116.9,178.5 118.8,180.1 121.6,181.9 125.5,182.9 126.8,182.8 127.6,182.3 128.1,181.6 128.2,180.7 128.1,179.8Z" fill="#a3d4e6" fill-opacity="0.75" stroke="#a3d4e6" stroke-width="0.6" stroke-linejoin="round"/>
<path d="M93.1,125.7 93.5,126.9 94.4,127.4 96.1,127.1 96.7,126.1 96.2,124.6 95.3,124.0 93.6,124.3 93.1,125.0Z" fill="#27388a" fill-opacity="0.75" stroke="#27388a" stroke-width="0.6" stroke-linejoin="round"/>
<path d="M169.0,87.7 168.1,89.5 166.8,90.4 165.3,92.3 164.9,94.2 164.4,94.8 162.9,95.9 162.3,96.6 162.2,98.1 163.2,99.4 164.6,97.8 166.3,96.7 167.7,94.8 167.6,93.6 168.7,92.2 170.1,91.2 170.9,89.6 171.8,90.1 173.2,90.1 175.5,89.5 175.0,88.3 174.1,87.7 173.7,88.0 171.9,88.0 171.1,88.6 169.5,87.6Z" fill="#67adc9" fill-opacity="0.75" stroke="#67adc9" stroke-width="0.6" stroke-linejoin="round"/>
<path d="M187.5,92.8 187.6,91.5 187.1,90.2 187.1,87.6 186.4,87.3 187.0,87.1 186.2,86.1 185.3,85.7 183.6,85.4 182.1,85.8 180.5,85.7 177.5,86.0 174.7,87.0 173.7,88.0 171.8,88.0 171.4,88.5 171.0,89.3 170.9,89.7 171.8,90.1 173.2,90.1 178.2,88.5 182.3,88.4 183.8,88.0 184.5,88.2 184.4,90.3 185.1,92.2 186.7,92.4Z" fill="#67adc9" fill-opacity="0.75" stroke="#67adc9" stroke-width="0.6" stroke-linejoin="round"/>
<path d="M208.0,105.3 209.5,104.7 210.1,103.4 208.8,100.9 206.2,96.9 205.8,95.4 205.5,95.2 205.0,96.8 204.3,96.4 204.0,96.8 205.9,100.7 207.6,103.2ZM205.4,93.0 204.8,92.1 204.1,91.6 201.7,91.2 199.6,91.8 196.6,91.2 195.5,91.7 194.8,92.6 196.8,93.8 199.5,94.4 201.7,93.8 204.0,94.2 205.1,93.8Z" fill="#3b76b0" fill-opacity="0.75" stroke="#3b76b0" stroke-width="0.6" stroke-linejoin="round"/>
<path d="M215.8,114.9 216.2,113.9 216.2,111.7 214.3,112.1 213.6,109.5 212.4,108.2 210.4,104.6 210.3,103.6 208.9,101.0 207.7,100.7 206.6,101.1 206.4,101.3 207.6,103.2 208.0,105.6 210.2,109.6 211.7,111.3 213.7,112.6 213.7,113.8 214.2,113.9 215.4,114.9Z" fill="#a3d4e6" fill-opacity="0.75" stroke="#a3d4e6" stroke-width="0.6" stroke-linejoin="round"/>
<path d="M210.8,128.9 212.4,129.4 213.6,128.9 215.3,126.7 217.8,124.5 220.4,121.2 222.2,118.1 223.5,115.1 223.3,112.6 222.4,111.4 220.9,111.0 216.2,112.2 215.8,111.8 214.3,112.1 214.1,111.3 213.3,111.4 212.5,111.8 213.7,112.6 213.7,113.8 214.2,113.9 215.5,115.0 220.8,113.7 220.9,114.6 218.1,119.9 215.8,122.9 213.3,124.9Z" fill="#eba668" fill-opacity="0.75" stroke="#eba668" stroke-width="0.6" stroke-linejoin="round"/>
<path d="M188.4,156.7 189.1,160.4 189.6,161.2 190.3,161.7 192.6,162.3 195.0,161.7 197.9,161.4 200.7,160.0 203.9,156.6 205.7,154.2 206.3,152.5 206.2,151.4 205.6,150.4 204.6,149.8 203.6,151.0 203.7,152.0 203.4,153.0 202.0,154.9 199.1,157.9 197.2,158.9 194.6,159.1 192.5,159.7 191.5,159.4 191.0,156.1 189.0,151.6 188.0,152.3 187.5,153.5 187.5,154.4Z" fill="#67adc9" fill-opacity="0.75" stroke="#67adc9" stroke-width="0.6" stroke-linejoin="round"/>
<path d="M183.8,142.7 186.0,148.6 186.5,152.4 187.8,155.0 188.4,155.7 189.3,156.0 190.8,155.8 189.0,151.7 188.6,148.0 186.3,142.1 186.8,140.0 186.6,139.9 185.7,139.9 184.8,140.2 184.2,140.8 183.8,141.6Z" fill="#e07a50" fill-opacity="0.75" stroke="#e07a50" stroke-width="0.6" stroke-linejoin="round"/>
<path d="M126.6,161.1 128.9,162.0 129.6,161.9 130.3,161.2 130.3,160.3 129.6,159.5 127.6,158.7 126.9,158.8 126.1,159.4 126.1,160.4Z" fill="#27388a" fill-opacity="0.75" stroke="#27388a" stroke-width="0.6" stroke-linejoin="round"/>
<path d="M159.4,112.2 159.8,112.8 160.5,113.1 161.4,112.8 161.8,112.2 161.9,111.5 161.3,109.7 160.6,109.0 159.6,109.1 158.9,109.8 158.8,110.6Z" fill="#27388a" fill-opacity="0.75" stroke="#27388a" stroke-width="0.6" stroke-linejoin="round"/>
<path d="M207.9,81.7 206.1,81.5 205.2,80.9 204.2,80.7 198.3,82.0 197.8,82.5 198.5,83.7 197.5,84.1 196.9,83.8 195.6,83.8 195.0,84.5 195.1,85.8 196.6,89.3 197.6,90.1 200.2,91.0 201.6,90.8 202.6,91.1 204.1,91.1 205.3,90.6 206.1,90.7 206.0,88.2 204.5,87.9 203.8,88.5 202.9,88.5 201.3,87.8 200.5,88.4 198.7,87.8 197.7,85.2 198.3,84.9 199.5,84.9 200.1,84.2 201.4,84.1 204.2,83.3 205.2,84.0 208.3,84.3 209.7,83.6 209.5,82.3 208.3,81.5ZM203.8,89.9 204.0,89.9 203.9,90.0Z" fill="#27388a" fill-opacity="0.75" stroke="#27388a" stroke-width="0.6" stroke-linejoin="round"/>
<path d="M189.7,85.6 191.1,87.7 191.2,88.4 192.1,89.8 193.7,90.8 194.9,90.9 196.2,90.1 197.4,88.0 197.8,86.7 198.2,86.6 197.7,85.2 198.3,84.9 199.6,84.9 199.7,84.0 199.1,82.8 197.9,82.0 197.8,82.5 198.5,83.7 197.5,84.1 196.9,83.8 195.6,83.8 195.1,84.6 194.2,84.3 194.2,85.6 195.2,86.6 194.5,87.3 194.3,88.2 193.7,87.4 193.7,86.5 192.2,84.9 191.4,82.9 189.4,81.5 189.0,82.4 188.9,83.3 189.1,84.1 189.6,84.3 189.4,84.7Z" fill="#27388a" fill-opacity="0.75" stroke="#27388a" stroke-width="0.6" stroke-linejoin="round"/>
<path d="M207.8,104.6 210.9,109.0 211.2,110.8 213.7,112.6 213.7,113.8 214.5,113.8 215.3,113.4 215.9,112.7 216.1,111.7 214.3,112.1 213.3,107.9 210.1,103.4 208.8,100.9 206.2,96.9 205.8,95.4 205.5,95.2 205.0,96.8 204.3,96.4 204.0,96.8 205.9,100.7 207.6,103.2ZM205.2,93.3 204.4,93.6 203.7,94.2 205.0,93.9Z" fill="#3b76b0" fill-opacity="0.75" stroke="#3b76b0" stroke-width="0.6" stroke-linejoin="round"/>
<path d="M215.0,114.6 218.7,113.6 223.0,110.6 225.7,109.5 227.2,108.1 228.4,105.7 229.8,103.7 230.1,102.8 229.7,101.2 228.0,99.6 227.6,99.4 226.1,99.2 225.3,98.3 224.3,97.7 223.2,98.2 222.2,97.7 222.1,99.1 222.9,101.1 223.2,101.0 224.3,99.3 224.9,100.7 226.4,101.7 227.4,102.6 226.1,104.4 225.3,106.4 224.3,107.3 221.7,108.3 217.5,111.3 215.4,112.0 214.3,112.1 213.6,109.3 212.3,109.9 211.6,111.2 213.7,112.6 213.7,113.8 214.2,113.9Z" fill="#3b76b0" fill-opacity="0.75" stroke="#3b76b0" stroke-width="0.6" stroke-linejoin="round"/>
<path d="M225.5,101.1 226.5,99.3 226.1,99.2 225.3,98.3 224.2,97.7 223.2,98.2 222.2,97.7 222.1,97.9 218.7,95.3 217.2,94.7 216.9,94.9 216.6,95.9 219.5,100.2 219.7,100.3 220.0,100.1 220.0,100.6 220.7,101.3 223.1,101.1 224.3,99.3 224.9,100.8Z" fill="#27388a" fill-opacity="0.75" stroke="#27388a" stroke-width="0.6" stroke-linejoin="round"/>
<path d="M218.2,98.3 219.9,99.6 222.7,100.8 223.4,100.8 224.3,99.3 224.9,100.7 226.7,101.9 232.4,102.1 233.8,103.2 234.7,103.5 235.6,103.5 236.4,103.0 235.2,101.0 234.0,100.0 233.0,99.6 226.1,99.2 225.3,98.3 224.3,97.8 223.2,98.2 221.1,97.3 218.6,95.3 217.1,94.7 216.5,95.8Z" fill="#3b76b0" fill-opacity="0.75" stroke="#3b76b0" stroke-width="0.6" stroke-linejoin="round"/>
<path d="M245.5,115.1 245.3,117.7 246.2,119.8 247.3,120.4 249.1,119.9 249.6,118.9 249.6,117.0 249.3,116.2 247.7,114.3 247.2,114.0 246.1,114.2Z" fill="#27388a" fill-opacity="0.75" stroke="#27388a" stroke-width="0.6" stroke-linejoin="round"/>
<path d="M251.3,104.1 252.4,105.2 254.4,105.3 256.1,107.6 256.6,109.2 257.7,110.6 258.6,111.2 259.9,111.3 260.8,113.5 260.8,115.7 261.4,116.7 262.4,117.3 263.7,117.3 263.3,116.9 263.4,114.7 263.6,116.2 264.2,117.1 264.7,116.7 265.2,116.0 265.4,115.1 265.4,112.9 265.0,111.6 264.5,111.3 263.8,111.6 263.4,114.4 263.4,113.0 262.1,109.9 260.7,108.3 259.5,108.7 258.9,107.9 258.4,106.4 255.5,102.0 255.1,102.0 254.5,102.7 253.2,102.7 251.5,103.3Z" fill="#3b76b0" fill-opacity="0.75" stroke="#3b76b0" stroke-width="0.6" stroke-linejoin="round"/>
<path d="M260.7,117.0 261.0,118.3 262.6,119.8 262.9,121.0 263.4,121.6 265.3,123.3 266.8,124.1 268.3,126.1 269.2,125.9 269.9,125.3 270.4,124.3 270.4,123.4 269.9,120.4 269.1,118.8 270.1,118.3 272.5,116.3 274.2,114.4 274.6,113.4 274.6,111.2 273.8,109.1 272.7,107.5 270.9,105.8 271.5,105.8 271.7,105.4 272.3,105.3 272.5,105.6 273.2,105.1 273.8,104.2 273.8,103.0 272.0,103.8 271.6,103.3 270.2,103.1 268.9,103.9 268.1,106.0 269.0,107.7 270.8,109.3 271.5,110.2 272.0,111.6 272.1,113.0 270.8,114.3 269.0,115.9 268.9,115.4 267.2,113.9 266.6,112.7 265.7,112.3 264.5,111.3 263.8,111.7 263.4,114.4 263.4,113.0 262.3,110.3 261.8,111.3 261.6,113.3 260.8,114.6ZM263.5,116.1 264.9,118.1 266.2,118.8 267.4,121.2 267.7,123.0 266.1,121.9 265.3,120.0 264.9,118.4 263.3,116.9 263.4,114.7Z" fill="#27388a" fill-opacity="0.75" stroke="#27388a" stroke-width="0.6" stroke-linejoin="round"/>
<path d="M259.6,124.2 261.9,125.9 263.5,129.2 265.0,131.0 266.6,132.3 266.8,133.1 267.4,133.9 269.4,135.0 273.6,136.0 280.9,136.9 283.0,136.7 284.1,137.8 284.9,138.0 285.9,137.9 289.9,135.9 291.0,134.8 291.2,133.8 291.1,132.8 290.7,132.0 289.7,131.2 291.6,131.5 292.7,131.3 293.6,131.7 294.6,131.7 295.8,132.3 295.8,133.7 296.4,134.9 297.2,135.5 300.1,136.7 301.6,136.7 302.0,135.8 302.2,136.5 303.0,135.7 303.4,134.7 303.4,133.5 302.2,134.3 300.9,134.2 299.2,133.3 298.3,133.1 298.8,131.6 298.0,130.4 295.0,129.0 294.1,129.1 293.3,127.8 294.6,127.6 294.7,127.4 293.1,127.3 292.4,126.6 292.6,125.8 295.1,126.6 295.5,127.6 296.6,128.4 298.2,126.9 301.3,127.7 303.6,128.8 303.8,127.1 302.8,125.6 301.9,125.2 298.6,124.3 297.8,124.3 296.8,124.7 295.9,124.1 292.6,123.2 291.6,121.1 290.1,120.2 288.6,120.4 287.6,121.2 286.5,121.2 284.3,121.9 283.7,121.8 284.3,120.4 284.0,118.9 283.0,117.3 280.8,115.7 279.8,116.7 280.3,115.6 279.3,115.5 278.2,115.9 274.7,119.9 271.6,121.0 270.5,122.3 270.2,123.6 268.8,122.0 267.8,121.4 268.2,123.8 265.9,122.1 265.0,120.1 264.7,118.6 263.5,117.5 260.7,116.9 259.5,117.1 258.3,118.0 257.9,119.5 258.2,121.5ZM287.7,130.9 287.7,130.4 288.7,131.0 287.9,130.9Z" fill="#3b76b0" fill-opacity="0.75" stroke="#3b76b0" stroke-width="0.6" stroke-linejoin="round"/>
<path d="M260.5,119.5 261.4,119.7 262.4,119.9 263.6,121.4 264.5,122.2 265.5,123.1 266.2,123.5 267.0,123.9 268.1,125.1 268.7,126.1 269.8,127.4 270.1,128.6 269.9,129.8 269.8,131.0 268.7,130.6 267.7,129.9 266.8,129.1 265.6,127.6 265.0,126.1 264.4,125.1 263.8,124.1 262.7,123.3 261.6,122.6 261.2,121.6 260.7,120.6ZM270.0,131.0 270.8,131.1 271.6,131.1 272.5,131.4 273.4,131.7 274.4,131.9 275.2,132.0 276.0,132.0 276.7,132.4 277.4,132.7 277.2,133.8 276.2,133.7 275.2,133.6 274.3,133.5 273.2,133.2 272.1,132.9 271.2,132.7 270.2,132.5 269.2,132.0ZM279.7,118.1 281.1,119.1 281.8,120.1 280.7,121.1 280.8,122.1 280.8,123.1 281.7,124.1 280.7,125.1 280.0,126.1 279.4,127.6 279.2,128.5 278.9,129.3 277.7,128.9 277.2,128.4 276.1,128.3 275.0,128.1 273.8,128.1 273.2,126.6 272.9,125.1 272.8,123.6 273.2,123.1 274.1,122.8 275.0,122.6 276.3,122.1 277.0,121.3 277.6,120.5 278.4,120.1 278.9,119.1 279.5,118.2ZM287.1,123.7 286.2,124.1 285.3,124.3 284.4,124.6 283.1,124.3 282.6,125.1 283.1,126.1 283.0,127.6 281.6,128.6 281.8,129.7 281.9,130.7 282.8,130.4 283.4,129.6 283.4,128.1 283.8,129.0 284.2,129.9 285.1,130.4 285.2,129.3 284.6,128.1 284.0,126.6 284.7,126.4 285.5,126.1 285.6,125.6 284.7,125.7 283.8,125.8 284.8,125.3 285.7,124.7 286.6,124.1ZM277.8,133.2 279.1,133.9 280.2,133.7 281.4,133.5 282.2,133.7 283.1,133.8 284.0,133.6 284.9,133.4 284.7,133.9 283.5,134.1 282.3,134.2 281.1,134.3 280.2,134.2 279.2,134.1 278.2,134.0ZM286.7,133.4 287.7,133.5 288.6,133.6 287.6,134.1 286.6,134.5 285.2,135.4 285.7,134.7ZM289.6,122.8 290.0,123.7 290.4,124.6 289.9,125.9 289.4,124.7 289.3,123.6ZM289.7,127.9 290.9,128.0 292.2,128.1 291.7,128.9 290.7,128.8 289.7,128.6Z" fill="none" stroke="#2e5c89" stroke-opacity="0.7" stroke-width="0.9" stroke-linejoin="round"/>
<path d="M282.2,103.5 281.2,105.5 281.0,109.1 281.0,113.1 280.0,116.6 282.9,119.1 286.1,120.6 288.7,120.1 288.9,116.1 287.5,112.3 284.4,106.1Z" fill="#27388a" fill-opacity="0.75" stroke="#27388a" stroke-width="0.6" stroke-linejoin="round"/>
<path d="M298.9,133.0 298.6,134.0 298.7,135.2 299.4,136.0 300.2,136.4 302.7,136.6 304.3,135.8 305.0,136.6 306.4,137.5 309.0,138.1 310.5,137.7 311.4,136.3 311.3,135.0 309.3,132.2 309.3,130.8 308.7,129.9 307.0,128.8 305.7,127.3 301.9,125.5 301.0,125.4 300.0,125.8 299.3,126.5 299.0,127.4 301.2,128.0 304.4,129.5 305.2,130.8 306.7,131.6 306.7,133.0 308.4,135.3 306.8,134.7 305.8,133.4 304.2,132.6 302.1,134.0 300.9,133.9Z" fill="#eba668" fill-opacity="0.75" stroke="#eba668" stroke-width="0.6" stroke-linejoin="round"/></g>
<text x="407.6" y="435.4" class="lb">Social development</text>
<g transform="translate(588.05,284.21) scale(0.659)"><use href="#base"/>
<path d="M122.2,115.5 121.7,114.2 120.1,113.1 117.8,112.5 116.5,112.5 114.0,112.8 111.9,113.6 110.7,114.8 110.5,115.5 110.6,116.1 111.7,117.4 113.7,118.2 116.2,118.5 117.5,118.4 119.9,117.8 121.6,116.8Z" fill="#3b76b0" fill-opacity="0.35" stroke="#3b76b0" stroke-width="1.6" stroke-linejoin="round"/>
<path d="M103.9,126.3 102.5,126.9 101.1,129.1 101.0,130.1 101.6,132.3 102.9,133.6 106.2,139.7 107.9,142.3 112.8,145.6 113.6,145.9 114.5,145.9 114.2,143.5 109.7,140.4 108.4,138.5 104.9,132.0 103.9,131.0 103.6,129.9 104.4,128.7 104.7,127.6 103.9,127.1Z" fill="#eba668" fill-opacity="0.75" stroke="#eba668" stroke-width="0.6" stroke-linejoin="round"/>
<path d="M127.0,178.6 123.5,177.6 124.0,178.4 126.2,179.7 125.7,179.9 125.6,180.3 122.5,179.5 120.4,178.2 118.8,176.8 117.5,174.9 116.0,171.1 116.1,169.1 115.0,162.0 115.3,158.2 114.8,155.2 114.5,145.6 114.2,143.5 112.3,142.1 111.8,142.9 111.6,143.8 112.1,148.9 112.2,155.2 112.7,158.3 112.4,162.1 113.5,169.3 113.5,171.9 115.4,176.4 116.9,178.5 118.8,180.1 121.6,181.9 125.5,182.9 126.8,182.8 127.6,182.3 128.1,181.6 128.2,180.7 128.1,179.8Z" fill="#3b76b0" fill-opacity="0.75" stroke="#3b76b0" stroke-width="0.6" stroke-linejoin="round"/>
<path d="M187.5,92.8 187.6,91.5 187.1,90.2 187.1,87.6 186.4,87.3 187.0,87.1 186.2,86.1 185.3,85.7 183.6,85.4 182.1,85.8 180.5,85.7 177.5,86.0 174.7,87.0 173.7,88.0 171.8,88.0 171.4,88.5 171.0,89.3 170.9,89.7 171.8,90.1 173.2,90.1 178.2,88.5 182.3,88.4 183.8,88.0 184.5,88.2 184.4,90.3 185.1,92.2 186.7,92.4Z" fill="#27388a" fill-opacity="0.75" stroke="#27388a" stroke-width="0.6" stroke-linejoin="round"/>
<path d="M208.0,105.3 209.5,104.7 210.1,103.4 208.8,100.9 206.2,96.9 205.8,95.4 205.5,95.2 205.0,96.8 204.3,96.4 204.0,96.8 205.9,100.7 207.6,103.2ZM205.4,93.0 204.8,92.1 204.1,91.6 201.7,91.2 199.6,91.8 196.6,91.2 195.5,91.7 194.8,92.6 196.8,93.8 199.5,94.4 201.7,93.8 204.0,94.2 205.1,93.8Z" fill="#27388a" fill-opacity="0.75" stroke="#27388a" stroke-width="0.6" stroke-linejoin="round"/>
<path d="M215.8,114.9 216.2,113.9 216.2,111.7 214.3,112.1 213.6,109.5 212.4,108.2 210.4,104.6 210.3,103.6 208.9,101.0 207.7,100.7 206.6,101.1 206.4,101.3 207.6,103.2 208.0,105.6 210.2,109.6 211.7,111.3 213.7,112.6 213.7,113.8 214.2,113.9 215.4,114.9Z" fill="#27388a" fill-opacity="0.75" stroke="#27388a" stroke-width="0.6" stroke-linejoin="round"/>
<path d="M210.8,128.9 212.4,129.4 213.6,128.9 215.3,126.7 217.8,124.5 220.4,121.2 222.2,118.1 223.5,115.1 223.3,112.6 222.4,111.4 220.9,111.0 216.2,112.2 215.8,111.8 214.3,112.1 214.1,111.3 213.3,111.4 212.5,111.8 213.7,112.6 213.7,113.8 214.2,113.9 215.5,115.0 220.8,113.7 220.9,114.6 218.1,119.9 215.8,122.9 213.3,124.9Z" fill="#27388a" fill-opacity="0.75" stroke="#27388a" stroke-width="0.6" stroke-linejoin="round"/>
<path d="M213.0,130.3 214.3,128.1 214.5,127.2 214.1,125.9 213.2,125.0 210.3,129.6 210.4,133.7 211.2,135.7 211.3,137.9 212.1,137.8 212.9,137.4 213.7,136.1 213.7,135.0 212.9,133.1Z" fill="#27388a" fill-opacity="0.75" stroke="#27388a" stroke-width="0.6" stroke-linejoin="round"/>
<path d="M202.8,154.0 203.6,154.3 204.5,154.3 205.8,153.5 206.3,152.8 206.3,151.9 208.1,150.8 208.7,149.8 208.6,146.0 211.6,143.7 213.6,141.2 213.9,140.2 213.8,135.3 213.3,134.2 212.5,133.5 211.4,133.3 210.4,133.6 211.2,135.7 211.3,140.0 209.8,141.9 206.0,144.8 206.2,148.9 204.5,149.9 203.6,150.9 203.7,152.0Z" fill="#eba668" fill-opacity="0.75" stroke="#eba668" stroke-width="0.6" stroke-linejoin="round"/>
<path d="M188.4,156.7 189.1,160.4 189.6,161.2 190.3,161.7 192.6,162.3 195.0,161.7 197.9,161.4 200.7,160.0 203.9,156.6 205.7,154.2 206.3,152.5 206.2,151.4 205.6,150.4 204.6,149.8 203.6,151.0 203.7,152.0 203.4,153.0 202.0,154.9 199.1,157.9 197.2,158.9 194.6,159.1 192.5,159.7 191.5,159.4 191.0,156.1 189.0,151.6 188.0,152.3 187.5,153.5 187.5,154.4Z" fill="#3b76b0" fill-opacity="0.75" stroke="#3b76b0" stroke-width="0.6" stroke-linejoin="round"/>
<path d="M183.8,142.7 186.0,148.6 186.5,152.4 187.8,155.0 188.4,155.7 189.3,156.0 190.8,155.8 189.0,151.7 188.6,148.0 186.3,142.1 186.8,140.0 186.6,139.9 185.7,139.9 184.8,140.2 184.2,140.8 183.8,141.6Z" fill="#27388a" fill-opacity="0.75" stroke="#27388a" stroke-width="0.6" stroke-linejoin="round"/>
<path d="M207.9,81.7 206.1,81.5 205.2,80.9 204.2,80.7 198.3,82.0 197.8,82.5 198.5,83.7 197.5,84.1 196.9,83.8 195.6,83.8 195.0,84.5 195.1,85.8 196.6,89.3 197.6,90.1 200.2,91.0 201.6,90.8 202.6,91.1 204.1,91.1 205.3,90.6 206.1,90.7 206.0,88.2 204.5,87.9 203.8,88.5 202.9,88.5 201.3,87.8 200.5,88.4 198.7,87.8 197.7,85.2 198.3,84.9 199.5,84.9 200.1,84.2 201.4,84.1 204.2,83.3 205.2,84.0 208.3,84.3 209.7,83.6 209.5,82.3 208.3,81.5ZM203.8,89.9 204.0,89.9 203.9,90.0Z" fill="#a3d4e6" fill-opacity="0.75" stroke="#a3d4e6" stroke-width="0.6" stroke-linejoin="round"/>
<path d="M207.8,104.6 210.9,109.0 211.2,110.8 213.7,112.6 213.7,113.8 214.5,113.8 215.3,113.4 215.9,112.7 216.1,111.7 214.3,112.1 213.3,107.9 210.1,103.4 208.8,100.9 206.2,96.9 205.8,95.4 205.5,95.2 205.0,96.8 204.3,96.4 204.0,96.8 205.9,100.7 207.6,103.2ZM205.2,93.3 204.4,93.6 203.7,94.2 205.0,93.9Z" fill="#3b76b0" fill-opacity="0.75" stroke="#3b76b0" stroke-width="0.6" stroke-linejoin="round"/>
<path d="M215.0,114.6 218.7,113.6 223.0,110.6 225.7,109.5 227.2,108.1 228.4,105.7 229.8,103.7 230.1,102.8 229.7,101.2 228.0,99.6 227.6,99.4 226.1,99.2 225.3,98.3 224.3,97.7 223.2,98.2 222.2,97.7 222.1,99.1 222.9,101.1 223.2,101.0 224.3,99.3 224.9,100.7 226.4,101.7 227.4,102.6 226.1,104.4 225.3,106.4 224.3,107.3 221.7,108.3 217.5,111.3 215.4,112.0 214.3,112.1 213.6,109.3 212.3,109.9 211.6,111.2 213.7,112.6 213.7,113.8 214.2,113.9Z" fill="#3b76b0" fill-opacity="0.75" stroke="#3b76b0" stroke-width="0.6" stroke-linejoin="round"/>
<path d="M225.5,101.1 226.5,99.3 226.1,99.2 225.3,98.3 224.2,97.7 223.2,98.2 222.2,97.7 222.1,97.9 218.7,95.3 217.2,94.7 216.9,94.9 216.6,95.9 219.5,100.2 219.7,100.3 220.0,100.1 220.0,100.6 220.7,101.3 223.1,101.1 224.3,99.3 224.9,100.8Z" fill="#3b76b0" fill-opacity="0.75" stroke="#3b76b0" stroke-width="0.6" stroke-linejoin="round"/>
<path d="M218.2,98.3 219.9,99.6 222.7,100.8 223.4,100.8 224.3,99.3 224.9,100.7 226.7,101.9 232.4,102.1 233.8,103.2 234.7,103.5 235.6,103.5 236.4,103.0 235.2,101.0 234.0,100.0 233.0,99.6 226.1,99.2 225.3,98.3 224.3,97.8 223.2,98.2 221.1,97.3 218.6,95.3 217.1,94.7 216.5,95.8Z" fill="#eba668" fill-opacity="0.75" stroke="#eba668" stroke-width="0.6" stroke-linejoin="round"/>
<path d="M245.5,115.1 245.3,117.7 246.2,119.8 247.3,120.4 249.1,119.9 249.6,118.9 249.6,117.0 249.3,116.2 247.7,114.3 247.2,114.0 246.1,114.2Z" fill="#27388a" fill-opacity="0.75" stroke="#27388a" stroke-width="0.6" stroke-linejoin="round"/>
<path d="M251.3,104.1 252.4,105.2 254.4,105.3 256.1,107.6 256.6,109.2 257.7,110.6 258.6,111.2 259.9,111.3 260.8,113.5 260.8,115.7 261.4,116.7 262.4,117.3 263.7,117.3 263.3,116.9 263.4,114.7 263.6,116.2 264.2,117.1 264.7,116.7 265.2,116.0 265.4,115.1 265.4,112.9 265.0,111.6 264.5,111.3 263.8,111.6 263.4,114.4 263.4,113.0 262.1,109.9 260.7,108.3 259.5,108.7 258.9,107.9 258.4,106.4 255.5,102.0 255.1,102.0 254.5,102.7 253.2,102.7 251.5,103.3Z" fill="#a3d4e6" fill-opacity="0.75" stroke="#a3d4e6" stroke-width="0.6" stroke-linejoin="round"/>
<path d="M260.7,117.0 261.0,118.3 262.6,119.8 262.9,121.0 263.4,121.6 265.3,123.3 266.8,124.1 268.3,126.1 269.2,125.9 269.9,125.3 270.4,124.3 270.4,123.4 269.9,120.4 269.1,118.8 270.1,118.3 272.5,116.3 274.2,114.4 274.6,113.4 274.6,111.2 273.8,109.1 272.7,107.5 270.9,105.8 271.5,105.8 271.7,105.4 272.3,105.3 272.5,105.6 273.2,105.1 273.8,104.2 273.8,103.0 272.0,103.8 271.6,103.3 270.2,103.1 268.9,103.9 268.1,106.0 269.0,107.7 270.8,109.3 271.5,110.2 272.0,111.6 272.1,113.0 270.8,114.3 269.0,115.9 268.9,115.4 267.2,113.9 266.6,112.7 265.7,112.3 264.5,111.3 263.8,111.7 263.4,114.4 263.4,113.0 262.3,110.3 261.8,111.3 261.6,113.3 260.8,114.6ZM263.5,116.1 264.9,118.1 266.2,118.8 267.4,121.2 267.7,123.0 266.1,121.9 265.3,120.0 264.9,118.4 263.3,116.9 263.4,114.7Z" fill="#a3d4e6" fill-opacity="0.75" stroke="#a3d4e6" stroke-width="0.6" stroke-linejoin="round"/>
<path d="M259.6,124.2 261.9,125.9 263.5,129.2 265.0,131.0 266.6,132.3 266.8,133.1 267.4,133.9 269.4,135.0 273.6,136.0 280.9,136.9 283.0,136.7 284.1,137.8 284.9,138.0 285.9,137.9 289.9,135.9 291.0,134.8 291.2,133.8 291.1,132.8 290.7,132.0 289.7,131.2 291.6,131.5 292.7,131.3 293.6,131.7 294.6,131.7 295.8,132.3 295.8,133.7 296.4,134.9 297.2,135.5 300.1,136.7 301.6,136.7 302.0,135.8 302.2,136.5 303.0,135.7 303.4,134.7 303.4,133.5 302.2,134.3 300.9,134.2 299.2,133.3 298.3,133.1 298.8,131.6 298.0,130.4 295.0,129.0 294.1,129.1 293.3,127.8 294.6,127.6 294.7,127.4 293.1,127.3 292.4,126.6 292.6,125.8 295.1,126.6 295.5,127.6 296.6,128.4 298.2,126.9 301.3,127.7 303.6,128.8 303.8,127.1 302.8,125.6 301.9,125.2 298.6,124.3 297.8,124.3 296.8,124.7 295.9,124.1 292.6,123.2 291.6,121.1 290.1,120.2 288.6,120.4 287.6,121.2 286.5,121.2 284.3,121.9 283.7,121.8 284.3,120.4 284.0,118.9 283.0,117.3 280.8,115.7 279.8,116.7 280.3,115.6 279.3,115.5 278.2,115.9 274.7,119.9 271.6,121.0 270.5,122.3 270.2,123.6 268.8,122.0 267.8,121.4 268.2,123.8 265.9,122.1 265.0,120.1 264.7,118.6 263.5,117.5 260.7,116.9 259.5,117.1 258.3,118.0 257.9,119.5 258.2,121.5ZM287.7,130.9 287.7,130.4 288.7,131.0 287.9,130.9Z" fill="#3b76b0" fill-opacity="0.75" stroke="#3b76b0" stroke-width="0.6" stroke-linejoin="round"/>
<path d="M260.5,119.5 261.4,119.7 262.4,119.9 263.6,121.4 264.5,122.2 265.5,123.1 266.2,123.5 267.0,123.9 268.1,125.1 268.7,126.1 269.8,127.4 270.1,128.6 269.9,129.8 269.8,131.0 268.7,130.6 267.7,129.9 266.8,129.1 265.6,127.6 265.0,126.1 264.4,125.1 263.8,124.1 262.7,123.3 261.6,122.6 261.2,121.6 260.7,120.6ZM270.0,131.0 270.8,131.1 271.6,131.1 272.5,131.4 273.4,131.7 274.4,131.9 275.2,132.0 276.0,132.0 276.7,132.4 277.4,132.7 277.2,133.8 276.2,133.7 275.2,133.6 274.3,133.5 273.2,133.2 272.1,132.9 271.2,132.7 270.2,132.5 269.2,132.0ZM279.7,118.1 281.1,119.1 281.8,120.1 280.7,121.1 280.8,122.1 280.8,123.1 281.7,124.1 280.7,125.1 280.0,126.1 279.4,127.6 279.2,128.5 278.9,129.3 277.7,128.9 277.2,128.4 276.1,128.3 275.0,128.1 273.8,128.1 273.2,126.6 272.9,125.1 272.8,123.6 273.2,123.1 274.1,122.8 275.0,122.6 276.3,122.1 277.0,121.3 277.6,120.5 278.4,120.1 278.9,119.1 279.5,118.2ZM287.1,123.7 286.2,124.1 285.3,124.3 284.4,124.6 283.1,124.3 282.6,125.1 283.1,126.1 283.0,127.6 281.6,128.6 281.8,129.7 281.9,130.7 282.8,130.4 283.4,129.6 283.4,128.1 283.8,129.0 284.2,129.9 285.1,130.4 285.2,129.3 284.6,128.1 284.0,126.6 284.7,126.4 285.5,126.1 285.6,125.6 284.7,125.7 283.8,125.8 284.8,125.3 285.7,124.7 286.6,124.1ZM277.8,133.2 279.1,133.9 280.2,133.7 281.4,133.5 282.2,133.7 283.1,133.8 284.0,133.6 284.9,133.4 284.7,133.9 283.5,134.1 282.3,134.2 281.1,134.3 280.2,134.2 279.2,134.1 278.2,134.0ZM286.7,133.4 287.7,133.5 288.6,133.6 287.6,134.1 286.6,134.5 285.2,135.4 285.7,134.7ZM289.6,122.8 290.0,123.7 290.4,124.6 289.9,125.9 289.4,124.7 289.3,123.6ZM289.7,127.9 290.9,128.0 292.2,128.1 291.7,128.9 290.7,128.8 289.7,128.6Z" fill="none" stroke="#2e5c89" stroke-opacity="0.7" stroke-width="0.9" stroke-linejoin="round"/>
<path d="M282.2,103.5 281.2,105.5 281.0,109.1 281.0,113.1 280.0,116.6 282.9,119.1 286.1,120.6 288.7,120.1 288.9,116.1 287.5,112.3 284.4,106.1Z" fill="#a3d4e6" fill-opacity="0.75" stroke="#a3d4e6" stroke-width="0.6" stroke-linejoin="round"/>
<path d="M298.9,133.0 298.6,134.0 298.7,135.2 299.4,136.0 300.2,136.4 302.7,136.6 304.3,135.8 305.0,136.6 306.4,137.5 309.0,138.1 310.5,137.7 311.4,136.3 311.3,135.0 309.3,132.2 309.3,130.8 308.7,129.9 307.0,128.8 305.7,127.3 301.9,125.5 301.0,125.4 300.0,125.8 299.3,126.5 299.0,127.4 301.2,128.0 304.4,129.5 305.2,130.8 306.7,131.6 306.7,133.0 308.4,135.3 306.8,134.7 305.8,133.4 304.2,132.6 302.1,134.0 300.9,133.9Z" fill="#eba668" fill-opacity="0.75" stroke="#eba668" stroke-width="0.6" stroke-linejoin="round"/></g>
<text x="637.9" y="435.5" class="lb">Economic development</text>
<rect x="51.20" y="245.8" width="32.40" height="7.4" fill="#b03a35"/>
<rect x="83.30" y="245.8" width="32.40" height="7.4" fill="#d6453a"/>
<rect x="115.40" y="245.8" width="32.40" height="7.4" fill="#e07a50"/>
<rect x="147.50" y="245.8" width="32.40" height="7.4" fill="#eba668"/>
<rect x="179.60" y="245.8" width="32.40" height="7.4" fill="#a3d4e6"/>
<rect x="211.70" y="245.8" width="32.40" height="7.4" fill="#67adc9"/>
<rect x="243.80" y="245.8" width="32.40" height="7.4" fill="#3b76b0"/>
<rect x="275.90" y="245.8" width="32.40" height="7.4" fill="#27388a"/>
<text x="51.20" y="263.8" class="tk" text-anchor="middle">10</text>
<text x="83.30" y="263.8" class="tk" text-anchor="middle">20</text>
<text x="115.40" y="263.8" class="tk" text-anchor="middle">30</text>
<text x="147.50" y="263.8" class="tk" text-anchor="middle">40</text>
<text x="179.60" y="263.8" class="tk" text-anchor="middle">50</text>
<text x="211.70" y="263.8" class="tk" text-anchor="middle">60</text>
<text x="243.80" y="263.8" class="tk" text-anchor="middle">70</text>
<text x="275.90" y="263.8" class="tk" text-anchor="middle">80</text>
<text x="308.00" y="263.8" class="tk" text-anchor="middle">90</text>
<text x="167.6" y="287.4" class="lb">Score</text>
</svg>
</body></html>
